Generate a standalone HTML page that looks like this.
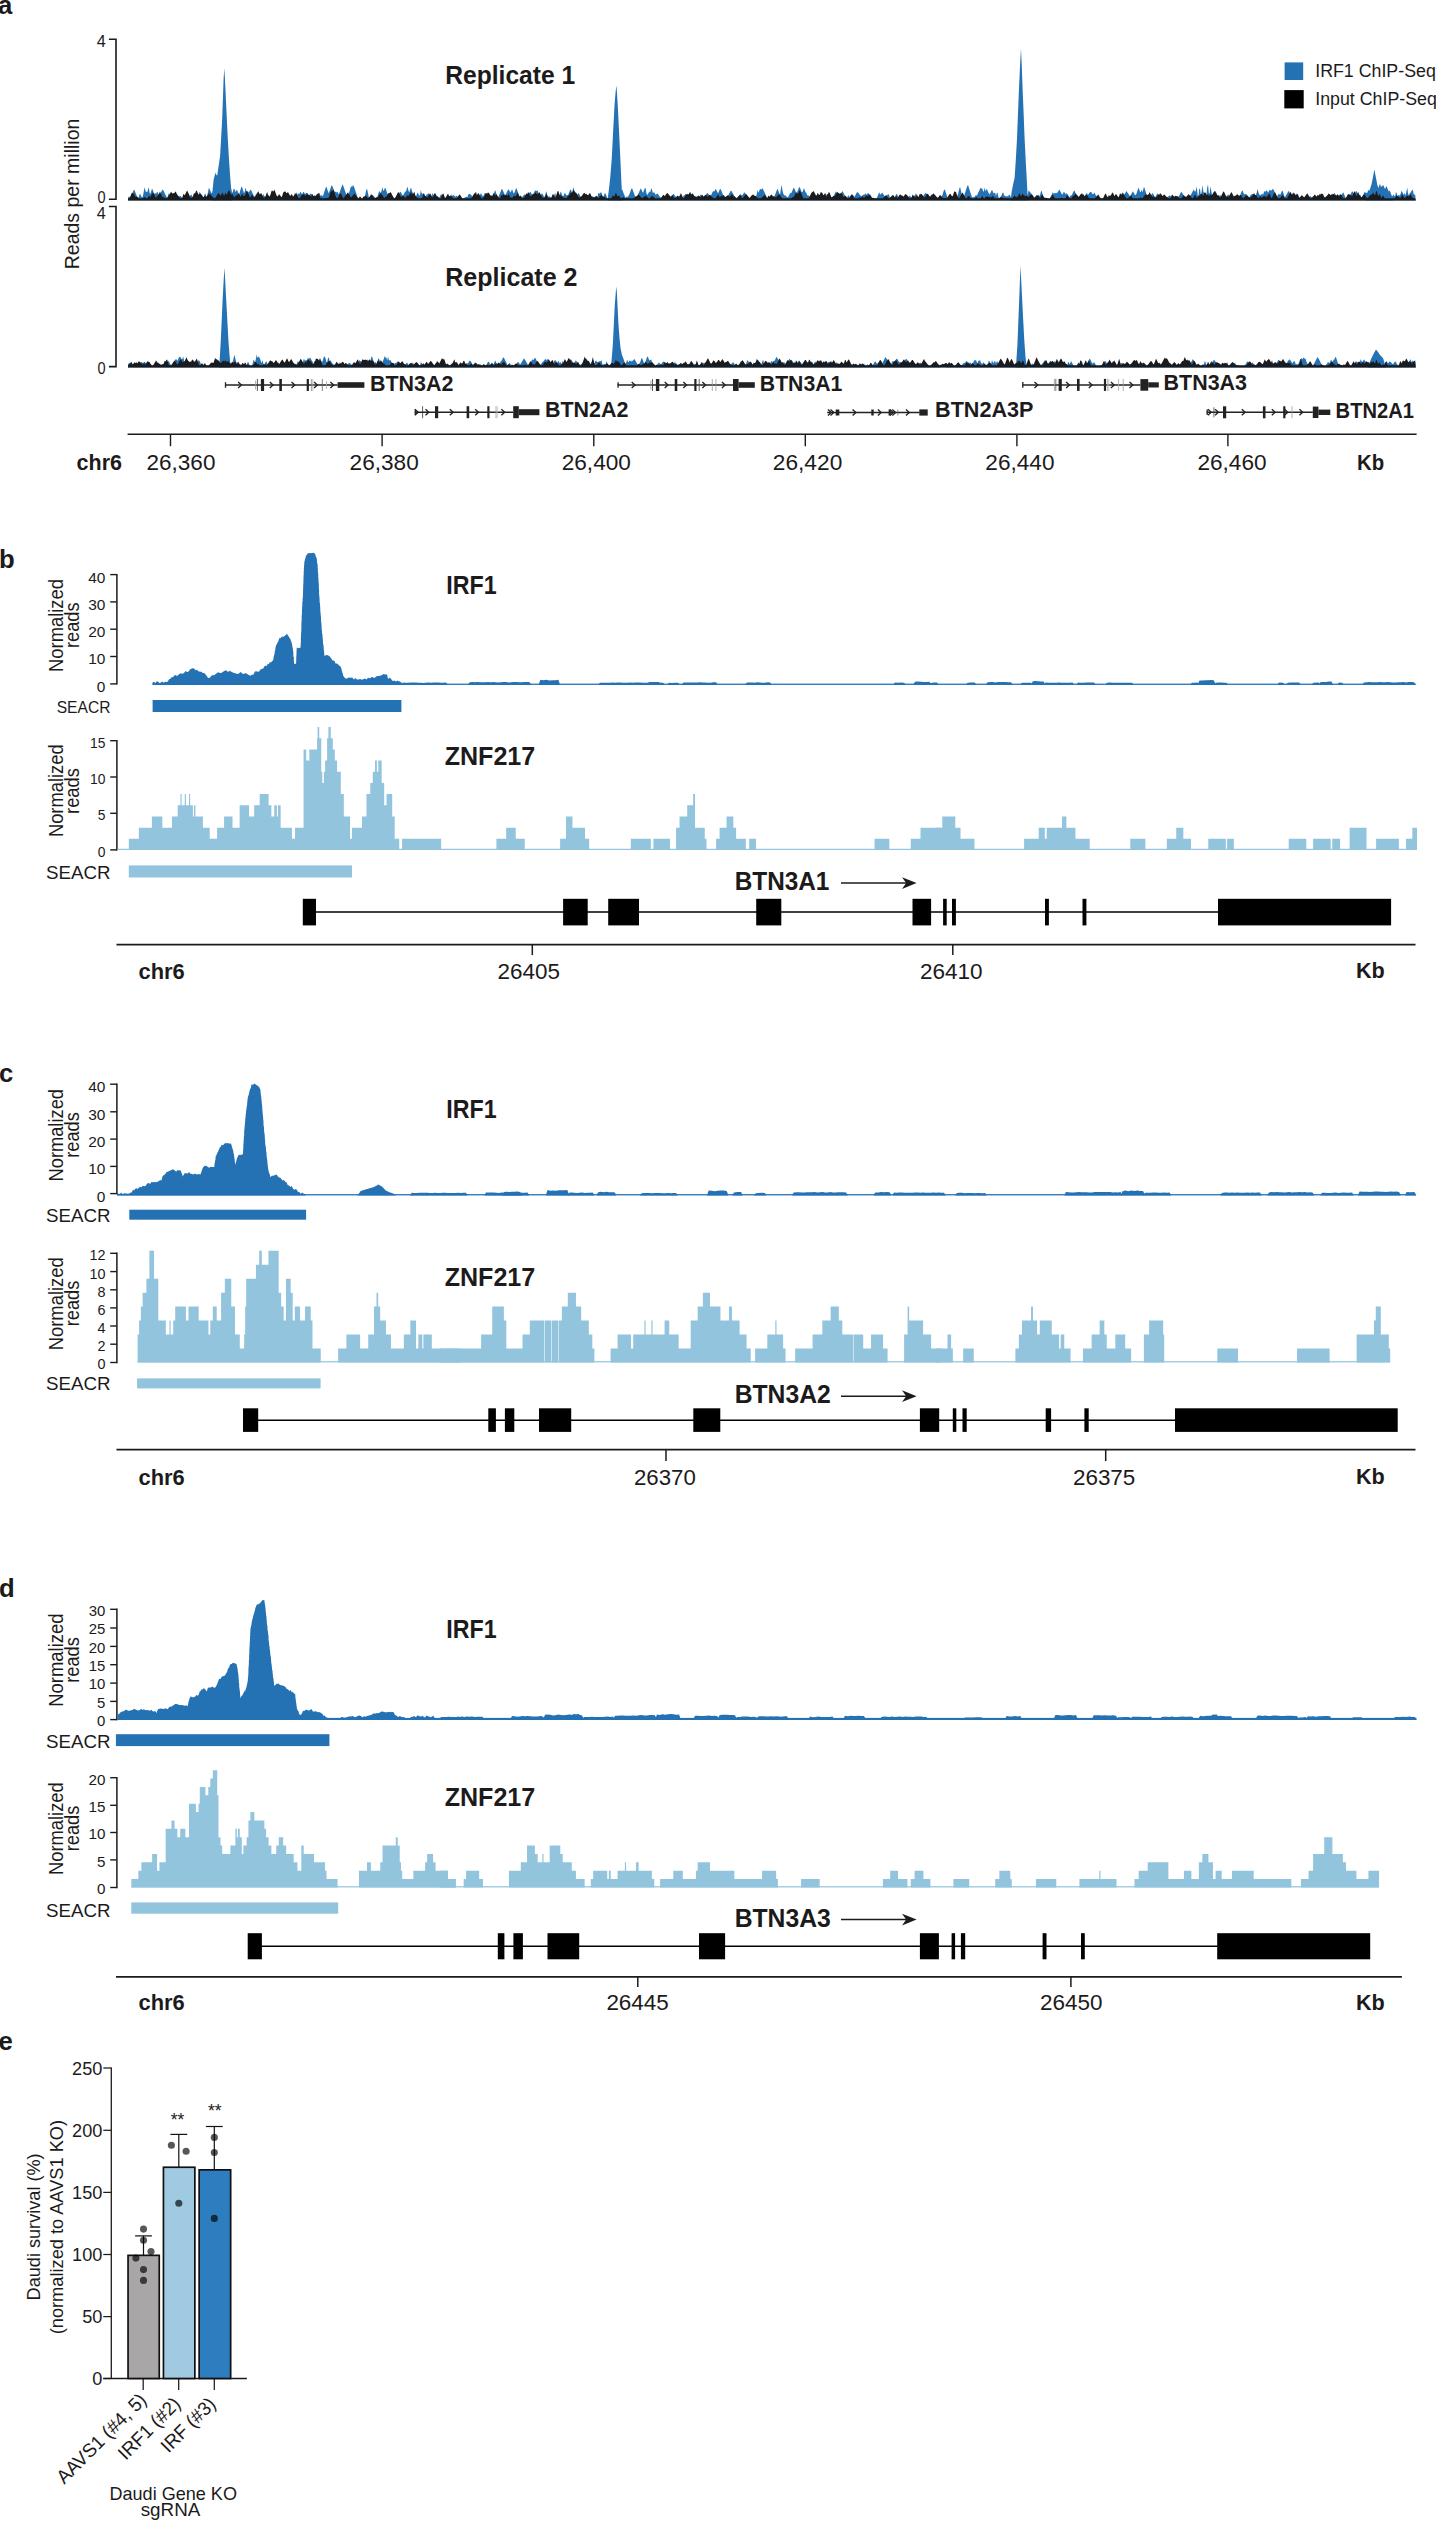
<!DOCTYPE html>
<html><head><meta charset="utf-8"><title>Figure</title>
<style>html,body{margin:0;padding:0;background:#fff;}svg{display:block;}text{font-family:"Liberation Sans",sans-serif;}</style></head>
<body>
<svg width="1436" height="2521" viewBox="0 0 1436 2521" font-family="'Liberation Sans', sans-serif">
<rect width="1436" height="2521" fill="#ffffff"/>
<!-- panel a -->
<text transform="translate(-2.1 13.6) scale(1.0000 1)" font-size="25.7" font-weight="bold" fill="#1c1a1b">a</text>
<path d="M108.9 39.2 H116 V199.2 H108.9" fill="none" stroke="#1c1a1b" stroke-width="1.6"/>
<path d="M108.9 206.5 H116 V366.6 H108.9" fill="none" stroke="#1c1a1b" stroke-width="1.6"/>
<text transform="translate(96.8 46.8) scale(0.9931 1)" font-size="16.3" fill="#1c1a1b">4</text>
<text transform="translate(97.5 202.8) scale(0.8938 1)" font-size="16.3" fill="#1c1a1b">0</text>
<text transform="translate(96.8 218.9) scale(0.9931 1)" font-size="16.3" fill="#1c1a1b">4</text>
<text transform="translate(97.5 374.1) scale(0.8938 1)" font-size="16.3" fill="#1c1a1b">0</text>
<text transform="translate(0 0) rotate(-90) translate(-269.3 79.1) scale(0.9753 1)" font-size="20" fill="#1c1a1b">Reads per million</text>
<text transform="translate(445.2 83.8) scale(0.9770 1)" font-size="25.2" font-weight="bold" fill="#1c1a1b">Replicate 1</text>
<text transform="translate(445.2 286) scale(0.9951 1)" font-size="25.2" font-weight="bold" fill="#1c1a1b">Replicate 2</text>
<rect x="1284.6" y="62.4" width="18.6" height="17.6" fill="#2472b4"/>
<rect x="1284.3" y="90.1" width="19.4" height="18.3" fill="#000000"/>
<text transform="translate(1315.2 76.7) scale(0.9272 1)" font-size="19.2" fill="#1c1a1b">IRF1 ChIP-Seq</text>
<text transform="translate(1315.2 104.7) scale(0.9272 1)" font-size="19.2" fill="#1c1a1b">Input ChIP-Seq</text>
<path d="M128 200.5L128 198.06L128.8 196.61L129.6 196.84L130.4 198.27L131.2 196.4L132 194.34L132.8 192.27L133.6 190.19L134.4 189.88L135.2 191.91L136 193.96L136.8 196.02L137.6 197.99L138.4 198.07L139.2 195.87L140 193.51L140.8 195.34L141.6 196.96L142.4 197.55L143.2 194.64L144 190.32L144.8 187.2L145.6 191.48L146.4 191.84L147.2 192.21L148 189.66L148.8 187.37L149.6 192.64L150.4 193.97L151.2 191.37L152 188.74L152.8 189.89L153.6 192.46L154.4 194.08L155.2 192.71L156 193.99L156.8 192.29L157.6 192.08L158.4 193.98L159.2 195.82L160 194.23L160.8 192.68L161.6 191.2L162.4 189.77L163.2 190L164 191.75L164.8 193.43L165.6 195.06L166.4 196.62L167.2 198.12L168 195.69L168.8 192.96L169.6 195.17L170.4 197.93L171.2 197.88L172 197.13L172.8 196.42L173.6 197.29L174.4 196.92L175.2 196.27L176 195.66L176.8 195.33L177.6 196.52L178.4 197.31L179.2 196.51L180 195.71L180.8 196.14L181.6 197.16L182.4 198.12L183.2 198.96L184 199.53L184.8 199.28L185.6 198.73L186.4 198.15L187.2 198.41L188 198.9L188.8 197.96L189.6 196.65L190.4 195.28L191.2 194.49L192 195.66L192.8 196.9L193.6 197.98L194.4 198.35L195.2 198.73L196 199.13L196.8 198.68L197.6 196.73L198.4 194.69L199.2 192.56L200 192.36L200.8 194.28L201.6 195.83L202.4 196.66L203.2 197.11L204 197.29L204.8 193.62L205.6 194.34L206.4 196.65L207.2 195.22L208 192.23L208.8 188.04L209.6 188.98L210.4 191.21L211.2 192.62L212 193.61L212.8 191.89L213.6 190.14L214.4 190.45L215.2 192.1L216 193.78L216.8 193.41L217.6 191.42L218.4 190.85L219.2 186.99L220 187.4L220.8 191.19L221.6 189.96L222.4 191.53L223.2 194.32L224 197.13L224.8 198.98L225.6 197.8L226.4 196.47L227.2 195.3L228 194.03L228.8 192.35L229.6 188.25L230.4 184.96L231.2 188.98L232 193.05L232.8 192L233.6 189L234.4 188.83L235.2 191.76L236 191.3L236.8 189.44L237.6 191.13L238.4 193.09L239.2 194.22L240 191.47L240.8 188.84L241.6 186.32L242.4 187.96L243.2 190.87L244 193.3L244.8 191.36L245.6 187.41L246.4 190.67L247.2 191.59L248 191.58L248.8 192.38L249.6 190.99L250.4 189.69L251.2 190.21L252 191.97L252.8 193.64L253.6 195.23L254.4 196.74L255.2 196.13L256 193.85L256.8 193.41L257.6 195.91L258.4 198.25L259.2 199.61L260 199.73L260.8 199.76L261.6 198.73L262.4 196.1L263.2 193.73L264 195.94L264.8 196.34L265.6 196.53L266.4 195.54L267.2 194.54L268 195.05L268.8 196.03L269.6 196.99L270.4 195.76L271.2 194.74L272 195.27L272.8 195.78L273.6 196.72L274.4 196.71L275.2 195.96L276 195.44L276.8 196.18L277.6 196.91L278.4 197.65L279.2 198.39L280 199.13L280.8 198.33L281.6 197.3L282.4 196.27L283.2 195.24L284 195.14L284.8 196.16L285.6 197.18L286.4 198.21L287.2 199.24L288 199.9L288.8 199.72L289.6 199.03L290.4 198.33L291.2 197.63L292 196.93L292.8 197.19L293.6 197.79L294.4 198.45L295.2 198.38L296 198.19L296.8 197.63L297.6 194.97L298.4 193.61L299.2 193.89L300 192.49L300.8 191.87L301.6 193.74L302.4 193.99L303.2 191.78L304 192.13L304.8 193.67L305.6 193.83L306.4 192.84L307.2 192.94L308 195.06L308.8 195.73L309.6 194.66L310.4 193.55L311.2 193.72L312 194.6L312.8 195.52L313.6 196.48L314.4 197.49L315.2 197.52L316 196.52L316.8 195.47L317.6 194.39L318.4 194.54L319.2 192.39L320 194.15L320.8 196.21L321.6 195.02L322.4 196.09L323.2 195.46L324 192.96L324.8 190.47L325.6 187.98L326.4 186.57L327.2 189.08L328 191.58L328.8 193.23L329.6 191.01L330.4 188.8L331.2 186.6L332 185.1L332.8 187.33L333.6 189.56L334.4 191.78L335.2 191.94L336 191.41L336.8 192.71L337.6 191.49L338.4 193.98L339.2 193.44L340 191.22L340.8 189L341.6 186.79L342.4 184.59L343.2 185.73L344 187.97L344.8 190.2L345.6 192.42L346.4 194.63L347.2 196.85L348 196.31L348.8 193.66L349.6 191.01L350.4 188.37L351.2 185.74L352 187.39L352.8 185.17L353.6 185.87L354.4 188.11L355.2 190.36L356 192.59L356.8 194.83L357.6 197.06L358.4 199.01L359.2 199.01L360 199.01L360.8 199.01L361.6 199.01L362.4 199.02L363.2 199.02L364 198.27L364.8 197.11L365.6 193.33L366.4 189.48L367.2 189.33L368 193.19L368.8 197.05L369.6 197.35L370.4 196.49L371.2 195.64L372 194.79L372.8 195.11L373.6 195.97L374.4 196.83L375.2 197.68L376 198.53L376.8 198.37L377.6 195.94L378.4 193.49L379.2 191.02L380 191.93L380.8 192.88L381.6 190.65L382.4 187.08L383.2 190.79L384 190.58L384.8 187.98L385.6 188.29L386.4 190.85L387.2 193.42L388 196L388.8 196.31L389.6 194.46L390.4 192.6L391.2 192.82L392 194.65L392.8 196.49L393.6 198.34L394.4 198.93L395.2 198.92L396 198.92L396.8 197.9L397.6 196.35L398.4 194.79L399.2 193.21L400 191.64L400.8 192.11L401.6 193.66L402.4 195.26L403.2 195.15L404 193.67L404.8 192.25L405.6 191.48L406.4 190.53L407.2 186.61L408 188.65L408.8 191.74L409.6 191.75L410.4 188.82L411.2 187.79L412 191L412.8 192.85L413.6 194.04L414.4 195.18L415.2 196.02L416 196.59L416.8 194.55L417.6 192.6L418.4 193.79L419.2 195.86L420 194.98L420.8 190.2L421.6 192.9L422.4 194.21L423.2 193.03L424 193.69L424.8 195.13L425.6 196.5L426.4 194.48L427.2 194.68L428 193.5L428.8 193.31L429.6 194.77L430.4 196.07L431.2 197.36L432 194.91L432.8 192.97L433.6 195.6L434.4 194.4L435.2 193.24L436 194.49L436.8 195.73L437.6 196.95L438.4 198.16L439.2 197.9L440 196.14L440.8 194.41L441.6 194.55L442.4 196.32L443.2 196.95L444 197.73L444.8 199.3L445.6 199.79L446.4 199.81L447.2 199.3L448 198.71L448.8 198.14L449.6 197.57L450.4 196.42L451.2 194.17L452 196.12L452.8 195.21L453.6 194.9L454.4 195.86L455.2 196.68L456 195.95L456.8 195.76L457.6 196.49L458.4 197.22L459.2 197.97L460 198.62L460.8 198.96L461.6 199.22L462.4 198.79L463.2 198.5L464 198.09L464.8 197.51L465.6 196.92L466.4 196.7L467.2 197.25L468 195.59L468.8 193.64L469.6 193.91L470.4 194.2L471.2 194.99L472 196.32L472.8 197.66L473.6 197.5L474.4 196.56L475.2 195.61L476 196.09L476.8 197L477.6 197.92L478.4 198.8L479.2 196.94L480 195.05L480.8 193.13L481.6 194.33L482.4 195.63L483.2 196.47L484 194.76L484.8 192.9L485.6 193.12L486.4 194.79L487.2 195.42L488 193.88L488.8 193L489.6 194.35L490.4 195.76L491.2 197.22L492 198.75L492.8 197.49L493.6 194.85L494.4 192.12L495.2 190.12L496 192.67L496.8 195.31L497.6 198.03L498.4 196.83L499.2 194.99L500 193.08L500.8 191.13L501.6 189.12L502.4 189.5L503.2 191.27L504 193.09L504.8 194.97L505.6 194.76L506.4 193.12L507.2 191.43L508 189.7L508.8 189.56L509.6 191.07L510.4 192.62L511.2 191.22L512 189.05L512.8 191.24L513.6 193.45L514.4 192.86L515.2 190.59L516 188.36L516.8 189.1L517.6 191.48L518.4 193.82L519.2 196.12L520 197.36L520.8 198.24L521.6 197.65L522.4 196.65L523.2 195.68L524 194.73L524.8 194.57L525.6 195.61L526.4 196.63L527.2 196.17L528 194.94L528.8 193.74L529.6 192.56L530.4 191.82L531.2 193.14L532 194.43L532.8 195.69L533.6 194.28L534.4 191.65L535.2 190.16L536 191.06L536.8 190.7L537.6 190.44L538.4 192.65L539.2 194.77L540 195.57L540.8 195.18L541.6 193.6L542.4 193.82L543.2 195.31L544 196.86L544.8 196.7L545.6 193.19L546.4 191.26L547.2 194.67L548 196.83L548.8 196.16L549.6 196.45L550.4 197.03L551.2 197.63L552 198.24L552.8 198.5L553.6 198.32L554.4 194.5L555.2 193.01L556 196.34L556.8 194.77L557.6 193.75L558.4 197.61L559.2 195.8L560 193.59L560.8 191.43L561.6 193.52L562.4 195.66L563.2 196.15L564 194.51L564.8 192.83L565.6 194.01L566.4 195.46L567.2 194.91L568 195.36L568.8 193.24L569.6 191.19L570.4 189.23L571.2 190.5L572 192.76L572.8 189.5L573.6 187.37L574.4 191.43L575.2 192.07L576 193.44L576.8 194.75L577.6 194.53L578.4 192.96L579.2 193.97L580 195.77L580.8 197.27L581.6 198.2L582.4 198.37L583.2 197.48L584 196.65L584.8 195.87L585.6 195.15L586.4 194.49L587.2 195.26L588 195.96L588.8 197.12L589.6 195.03L590.4 192.68L591.2 196.37L592 196.43L592.8 196.35L593.6 197.19L594.4 197.81L595.2 198.41L596 197.88L596.8 197.9L597.6 196.79L598.4 192.47L599.2 193.67L600 193.16L600.8 192.3L601.6 193.09L602.4 195.68L603.2 196.8L604 195.4L604.8 193.11L605.6 193.72L606.4 195.87L607.2 198.09L608 198.6L608.8 198.92L609.6 198.07L610.4 198.96L611.2 199.57L612 199.56L612.8 199.25L613.6 198.36L614.4 197.43L615.2 196.48L616 195.68L616.8 193.47L617.6 191.2L618.4 192.61L619.2 194.73L620 194.95L620.8 192.34L621.6 189.69L622.4 189.74L623.2 192.26L624 194.17L624.8 196.05L625.6 197.95L626.4 196.6L627.2 196.99L628 196.43L628.8 195.41L629.6 193.67L630.4 191.42L631.2 189.14L632 188L632.8 190.16L633.6 192.35L634.4 194.58L635.2 196.83L636 197.35L636.8 196.34L637.6 195.22L638.4 193.47L639.2 191.69L640 189.89L640.8 188.25L641.6 189.93L642.4 191.64L643.2 192.73L644 190.04L644.8 188.13L645.6 188.33L646.4 193.2L647.2 195.08L648 193.82L648.8 192.6L649.6 191.81L650.4 191.81L651.2 188.37L652 189.49L652.8 193.14L653.6 192.32L654.4 192.45L655.2 194.35L656 194.82L656.8 193.79L657.6 193.56L658.4 194.79L659.2 195.97L660 197.01L660.8 197.52L661.6 197.48L662.4 198.33L663.2 198.07L664 197.6L664.8 197.4L665.6 197.97L666.4 198.52L667.2 199.05L668 199.55L668.8 199.38L669.6 198.27L670.4 197.23L671.2 196.25L672 195.34L672.8 194.48L673.6 193.76L674.4 194.92L675.2 196.02L676 197.06L676.8 196.75L677.6 195.63L678.4 196.03L679.2 196.11L680 195.31L680.8 195.65L681.6 196.29L682.4 196.97L683.2 196.53L684 195.37L684.8 195.09L685.6 194L686.4 194.41L687.2 195.25L688 195.25L688.8 194.59L689.6 192.36L690.4 192.02L691.2 194.1L692 196.11L692.8 197.71L693.6 198.67L694.4 197.51L695.2 196.86L696 196.52L696.8 196.48L697.6 195.93L698.4 195.5L699.2 196.34L700 195.84L700.8 194.47L701.6 194.87L702.4 196.15L703.2 197.45L704 197.49L704.8 196.36L705.6 195.23L706.4 194.1L707.2 192.96L708 193.48L708.8 194.6L709.6 195.73L710.4 196.67L711.2 195L712 193.33L712.8 191.66L713.6 190.94L714.4 191.56L715.2 189.65L716 189L716.8 190.89L717.6 192.78L718.4 192.68L719.2 190.78L720 188.87L720.8 189.46L721.6 191.35L722.4 193.24L723.2 195.14L724 197.04L724.8 197.38L725.6 196.58L726.4 195.97L727.2 196.76L728 195.66L728.8 194.23L729.6 192.79L730.4 191.35L731.2 190.54L732 191.95L732.8 193.37L733.6 194.8L734.4 196.23L735.2 197.67L736 199.06L736.8 198.18L737.6 197.3L738.4 196.41L739.2 195.52L740 194.62L740.8 194.33L741.6 195.2L742.4 195.18L743.2 194.01L744 192.83L744.8 192.55L745.6 193.7L746.4 194.86L747.2 196.02L748 197.19L748.8 198.36L749.6 199.26L750.4 199.25L751.2 199.25L752 199.25L752.8 198.25L753.6 196.82L754.4 195.39L755.2 196.21L756 197.58L756.8 193.86L757.6 190.11L758.4 192.91L759.2 191.01L760 189.08L760.8 189.17L761.6 189.45L762.4 188.05L763.2 189.69L764 191.36L764.8 193.05L765.6 194.77L766.4 196.51L767.2 198.28L768 199.11L768.8 199.1L769.6 199.09L770.4 198.64L771.2 197.2L772 197.38L772.8 198.81L773.6 198.3L774.4 196.32L775.2 194.32L776 192.29L776.8 190.33L777.6 188.64L778.4 190.97L779.2 193.32L780 194.87L780.8 189.57L781.6 184.74L782.4 189.98L783.2 193.58L784 194.77L784.8 195.54L785.6 195.48L786.4 196.3L787.2 197.19L788 197.14L788.8 195.66L789.6 194.2L790.4 192.75L791.2 193.37L792 191.5L792.8 189.64L793.6 187.78L794.4 188.46L795.2 190.39L796 192.3L796.8 193L797.6 191L798.4 189.02L799.2 187.05L800 187.87L800.8 189.92L801.6 191.95L802.4 192.31L803.2 190.31L804 188.33L804.8 190.19L805.6 192.24L806.4 192.98L807.2 195.32L808 195.43L808.8 195.62L809.6 197.06L810.4 195.61L811.2 194.17L812 192.75L812.8 194.23L813.6 195.72L814.4 196.92L815.2 197.12L816 196.27L816.8 195.45L817.6 194.64L818.4 195.12L819.2 196.03L820 196.91L820.8 197.78L821.6 197.62L822.4 194.47L823.2 195.4L824 197.05L824.8 193.64L825.6 193.26L826.4 194.75L827.2 196.2L828 194.92L828.8 197.63L829.6 198.84L830.4 198.19L831.2 197.96L832 197.27L832.8 196.99L833.6 196.31L834.4 194.49L835.2 192.71L836 191.28L836.8 193L837.6 195.02L838.4 196.98L839.2 196.34L840 195.49L840.8 194.37L841.6 192.71L842.4 191.05L843.2 192.19L844 193.85L844.8 195.51L845.6 197.17L846.4 198.83L847.2 197.81L848 195.49L848.8 195.41L849.6 197.15L850.4 196.26L851.2 195.08L852 194.47L852.8 194.94L853.6 195.83L854.4 196.72L855.2 195.38L856 193.98L856.8 192.58L857.6 192.22L858.4 192.85L859.2 193.93L860 195.01L860.8 196.09L861.6 196.27L862.4 195.31L863.2 194.4L864 195.35L864.8 193.98L865.6 193.6L866.4 194.63L867.2 194.12L868 193.04L868.8 193.46L869.6 194.57L870.4 194.39L871.2 195.92L872 197.42L872.8 198.25L873.6 199.08L874.4 199.62L875.2 199.63L876 198.99L876.8 198.1L877.6 196.23L878.4 194.21L879.2 192.2L880 194.12L880.8 194.47L881.6 193.31L882.4 192.72L883.2 193.93L884 195.13L884.8 196.32L885.6 197.09L886.4 194.69L887.2 195.58L888 194.11L888.8 194.52L889.6 196.8L890.4 196.78L891.2 197.58L892 197.83L892.8 197.43L893.6 198.07L894.4 197.7L895.2 196.24L896 194.76L896.8 193.81L897.6 195.27L898.4 196.74L899.2 196.54L900 195.64L900.8 195.05L901.6 195.93L902.4 196.16L903.2 196.92L904 197.68L904.8 198.44L905.6 199.21L906.4 198.54L907.2 197.82L908 197.09L908.8 196.37L909.6 195.67L910.4 196.38L911.2 197.09L912 197.45L912.8 196.7L913.6 196.83L914.4 195.63L915.2 194.42L916 193.62L916.8 194.81L917.6 195.99L918.4 197.19L919.2 196.74L920 195.68L920.8 194.62L921.6 193.96L922.4 195L923.2 195.99L924 195L924.8 193.84L925.6 192.64L926.4 193.41L927.2 194.39L928 195.42L928.8 196.49L929.6 197.14L930.4 196.04L931.2 194.76L932 195.12L932.8 196L933.6 196.06L934.4 194.75L935.2 195.68L936 196.88L936.8 198.12L937.6 199.32L938.4 199.3L939.2 198.67L940 197.93L940.8 197.18L941.6 196.92L942.4 194.93L943.2 192.44L944 189.88L944.8 189.41L945.6 191.78L946.4 194.22L947.2 196.72L948 197.89L948.8 198.3L949.6 198.58L950.4 198.14L951.2 197.72L952 197.5L952.8 197.93L953.6 197.47L954.4 196.91L955.2 196.91L956 197.34L956.8 196.75L957.6 195.79L958.4 192.47L959.2 189.14L960 186.78L960.8 190.1L961.6 193.42L962.4 196.75L963.2 198.58L964 196.14L964.8 193.7L965.6 191.25L966.4 188.81L967.2 186.36L968 185.08L968.8 187.52L969.6 189.96L970.4 192.4L971.2 194.84L972 197.29L972.8 197.34L973.6 197.03L974.4 197.25L975.2 196.07L976 194.88L976.8 195.76L977.6 194.26L978.4 192.31L979.2 190.92L980 188.8L980.8 187.73L981.6 188.44L982.4 189.12L983.2 191.93L984 190.56L984.8 187.5L985.6 191.48L986.4 189.25L987.2 189.46L988 192.02L988.8 192.91L989.6 194.59L990.4 192.95L991.2 191.35L992 189.84L992.8 191.51L993.6 193.39L994.4 192.7L995.2 192.98L996 196.1L996.8 192.94L997.6 192.72L998.4 197.28L999.2 197.95L1000 197.21L1000.8 196.43L1001.6 195.5L1002.4 192.93L1003.2 192.41L1004 194.87L1004.8 196.02L1005.6 196.26L1006.4 196.38L1007.2 195.89L1008 196.51L1008.8 194.89L1009.6 194.8L1010.4 196.26L1011.2 197.79L1012 197.48L1012.8 196.54L1013.6 196.27L1014.4 195.76L1015.2 196.29L1016 194.99L1016.8 193.49L1017.6 191.93L1018.4 192.85L1019.2 194.19L1020 195.58L1020.8 194.86L1021.6 195.31L1022.4 196.61L1023.2 197.95L1024 198.01L1024.8 198.12L1025.6 196.56L1026.4 196.98L1027.2 195.79L1028 192.9L1028.8 189.93L1029.6 191.81L1030.4 192.58L1031.2 193.62L1032 194.31L1032.8 195.35L1033.6 196.4L1034.4 197.45L1035.2 198.5L1036 199.29L1036.8 197.42L1037.6 195.2L1038.4 194.5L1039.2 195.96L1040 195.46L1040.8 192.1L1041.6 190.49L1042.4 193.86L1043.2 197.23L1044 197.19L1044.8 198.12L1045.6 198.87L1046.4 198.41L1047.2 197.96L1048 198.43L1048.8 198.9L1049.6 199.15L1050.4 197.42L1051.2 195.69L1052 193.97L1052.8 192.26L1053.6 193.4L1054.4 193.14L1055.2 193.05L1056 193.47L1056.8 192.84L1057.6 192.47L1058.4 190.94L1059.2 189.41L1060 190.73L1060.8 192.3L1061.6 193.87L1062.4 194.65L1063.2 193.02L1064 191.4L1064.8 192.96L1065.6 194.35L1066.4 193.14L1067.2 193.66L1068 194.91L1068.8 196.14L1069.6 197.36L1070.4 195.73L1071.2 195.46L1072 194.78L1072.8 193.06L1073.6 191.35L1074.4 190.45L1075.2 192.2L1076 193.95L1076.8 195.68L1077.6 197.4L1078.4 198.14L1079.2 196.06L1080 195.9L1080.8 196.94L1081.6 193.16L1082.4 193.27L1083.2 197.47L1084 197.14L1084.8 195.81L1085.6 194.49L1086.4 193.18L1087.2 193.54L1088 194.91L1088.8 193.75L1089.6 192.58L1090.4 191.99L1091.2 192.04L1092 193.58L1092.8 194.18L1093.6 193.73L1094.4 192.55L1095.2 194.18L1096 195.47L1096.8 196.16L1097.6 197.61L1098.4 198.87L1099.2 199.58L1100 199.67L1100.8 199.68L1101.6 199.69L1102.4 199.7L1103.2 199.7L1104 199.6L1104.8 199.17L1105.6 198.75L1106.4 198.95L1107.2 197.66L1108 196.01L1108.8 195.01L1109.6 196.72L1110.4 197.97L1111.2 197.97L1112 198.49L1112.8 197.71L1113.6 197.35L1114.4 198.23L1115.2 199.04L1116 199.77L1116.8 199.75L1117.6 199.12L1118.4 198.25L1119.2 197.34L1120 196.66L1120.8 195.28L1121.6 193.85L1122.4 192.35L1123.2 193.29L1124 194.53L1124.8 193.86L1125.6 192.46L1126.4 191.08L1127.2 192.18L1128 193.35L1128.8 194.56L1129.6 195.83L1130.4 195.69L1131.2 194.19L1132 192.63L1132.8 191.23L1133.6 192.55L1134.4 193.93L1135.2 195.35L1136 194.7L1136.8 192.72L1137.6 190.13L1138.4 187.45L1139.2 189.45L1140 191.86L1140.8 192.22L1141.6 189.6L1142.4 192.24L1143.2 189.79L1144 186.66L1144.8 189.11L1145.6 191.62L1146.4 194.05L1147.2 196.39L1148 197.86L1148.8 197.82L1149.6 196.99L1150.4 196.2L1151.2 194.91L1152 193.61L1152.8 193.16L1153.6 194.68L1154.4 196.14L1155.2 197.27L1156 195.85L1156.8 194.51L1157.6 193.23L1158.4 194.14L1159.2 195.66L1160 197.11L1160.8 198.48L1161.6 198.35L1162.4 198L1163.2 197.67L1164 197.8L1164.8 198.17L1165.6 197.64L1166.4 197.78L1167.2 197.31L1168 196.76L1168.8 196.12L1169.6 195.38L1170.4 195.74L1171.2 196.43L1172 197.17L1172.8 196.25L1173.6 195.78L1174.4 197.42L1175.2 198.94L1176 198.42L1176.8 197.88L1177.6 197.31L1178.4 196.64L1179.2 195.43L1180 194.01L1180.8 192.54L1181.6 192.02L1182.4 193.25L1183.2 194.52L1184 195.85L1184.8 197.24L1185.6 198.68L1186.4 199.03L1187.2 198.59L1188 198.04L1188.8 197.17L1189.6 196.26L1190.4 195.33L1191.2 194.37L1192 192.83L1192.8 191.23L1193.6 189.59L1194.4 190.66L1195.2 192.06L1196 190.02L1196.8 186.48L1197.6 194.5L1198.4 196.43L1199.2 189.11L1200 188.68L1200.8 195.04L1201.6 192.09L1202.4 184.98L1203.2 191.09L1204 192.99L1204.8 192L1205.6 194.74L1206.4 195.51L1207.2 187.81L1208 184.5L1208.8 192.9L1209.6 193.52L1210.4 186.6L1211.2 190.48L1212 194.81L1212.8 193.58L1213.6 191.97L1214.4 193.32L1215.2 194.6L1216 191.56L1216.8 195.55L1217.6 197.01L1218.4 195.95L1219.2 196.88L1220 194.48L1220.8 195.73L1221.6 196.6L1222.4 197.44L1223.2 197.8L1224 197.33L1224.8 197.89L1225.6 197.12L1226.4 196.33L1227.2 195.51L1228 195L1228.8 194.44L1229.6 195.88L1230.4 196.86L1231.2 195.29L1232 195.29L1232.8 196.77L1233.6 196.8L1234.4 197.03L1235.2 197.59L1236 198.16L1236.8 198.56L1237.6 197.53L1238.4 196.76L1239.2 197.59L1240 195.6L1240.8 193.56L1241.6 191.46L1242.4 190.26L1243.2 192.19L1244 194.17L1244.8 194.21L1245.6 194.1L1246.4 194.16L1247.2 195.06L1248 196.4L1248.8 197.76L1249.6 196.73L1250.4 195.55L1251.2 194.35L1252 194.45L1252.8 193.7L1253.6 195.28L1254.4 196.22L1255.2 195.36L1256 194.97L1256.8 192.33L1257.6 189.11L1258.4 192.51L1259.2 194.21L1260 195.37L1260.8 195.36L1261.6 193.9L1262.4 193.8L1263.2 194.71L1264 191.71L1264.8 191.25L1265.6 191.84L1266.4 190.32L1267.2 191.11L1268 192.65L1268.8 191.6L1269.6 189.81L1270.4 190.36L1271.2 190.46L1272 190.34L1272.8 188.61L1273.6 189.85L1274.4 191.59L1275.2 193.33L1276 195.06L1276.8 196.79L1277.6 195.58L1278.4 194.35L1279.2 193.66L1280 194.96L1280.8 193.77L1281.6 191.61L1282.4 190.41L1283.2 192.75L1284 195.02L1284.8 197.23L1285.6 196.1L1286.4 194.63L1287.2 193.21L1288 192.03L1288.8 190.79L1289.6 192.72L1290.4 194.59L1291.2 196.41L1292 194.7L1292.8 192.64L1293.6 192.49L1294.4 194.72L1295.2 196.88L1296 197.35L1296.8 195.33L1297.6 193.39L1298.4 195.12L1299.2 197.19L1300 198.04L1300.8 198.7L1301.6 198.48L1302.4 197.8L1303.2 197.15L1304 197.05L1304.8 197.81L1305.6 198.4L1306.4 197.49L1307.2 196.74L1308 196.89L1308.8 197.14L1309.6 196.55L1310.4 196.24L1311.2 196.81L1312 197.4L1312.8 197.48L1313.6 197.59L1314.4 198.09L1315.2 198.44L1316 198.43L1316.8 196.52L1317.6 194.57L1318.4 195.88L1319.2 197.79L1320 199.73L1320.8 199.82L1321.6 199.81L1322.4 199.41L1323.2 198.85L1324 198.2L1324.8 197.53L1325.6 196.86L1326.4 196.18L1327.2 195.45L1328 195.15L1328.8 194.97L1329.6 193.88L1330.4 194.88L1331.2 195.9L1332 196.94L1332.8 196.45L1333.6 194.6L1334.4 192.66L1335.2 193.98L1336 195.78L1336.8 197.64L1337.6 196.91L1338.4 195.87L1339.2 194.8L1340 195.07L1340.8 196.02L1341.6 195.53L1342.4 193.55L1343.2 192.15L1344 193.99L1344.8 195.88L1345.6 197.83L1346.4 199.52L1347.2 199.5L1348 199.13L1348.8 197.64L1349.6 196.11L1350.4 194.54L1351.2 192.94L1352 191.3L1352.8 191.79L1353.6 193.27L1354.4 194.25L1355.2 192.64L1356 191L1356.8 191.6L1357.6 193.09L1358.4 194.61L1359.2 196.17L1360 197.52L1360.8 197.97L1361.6 197.45L1362.4 196.05L1363.2 194.64L1364 193.21L1364.8 191.77L1365.6 192.69L1366.4 192.8L1367.2 192.92L1368 190.64L1368.8 189.83L1369.6 192.23L1370.4 194.64L1371.2 197.08L1372 199.21L1372.8 199.2L1373.6 199.2L1374.4 195.99L1375.2 192.26L1376 188.97L1376.8 192.67L1377.6 193.15L1378.4 191.05L1379.2 190.67L1380 192.72L1380.8 194.79L1381.6 196.87L1382.4 197.7L1383.2 195.83L1384 192.88L1384.8 190.08L1385.6 189.56L1386.4 194.8L1387.2 193.98L1388 192.81L1388.8 191.55L1389.6 190.36L1390.4 192.32L1391.2 194.27L1392 196.24L1392.8 195.72L1393.6 194.29L1394.4 195.92L1395.2 195.92L1396 191.78L1396.8 193.77L1397.6 196.08L1398.4 194.9L1399.2 195.46L1400 195.21L1400.8 193.32L1401.6 190.71L1402.4 192.12L1403.2 194L1404 194.81L1404.8 192.69L1405.6 195.39L1406.4 191.84L1407.2 187.58L1408 193.24L1408.8 195.48L1409.6 193.4L1410.4 192.84L1411.2 191.19L1412 190.83L1412.8 189.2L1413.6 194.05L1414.4 194.42L1415.2 194.89L1415.8 200.5Z" fill="#2472b4"/>
<path d="M211.9 200.5L212.4 192L213.6 180L215.4 172.5L216 174.5L217.2 175.5L218.6 166L220.1 156L221.2 137L222.2 118.5L223 96L223.6 79L224.3 68.2L224.9 78L225.4 88L226.4 110L227.6 135L228.9 158L230.2 177L231.4 192L232.2 200.5Z" fill="#2472b4"/>
<path d="M607.4 200.5L608.6 192L610.2 178L611.8 158L613.2 130L614.6 104L615.6 92L616.4 85.6L617 93L617.9 108L619.2 135L620.4 160L621.4 182L622.4 200.5Z" fill="#2472b4"/>
<path d="M1010.6 200.5L1011.6 192L1013.2 184L1014.6 178L1015.8 160L1017 138.6L1018 113L1019 88.5L1020.2 62L1021 48.8L1021.7 64L1022.6 88.5L1023.6 113L1024.6 138.6L1025.8 162L1026.8 180L1027.8 200.5Z" fill="#2472b4"/>
<path d="M1366 200.5L1368 194L1370 189L1371.6 184L1372.8 178L1373.8 172.5L1374.5 169.8L1375.3 174.5L1376.2 179L1377.2 184.5L1378.5 188L1380 183.5L1381 187L1383.2 185L1385 189L1386.5 186L1388.5 191L1391 196L1393 200.5Z" fill="#2472b4"/>
<path d="M128 200.5L128 198.2L128.8 198.2L129.6 198.2L130.4 196.34L131.2 194.32L132 192.55L132.8 193.15L133.6 193.68L134.4 194.7L135.2 196.47L136 196.85L136.8 196.4L137.6 197.03L138.4 197.67L139.2 198.2L140 198.2L140.8 198.2L141.6 198.2L142.4 198.2L143.2 197.99L144 197.24L144.8 197.11L145.6 197.83L146.4 198.2L147.2 198.2L148 197.23L148.8 196.11L149.6 196.34L150.4 197.08L151.2 194.83L152 194.11L152.8 192.18L153.6 193.5L154.4 195.11L155.2 196.74L156 197.82L156.8 196.81L157.6 195.81L158.4 194.8L159.2 193.32L160 191.57L160.8 193.39L161.6 195.23L162.4 197.07L163.2 197.49L164 197L164.8 197.82L165.6 198.2L166.4 198.2L167.2 198.1L168 196.76L168.8 195.42L169.6 194.06L170.4 192.7L171.2 191.87L172 193.2L172.8 193.62L173.6 192.9L174.4 193.27L175.2 191.39L176 192.07L176.8 193.93L177.6 195.11L178.4 196.04L179.2 196.98L180 197.92L180.8 198.2L181.6 198.2L182.4 197.42L183.2 194.33L184 194.16L184.8 195.19L185.6 193.45L186.4 191.7L187.2 190.53L188 192.26L188.8 193.99L189.6 195.72L190.4 197.45L191.2 197.89L192 197.15L192.8 197.23L193.6 193.91L194.4 193.31L195.2 193.33L196 191.03L196.8 190.55L197.6 192.85L198.4 194.63L199.2 194.45L200 193.7L200.8 193.67L201.6 194.75L202.4 195.83L203.2 196.91L204 196.89L204.8 195.22L205.6 196.44L206.4 197.02L207.2 195.4L208 195.79L208.8 192.78L209.6 194.18L210.4 194.14L211.2 195.22L212 196.3L212.8 196.68L213.6 197.64L214.4 198.2L215.2 197.75L216 197.12L216.8 195.3L217.6 194.56L218.4 192.72L219.2 193.46L220 195.29L220.8 195.42L221.6 194.07L222.4 192.38L223.2 193.84L224 195.99L224.8 194.22L225.6 192.41L226.4 194.72L227.2 193.63L228 191.78L228.8 189.92L229.6 191.14L230.4 192.99L231.2 194.81L232 194.5L232.8 194.23L233.6 196.75L234.4 197.23L235.2 196.59L236 194.9L236.8 195.66L237.6 194.43L238.4 193.34L239.2 194.56L240 195.78L240.8 197L241.6 194.72L242.4 193.71L243.2 195.69L244 196.01L244.8 195.65L245.6 193.65L246.4 191.65L247.2 190.88L248 192.87L248.8 194.86L249.6 196.86L250.4 197.62L251.2 196.06L252 194.49L252.8 195.66L253.6 197.22L254.4 196.88L255.2 196.38L256 195.47L256.8 194.19L257.6 192.18L258.4 191.33L259.2 193.33L260 194.55L260.8 193.03L261.6 193.7L262.4 195.22L263.2 196.73L264 198.14L264.8 197.57L265.6 196.3L266.4 193.65L267.2 191.98L268 195.02L268.8 195.85L269.6 196.75L270.4 195.04L271.2 191.92L272 190.37L272.8 191.26L273.6 191.51L274.4 189.61L275.2 191.82L276 193.99L276.8 196.12L277.6 196.39L278.4 195.37L279.2 194.37L280 195.24L280.8 196.32L281.6 197.38L282.4 195.2L283.2 192.72L284 191.39L284.8 191.63L285.6 191.56L286.4 193.35L287.2 192.84L288 191.98L288.8 193.52L289.6 195.02L290.4 196.06L291.2 194.35L292 194.36L292.8 196.15L293.6 196.35L294.4 194.54L295.2 192.79L296 194.69L296.8 192.16L297.6 195.48L298.4 198.07L299.2 198.2L300 197.76L300.8 196.45L301.6 195.17L302.4 194.2L303.2 194.64L304 194.08L304.8 195.34L305.6 195.79L306.4 194.66L307.2 193.5L308 194.34L308.8 195.04L309.6 195.18L310.4 195.97L311.2 196.79L312 194.54L312.8 194.21L313.6 196.44L314.4 195.24L315.2 196.07L316 195.48L316.8 194.3L317.6 193.9L318.4 192.78L319.2 194.69L320 196.65L320.8 198.2L321.6 198.2L322.4 198.2L323.2 198.2L324 198.17L324.8 198.15L325.6 198.12L326.4 198.09L327.2 198.06L328 198.03L328.8 197.58L329.6 194.91L330.4 192.17L331.2 190.29L332 191.72L332.8 190.32L333.6 189.49L334.4 191.84L335.2 194.92L336 196.84L336.8 198.07L337.6 198.11L338.4 196.84L339.2 195.3L340 193.82L340.8 193.17L341.6 194.83L342.4 196.43L343.2 197.97L344 197.55L344.8 196.43L345.6 195.36L346.4 194.47L347.2 193.28L348 192.33L348.8 193.78L349.6 195.17L350.4 196.5L351.2 197.46L352 196.41L352.8 195.42L353.6 194.48L354.4 193.6L355.2 194.48L356 195.63L356.8 196.73L357.6 197.77L358.4 198.2L359.2 197.43L360 196.31L360.8 197.19L361.6 198.2L362.4 198.15L363.2 196.99L364 196.15L364.8 196.56L365.6 195.56L366.4 196.36L367.2 197.21L368 198.1L368.8 197.84L369.6 196.72L370.4 195.55L371.2 194.34L372 195.1L372.8 196.14L373.6 197.22L374.4 197.95L375.2 198.2L376 197.6L376.8 196.9L377.6 197.42L378.4 196.25L379.2 195.05L380 193.8L380.8 193.19L381.6 194.25L382.4 195.35L383.2 196.5L384 197.68L384.8 197.71L385.6 196.8L386.4 196.87L387.2 195.06L388 193.14L388.8 193.27L389.6 192.94L390.4 192.05L391.2 193.45L392 194.97L392.8 196.21L393.6 197.4L394.4 198.2L395.2 197.8L396 196.31L396.8 194.84L397.6 193.05L398.4 191.95L399.2 193.45L400 194.95L400.8 196.43L401.6 197.03L402.4 196.09L403.2 195.63L404 196.62L404.8 197.59L405.6 197.73L406.4 196.58L407.2 195.03L408 196.05L408.8 195.57L409.6 194.13L410.4 192.71L411.2 192.48L412 193.97L412.8 194.38L413.6 192.95L414.4 191.76L415.2 195.34L416 196.26L416.8 197.19L417.6 198.1L418.4 198.2L419.2 198.2L420 198.2L420.8 198.2L421.6 197.69L422.4 197.64L423.2 194.85L424 193.56L424.8 195.68L425.6 196.16L426.4 197.11L427.2 197.4L428 196.8L428.8 195.35L429.6 193.87L430.4 193.77L431.2 195.27L432 196.76L432.8 197.5L433.6 195.43L434.4 193.38L435.2 193.42L436 195.41L436.8 197L437.6 195.98L438.4 197.17L439.2 197.83L440 198.2L440.8 198.2L441.6 196.31L442.4 194.18L443.2 193.15L444 195.29L444.8 197.42L445.6 197.71L446.4 196.36L447.2 195.09L448 193.6L448.8 195.53L449.6 196.33L450.4 195.55L451.2 196.25L452 197L452.8 197.77L453.6 198.2L454.4 198.2L455.2 198.2L456 198.2L456.8 198.2L457.6 197.17L458.4 195.89L459.2 194.6L460 194.8L460.8 196.05L461.6 197.31L462.4 198.2L463.2 198.2L464 198.2L464.8 198.2L465.6 198.2L466.4 198.2L467.2 198.2L468 198.2L468.8 198.2L469.6 198.2L470.4 198.2L471.2 198.2L472 197.04L472.8 195.82L473.6 194.58L474.4 193.33L475.2 193.26L476 191.61L476.8 195.18L477.6 194.09L478.4 193.03L479.2 194.32L480 195.69L480.8 197.03L481.6 198.2L482.4 198.2L483.2 197.87L484 196.54L484.8 195.24L485.6 193.95L486.4 193.02L487.2 193.67L488 192.25L488.8 193.1L489.6 194.61L490.4 195.56L491.2 195.22L492 196.33L492.8 194.83L493.6 193.04L494.4 194.18L495.2 195.66L496 194.27L496.8 194.43L497.6 195.9L498.4 197.34L499.2 198.2L500 198.2L500.8 196.73L501.6 194.81L502.4 195.58L503.2 194.54L504 194.32L504.8 195.44L505.6 195.06L506.4 194.89L507.2 195.93L508 194.93L508.8 193.83L509.6 195.74L510.4 197.71L511.2 197.24L512 197.95L512.8 197.12L513.6 196.21L514.4 195.55L515.2 196.36L516 195.82L516.8 194.06L517.6 192.73L518.4 194.37L519.2 196.06L520 196.54L520.8 195.36L521.6 196.96L522.4 198.13L523.2 197.98L524 197.7L524.8 196.22L525.6 194.7L526.4 193.15L527.2 194.34L528 192.14L528.8 192.69L529.6 195.12L530.4 196.13L531.2 196.19L532 195.2L532.8 193.8L533.6 193.72L534.4 193.87L535.2 192.34L536 192.93L536.8 194.35L537.6 193.46L538.4 193.67L539.2 192.12L540 193.31L540.8 194.83L541.6 196.36L542.4 197.2L543.2 197.83L544 198.1L544.8 197.29L545.6 195.32L546.4 193.9L547.2 195.85L548 197.82L548.8 198.06L549.6 198.05L550.4 198.04L551.2 197.83L552 195.89L552.8 193.95L553.6 194.46L554.4 196.39L555.2 197.99L556 196.65L556.8 193.82L557.6 190.97L558.4 191.2L559.2 194.02L560 195.89L560.8 195.06L561.6 196.34L562.4 196.86L563.2 197.18L564 197.78L564.8 197.9L565.6 197.89L566.4 197.89L567.2 196.96L568 196.05L568.8 195.44L569.6 194.76L570.4 192.43L571.2 193.49L572 192.37L572.8 191.79L573.6 190.14L574.4 191.01L575.2 192.84L576 192.49L576.8 193.87L577.6 195.22L578.4 196.53L579.2 197.81L580 197.33L580.8 196.54L581.6 196.32L582.4 195.1L583.2 193.92L584 192.78L584.8 193.36L585.6 194.19L586.4 193.66L587.2 194.82L588 195.41L588.8 194.23L589.6 193.07L590.4 194.46L591.2 195.77L592 197.03L592.8 197.56L593.6 197.16L594.4 197.37L595.2 196.14L596 196.86L596.8 195.45L597.6 196.94L598.4 198.2L599.2 197.12L600 196.29L600.8 195.5L601.6 194.72L602.4 196.23L603.2 197.31L604 196.47L604.8 197.11L605.6 197.98L606.4 198.2L607.2 198.2L608 198.2L608.8 198.2L609.6 198.2L610.4 198.2L611.2 198.2L612 196.92L612.8 195.27L613.6 196.22L614.4 196.83L615.2 194.25L616 192.52L616.8 194.86L617.6 196.64L618.4 195.73L619.2 195.19L620 197.23L620.8 197.96L621.6 198.2L622.4 197.7L623.2 196.9L624 197.45L624.8 198.2L625.6 198.2L626.4 198.2L627.2 198.2L628 198.2L628.8 198.2L629.6 198.2L630.4 198.2L631.2 198.2L632 198.2L632.8 198.2L633.6 198.2L634.4 197.84L635.2 196.77L636 196.26L636.8 196.32L637.6 195.4L638.4 194.47L639.2 195.04L640 195.99L640.8 196.87L641.6 197.77L642.4 198.2L643.2 197.37L644 197.07L644.8 196.31L645.6 195.54L646.4 196.22L647.2 196.95L648 197.68L648.8 198.2L649.6 198.14L650.4 197.51L651.2 196.81L652 196.1L652.8 196.31L653.6 196.97L654.4 197.64L655.2 198.2L656 198.2L656.8 198.2L657.6 198.2L658.4 198.2L659.2 198.2L660 198.2L660.8 198.2L661.6 197.31L662.4 196.1L663.2 194.87L664 195.21L664.8 196.2L665.6 194.72L666.4 194.09L667.2 192.75L668 193.75L668.8 194.59L669.6 195.54L670.4 196.49L671.2 196.69L672 195.36L672.8 195.66L673.6 196.97L674.4 198.2L675.2 197.93L676 197.53L676.8 196.55L677.6 195.41L678.4 197.02L679.2 197.73L680 195.42L680.8 193.09L681.6 194.57L682.4 196.87L683.2 198.2L684 198.15L684.8 196.8L685.6 195.47L686.4 194.16L687.2 193.86L688 194.66L688.8 194.09L689.6 192.93L690.4 193.62L691.2 194.56L692 193.46L692.8 193.69L693.6 194.87L694.4 196.03L695.2 196.61L696 196.64L696.8 197.41L697.6 196.68L698.4 195.85L699.2 196.08L700 196.97L700.8 197.2L701.6 195.45L702.4 194.72L703.2 196.53L704 195.99L704.8 195.52L705.6 194.74L706.4 195.33L707.2 196.39L708 196.61L708.8 195.75L709.6 194.77L710.4 195.01L711.2 196.08L712 197.12L712.8 197.56L713.6 197.91L714.4 198.2L715.2 198.2L716 197.44L716.8 196.39L717.6 195.28L718.4 194.65L719.2 196.39L720 197.62L720.8 196.1L721.6 195.7L722.4 196.54L723.2 195.09L724 195.35L724.8 196.63L725.6 197.24L726.4 196.4L727.2 195.54L728 195.2L728.8 195.99L729.6 196.8L730.4 196.15L731.2 194.74L732 194.28L732.8 195.62L733.6 196.16L734.4 196.28L735.2 196.95L736 197.58L736.8 198.2L737.6 197.58L738.4 196.56L739.2 195.41L740 195.02L740.8 196.11L741.6 197.22L742.4 198.2L743.2 197.42L744 196.41L744.8 195.41L745.6 194.42L746.4 194.22L747.2 195.25L748 196.27L748.8 197.28L749.6 198.11L750.4 196.96L751.2 195.82L752 195.51L752.8 194.48L753.6 194.68L754.4 195.74L755.2 195.97L756 195.89L756.8 196.94L757.6 197.99L758.4 198.2L759.2 198.2L760 198.2L760.8 198.2L761.6 197.83L762.4 197.07L763.2 196.31L764 195.99L764.8 194.55L765.6 195.66L766.4 197.13L767.2 197.92L768 196.52L768.8 195.57L769.6 196.72L770.4 195.54L771.2 194.38L772 195.07L772.8 196.19L773.6 196.35L774.4 196.5L775.2 197.1L776 197.53L776.8 196.56L777.6 195.67L778.4 194.52L779.2 194L780 195.14L780.8 196.31L781.6 197.51L782.4 198.2L783.2 198.2L784 198.2L784.8 198.2L785.6 198.2L786.4 198.2L787.2 198.2L788 198.2L788.8 198.2L789.6 198.2L790.4 198.2L791.2 198.2L792 197.53L792.8 196.74L793.6 197.34L794.4 195.8L795.2 194.22L796 192.62L796.8 192.63L797.6 194.12L798.4 192.89L799.2 190.94L800 190.45L800.8 192.27L801.6 194.16L802.4 196.09L803.2 198.01L804 198.16L804.8 198.17L805.6 198.17L806.4 198.18L807.2 198.19L808 198.19L808.8 198.09L809.6 196.5L810.4 194.92L811.2 193.35L812 192.34L812.8 191.75L813.6 190.96L814.4 192.47L815.2 193.98L816 195.48L816.8 195.47L817.6 192.84L818.4 193.95L819.2 194.96L820 194.26L820.8 191.75L821.6 192.5L822.4 192.91L823.2 195.03L824 194.9L824.8 193.27L825.6 195.26L826.4 196.91L827.2 194.16L828 194.01L828.8 191.92L829.6 192.67L830.4 194.78L831.2 196.9L832 197.25L832.8 196.6L833.6 195.78L834.4 196.28L835.2 195.2L836 193.9L836.8 192.62L837.6 191.89L838.4 192.97L839.2 193.23L840 194.1L840.8 192.83L841.6 192.69L842.4 194.77L843.2 196.82L844 196.71L844.8 195.68L845.6 195.71L846.4 196.8L847.2 197.87L848 198.2L848.8 198.2L849.6 197.85L850.4 196.35L851.2 194.88L852 194.21L852.8 195.74L853.6 197.25L854.4 198.2L855.2 198.2L856 198.2L856.8 198.2L857.6 198.2L858.4 198.2L859.2 197.62L860 197.24L860.8 197.86L861.6 197.27L862.4 196.33L863.2 197.24L864 197.74L864.8 197.01L865.6 196.28L866.4 195.56L867.2 196.1L868 195.98L868.8 194.87L869.6 194.89L870.4 196.05L871.2 196.91L872 198.19L872.8 197.69L873.6 197.79L874.4 198.2L875.2 198.04L876 198.19L876.8 198.2L877.6 198.2L878.4 198.2L879.2 198.2L880 198.2L880.8 198.2L881.6 198.2L882.4 198.2L883.2 198.2L884 196.98L884.8 196.34L885.6 195.39L886.4 195.79L887.2 196.79L888 197.78L888.8 198.2L889.6 198.2L890.4 197.81L891.2 196.56L892 195.46L892.8 195.17L893.6 195.19L894.4 196.93L895.2 197.5L896 195.98L896.8 196.73L897.6 198.18L898.4 196.88L899.2 195.56L900 194.22L900.8 194.73L901.6 195.83L902.4 195.58L903.2 196.54L904 196.16L904.8 194.49L905.6 194.31L906.4 194.53L907.2 195.3L908 196.39L908.8 197.5L909.6 198.2L910.4 198.2L911.2 198.2L912 196.29L912.8 194.14L913.6 196.01L914.4 196.29L915.2 197.51L916 196.94L916.8 194.99L917.6 196.09L918.4 197.26L919.2 195.27L920 193.4L920.8 194.5L921.6 194.09L922.4 195.17L923.2 196.27L924 197.42L924.8 197.42L925.6 196.26L926.4 195.07L927.2 193.85L928 194.05L928.8 195.14L929.6 196.27L930.4 196.99L931.2 195.63L932 194.23L932.8 194.56L933.6 193.35L934.4 194.21L935.2 195.32L936 196.14L936.8 196.97L937.6 197.83L938.4 197.19L939.2 196.11L940 195.01L940.8 195.59L941.6 196.61L942.4 197.13L943.2 198.01L944 197.99L944.8 197.96L945.6 197.93L946.4 197.84L947.2 197.67L948 196.43L948.8 195.26L949.6 194.12L950.4 193.83L951.2 195.12L952 196.37L952.8 196L953.6 193.55L954.4 191.19L955.2 191.73L956 191.91L956.8 194.52L957.6 196.2L958.4 197.82L959.2 198.2L960 197.05L960.8 195.47L961.6 193.97L962.4 192.53L963.2 193.61L964 195.27L964.8 196.86L965.6 198.2L966.4 198.2L967.2 197.56L968 196.3L968.8 196.06L969.6 196.58L970.4 197.94L971.2 198.19L972 198.2L972.8 198.2L973.6 198.2L974.4 198.2L975.2 198.2L976 196.95L976.8 197.56L977.6 198.2L978.4 198.2L979.2 198.2L980 198.2L980.8 198.2L981.6 196.84L982.4 196.09L983.2 197.82L984 198.2L984.8 198.2L985.6 196.8L986.4 196.65L987.2 196.14L988 197.12L988.8 196.67L989.6 197.02L990.4 197.78L991.2 197.23L992 196.22L992.8 195.9L993.6 196.9L994.4 197.91L995.2 198.2L996 198.2L996.8 198.2L997.6 198.2L998.4 198.2L999.2 198.2L1000 197.95L1000.8 196.99L1001.6 197.36L1002.4 197.42L1003.2 198L1004 198.2L1004.8 198.2L1005.6 197.83L1006.4 198.2L1007.2 198.2L1008 198.2L1008.8 198.2L1009.6 198.2L1010.4 198.2L1011.2 198.2L1012 198.2L1012.8 197.64L1013.6 196.63L1014.4 195.6L1015.2 196.36L1016 197.34L1016.8 197.22L1017.6 196.51L1018.4 195.48L1019.2 193.56L1020 194.05L1020.8 196.34L1021.6 195.47L1022.4 193.34L1023.2 194.67L1024 195.5L1024.8 195.48L1025.6 196.58L1026.4 195.76L1027.2 195.41L1028 196.95L1028.8 196.75L1029.6 195.81L1030.4 194.85L1031.2 194.38L1032 194.79L1032.8 195.77L1033.6 197.18L1034.4 197.64L1035.2 196.75L1036 195.89L1036.8 195.04L1037.6 195.41L1038.4 196.3L1039.2 197.17L1040 198.04L1040.8 197.06L1041.6 195.57L1042.4 194.16L1043.2 195.68L1044 197.19L1044.8 198.2L1045.6 197.8L1046.4 197.65L1047.2 198.2L1048 198.2L1048.8 198.2L1049.6 198.2L1050.4 197.71L1051.2 196.41L1052 195.13L1052.8 195L1053.6 196.32L1054.4 197.62L1055.2 198.2L1056 198.2L1056.8 198.2L1057.6 198.2L1058.4 198.2L1059.2 198.2L1060 198.2L1060.8 197.97L1061.6 197.57L1062.4 198.02L1063.2 198.2L1064 198.2L1064.8 198.2L1065.6 197.9L1066.4 196.51L1067.2 195.08L1068 196.05L1068.8 197.39L1069.6 198.2L1070.4 198.2L1071.2 198.17L1072 197.21L1072.8 196.22L1073.6 195.39L1074.4 195.6L1075.2 193.8L1076 194.06L1076.8 194.71L1077.6 195.56L1078.4 196.66L1079.2 196.43L1080 195.2L1080.8 193.94L1081.6 193.86L1082.4 194.87L1083.2 194.28L1084 195.23L1084.8 196.2L1085.6 195.96L1086.4 194.7L1087.2 195.25L1088 196.43L1088.8 197.64L1089.6 198.2L1090.4 198.2L1091.2 198.2L1092 198.2L1092.8 198.2L1093.6 198.2L1094.4 198.2L1095.2 197.98L1096 197.09L1096.8 196.54L1097.6 194.98L1098.4 194.49L1099.2 196.05L1100 197.6L1100.8 197.93L1101.6 198.2L1102.4 198.2L1103.2 197.88L1104 196.19L1104.8 194.5L1105.6 193.59L1106.4 194.83L1107.2 196.97L1108 197.25L1108.8 196.37L1109.6 195.49L1110.4 195.8L1111.2 194.82L1112 192.92L1112.8 192.39L1113.6 194.28L1114.4 196.17L1115.2 195.11L1116 193.79L1116.8 195.04L1117.6 196.35L1118.4 197.33L1119.2 195.98L1120 193.35L1120.8 193.93L1121.6 195.04L1122.4 193.79L1123.2 193.56L1124 194.77L1124.8 195.99L1125.6 197.23L1126.4 198.2L1127.2 198.2L1128 198.2L1128.8 197.41L1129.6 196.71L1130.4 196.43L1131.2 195L1132 197.19L1132.8 198.15L1133.6 198.2L1134.4 198.2L1135.2 198.2L1136 198.2L1136.8 198.2L1137.6 198.2L1138.4 198.2L1139.2 198.2L1140 197.88L1140.8 197.22L1141.6 198.2L1142.4 198.2L1143.2 197.17L1144 196.05L1144.8 194.93L1145.6 194.09L1146.4 194.75L1147.2 194.64L1148 195.03L1148.8 193.77L1149.6 192.37L1150.4 193.74L1151.2 195.13L1152 196.19L1152.8 196.99L1153.6 196.08L1154.4 196.97L1155.2 197.87L1156 197.21L1156.8 196.57L1157.6 195.54L1158.4 194.55L1159.2 194.66L1160 193.53L1160.8 193.4L1161.6 194.7L1162.4 195.97L1163.2 195.52L1164 194.5L1164.8 194.84L1165.6 195.98L1166.4 196.84L1167.2 197.1L1168 197.9L1168.8 198.2L1169.6 198.2L1170.4 198.2L1171.2 196.63L1172 194.56L1172.8 194.89L1173.6 196.54L1174.4 196.66L1175.2 195.54L1176 196.36L1176.8 195.95L1177.6 196.14L1178.4 197.06L1179.2 197.95L1180 198.06L1180.8 198.2L1181.6 197.88L1182.4 196.68L1183.2 195.42L1184 195.35L1184.8 196.44L1185.6 196.39L1186.4 196.85L1187.2 195.8L1188 194.69L1188.8 194.24L1189.6 195.14L1190.4 196.08L1191.2 197.07L1192 198.1L1192.8 198.2L1193.6 197.37L1194.4 195.47L1195.2 194.52L1196 196.32L1196.8 198.09L1197.6 197.08L1198.4 196.03L1199.2 195.42L1200 195.22L1200.8 194.03L1201.6 193.77L1202.4 194.3L1203.2 196.24L1204 193.51L1204.8 192.82L1205.6 192.59L1206.4 194.41L1207.2 194.89L1208 194.41L1208.8 195.6L1209.6 195.64L1210.4 194.16L1211.2 194.7L1212 195.47L1212.8 194.33L1213.6 192.79L1214.4 191.27L1215.2 191.1L1216 192.69L1216.8 194.26L1217.6 195.38L1218.4 195.07L1219.2 196.21L1220 197.33L1220.8 197.16L1221.6 195.36L1222.4 193.58L1223.2 191.82L1224 191.62L1224.8 193.44L1225.6 195.25L1226.4 197.04L1227.2 196.24L1228 196.95L1228.8 196.8L1229.6 195.21L1230.4 193.64L1231.2 192.09L1232 192.94L1232.8 194.55L1233.6 196.14L1234.4 196.34L1235.2 195.57L1236 195.45L1236.8 194.4L1237.6 194.16L1238.4 195.26L1239.2 196.06L1240 194.95L1240.8 195.09L1241.6 196.21L1242.4 197.35L1243.2 198.2L1244 197.57L1244.8 196.65L1245.6 195.72L1246.4 195.52L1247.2 195.47L1248 196.25L1248.8 197.03L1249.6 197.82L1250.4 197.5L1251.2 196.91L1252 196.33L1252.8 194.95L1253.6 193.55L1254.4 193.57L1255.2 194.94L1256 195.1L1256.8 196.31L1257.6 197.53L1258.4 198.2L1259.2 197.57L1260 196.34L1260.8 196.62L1261.6 197.83L1262.4 197.19L1263.2 196.47L1264 195.78L1264.8 196.36L1265.6 196.45L1266.4 197.09L1267.2 196.5L1268 195.11L1268.8 194.25L1269.6 193.59L1270.4 196.1L1271.2 198.2L1272 197.57L1272.8 195.91L1273.6 194.16L1274.4 192.4L1275.2 192.45L1276 194.2L1276.8 195.96L1277.6 197.71L1278.4 198.2L1279.2 198L1280 198.2L1280.8 197.27L1281.6 196.18L1282.4 195.09L1283.2 195.95L1284 197.04L1284.8 198.13L1285.6 198.2L1286.4 198.2L1287.2 198.07L1288 196.5L1288.8 194.93L1289.6 193.36L1290.4 191.79L1291.2 193.24L1292 194.82L1292.8 194.3L1293.6 193.15L1294.4 193.22L1295.2 194.38L1296 195.21L1296.8 193.59L1297.6 194.8L1298.4 196.42L1299.2 198.05L1300 197.14L1300.8 196.18L1301.6 195.24L1302.4 195.6L1303.2 196.6L1304 197.59L1304.8 196.72L1305.6 195.58L1306.4 194.46L1307.2 193.37L1308 194.53L1308.8 195.72L1309.6 196.88L1310.4 198.03L1311.2 198.2L1312 198L1312.8 196.52L1313.6 196.1L1314.4 194.7L1315.2 194.8L1316 196.27L1316.8 196.54L1317.6 195.43L1318.4 195.55L1319.2 194.91L1320 193.41L1320.8 194.71L1321.6 193.52L1322.4 193.84L1323.2 194.39L1324 196.62L1324.8 197.51L1325.6 197.51L1326.4 196.45L1327.2 195.42L1328 194.41L1328.8 193.37L1329.6 194.38L1330.4 195.41L1331.2 194.33L1332 194.63L1332.8 193.69L1333.6 193.99L1334.4 195.34L1335.2 194.79L1336 195.49L1336.8 195.16L1337.6 193.9L1338.4 195.16L1339.2 196.17L1340 195.37L1340.8 193.66L1341.6 195.03L1342.4 196.67L1343.2 198.2L1344 198.2L1344.8 198.2L1345.6 198.2L1346.4 197.02L1347.2 195.6L1348 194.16L1348.8 194.23L1349.6 194.24L1350.4 195.32L1351.2 195.11L1352 196.65L1352.8 194.84L1353.6 192.99L1354.4 191.11L1355.2 192.7L1356 194.48L1356.8 196.29L1357.6 193.17L1358.4 192.09L1359.2 195.27L1360 194.48L1360.8 196.48L1361.6 197.25L1362.4 196.64L1363.2 195.4L1364 194.2L1364.8 194.79L1365.6 196.12L1366.4 197.4L1367.2 198.2L1368 197.47L1368.8 196.9L1369.6 195.83L1370.4 194.67L1371.2 195.2L1372 194.1L1372.8 193.51L1373.6 192.55L1374.4 195.01L1375.2 195.09L1376 191.6L1376.8 191.03L1377.6 194.62L1378.4 196.03L1379.2 194.14L1380 194.18L1380.8 196.92L1381.6 197.9L1382.4 196.08L1383.2 195.48L1384 197.37L1384.8 198.17L1385.6 198.2L1386.4 198.2L1387.2 198.2L1388 198.2L1388.8 198.2L1389.6 198.2L1390.4 198.2L1391.2 198.2L1392 198.2L1392.8 198.2L1393.6 198.2L1394.4 198.2L1395.2 197.76L1396 196.57L1396.8 195.35L1397.6 196.41L1398.4 196.82L1399.2 197.23L1400 198.2L1400.8 197.37L1401.6 195.84L1402.4 194.61L1403.2 196.06L1404 197.55L1404.8 197.96L1405.6 197.16L1406.4 196.35L1407.2 195.68L1408 195.71L1408.8 196.46L1409.6 195.67L1410.4 194.24L1411.2 195.47L1412 196.82L1412.8 198.2L1413.6 198.2L1414.4 198.2L1415.2 198.2L1415.8 200.5Z" fill="#1b1b1d"/>
<path d="M128 367.6L128 364.07L128.8 363.39L129.6 362.72L130.4 363.32L131.2 364L132 364.67L132.8 365.35L133.6 365.73L134.4 365.46L135.2 364.01L136 362.57L136.8 362.14L137.6 363.59L138.4 364.93L139.2 364.16L140 363.38L140.8 362.61L141.6 361.98L142.4 362.76L143.2 363.04L144 361.88L144.8 361.88L145.6 363.04L146.4 363.02L147.2 362.27L148 363.35L148.8 362.25L149.6 363.54L150.4 364.82L151.2 366.1L152 367L152.8 367L153.6 367.01L154.4 367.01L155.2 366.41L156 365.27L156.8 364.06L157.6 363.03L158.4 362.55L159.2 364.06L160 366.01L160.8 366.91L161.6 366.89L162.4 365.83L163.2 364.2L164 364.53L164.8 366.02L165.6 366.1L166.4 364.78L167.2 363.43L168 362.09L168.8 360.47L169.6 362.9L170.4 364.6L171.2 365.04L172 364.47L172.8 363.14L173.6 362.48L174.4 361.21L175.2 359.9L176 358.81L176.8 359.93L177.6 360.67L178.4 358.68L179.2 356.62L180 357.46L180.8 357.27L181.6 359.13L182.4 359.03L183.2 356.46L184 360.31L184.8 364.07L185.6 363.2L186.4 361.45L187.2 359.73L188 361.43L188.8 363.25L189.6 364.88L190.4 365.64L191.2 366.38L192 366.65L192.8 365.83L193.6 364.14L194.4 362.49L195.2 360.89L196 359.76L196.8 361.49L197.6 362.35L198.4 360.35L199.2 360.79L200 361.6L200.8 364.39L201.6 366.28L202.4 366.77L203.2 366.82L204 366.83L204.8 366.84L205.6 366.85L206.4 366.32L207.2 365.49L208 365.9L208.8 365.56L209.6 364.95L210.4 364.33L211.2 363.59L212 362.99L212.8 363.56L213.6 363.32L214.4 361.7L215.2 360L216 359.96L216.8 361.43L217.6 362.97L218.4 362.12L219.2 361.45L220 362.29L220.8 363.16L221.6 364.07L222.4 365.01L223.2 365.99L224 366.63L224.8 366.61L225.6 366.59L226.4 366.58L227.2 366.56L228 366.54L228.8 366.53L229.6 366.51L230.4 366.2L231.2 365.76L232 364.93L232.8 361.65L233.6 358.28L234.4 354.81L235.2 357.96L236 361.25L236.8 364.63L237.6 365.06L238.4 364.46L239.2 363.59L240 363.83L240.8 364.7L241.6 365.57L242.4 366.34L243.2 366.34L244 366.35L244.8 366.35L245.6 366.35L246.4 365.67L247.2 363.6L248 361.52L248.8 363.16L249.6 365.24L250.4 366.35L251.2 366.35L252 366.07L252.8 362.92L253.6 359.77L254.4 360.72L255.2 362.33L256 358.37L256.8 354.42L257.6 358.03L258.4 356.7L259.2 356.75L260 358.88L260.8 361L261.6 363.13L262.4 360.29L263.2 363.06L264 365.33L264.8 363.58L265.6 361.9L266.4 361.34L267.2 363.13L268 364.85L268.8 365.79L269.6 365.43L270.4 365.69L271.2 366.11L272 365.82L272.8 364.77L273.6 363.76L274.4 363.43L275.2 364.54L276 364.66L276.8 364.1L277.6 363.37L278.4 362.37L279.2 363.6L280 364.36L280.8 363.82L281.6 362.84L282.4 361.84L283.2 362.99L284 364.2L284.8 365.35L285.6 366.36L286.4 366.91L287.2 366.33L288 365.65L288.8 364.41L289.6 362.56L290.4 363.95L291.2 363.49L292 363.83L292.8 364.41L293.6 364.64L294.4 365.05L295.2 364.69L296 364.03L296.8 364L297.6 361.54L298.4 361.42L299.2 363.47L300 364.31L300.8 364.68L301.6 364.9L302.4 363.57L303.2 361.09L304 358.55L304.8 360.78L305.6 360.52L306.4 359.74L307.2 361.07L308 360.95L308.8 359.36L309.6 357.71L310.4 358.12L311.2 359.42L312 360.78L312.8 362.22L313.6 363.41L314.4 364.52L315.2 365.68L316 365.72L316.8 364.23L317.6 362.68L318.4 361.07L319.2 359.41L320 358.07L320.8 359.76L321.6 361.39L322.4 361.69L323.2 358.99L324 356.39L324.8 356.87L325.6 358.5L326.4 361.88L327.2 361.95L328 358.02L328.8 357.4L329.6 361.37L330.4 360.32L331.2 361.56L332 362.81L332.8 364.01L333.6 364.32L334.4 364.99L335.2 363.91L336 362.88L336.8 361.91L337.6 363.1L338.4 364.24L339.2 365.33L340 366.37L340.8 366.84L341.6 366.86L342.4 366.88L343.2 366.6L344 365.53L344.8 364.52L345.6 363.58L346.4 363.37L347.2 364.49L348 363.9L348.8 363.05L349.6 362.98L350.4 363.6L351.2 364.27L352 364.99L352.8 365.76L353.6 365.93L354.4 365.51L355.2 365.83L356 365.89L356.8 364.64L357.6 363.34L358.4 361.98L359.2 360.1L360 361.06L360.8 361.09L361.6 363.52L362.4 364.84L363.2 365.58L364 366.48L364.8 365.81L365.6 364.51L366.4 363.15L367.2 361.75L368 360.29L368.8 360.65L369.6 361.92L370.4 360.64L371.2 357.57L372 356.15L372.8 359.01L373.6 361.97L374.4 363.08L375.2 361.59L376 363.02L376.8 363.93L377.6 361.03L378.4 358.19L379.2 359.12L380 362.06L380.8 363.67L381.6 362.76L382.4 362.34L383.2 360.34L384 358.39L384.8 355.81L385.6 358.01L386.4 357.54L387.2 360.85L388 356.54L388.8 359.73L389.6 360.42L390.4 360.11L391.2 361.49L392 362.83L392.8 364.15L393.6 363.25L394.4 363.78L395.2 363.13L396 362.75L396.8 362.62L397.6 361.11L398.4 363.9L399.2 365.63L400 365.92L400.8 364.89L401.6 363.83L402.4 363.01L403.2 364.15L404 365.04L404.8 364.66L405.6 364.26L406.4 363.01L407.2 362.65L408 363.99L408.8 365.3L409.6 365.08L410.4 364.23L411.2 363.4L412 362.6L412.8 362.92L413.6 363.84L414.4 364.73L415.2 364.13L416 364.32L416.8 365.17L417.6 366L418.4 365.9L419.2 365.4L420 365.27L420.8 362.15L421.6 362.87L422.4 364.76L423.2 362.91L424 363.73L424.8 365.65L425.6 366.14L426.4 366.61L427.2 367.06L428 366.88L428.8 366.4L429.6 365.69L430.4 364.9L431.2 364.1L432 363.39L432.8 364.13L433.6 364.88L434.4 365.51L435.2 365.27L436 365.36L436.8 364.88L437.6 364.39L438.4 364.58L439.2 365.02L440 364.52L440.8 363.83L441.6 363.13L442.4 363.44L443.2 363.13L444 364L444.8 364.75L445.6 365.27L446.4 364.76L447.2 363.5L448 363.99L448.8 365.2L449.6 366.44L450.4 367.02L451.2 367.01L452 367.01L452.8 366.82L453.6 365.63L454.4 364.43L455.2 363.2L456 362.6L456.8 363.78L457.6 364.98L458.4 366.2L459.2 365.49L460 363.96L460.8 362.53L461.6 364.03L462.4 365.55L463.2 365.11L464 364.63L464.8 364.44L465.6 364.55L466.4 363.86L467.2 363.16L468 363.52L468.8 362.1L469.6 360.66L470.4 360.71L471.2 362.07L472 363.46L472.8 364.87L473.6 366.3L474.4 366.87L475.2 366.86L476 366.86L476.8 366.85L477.6 366.85L478.4 366.57L479.2 366.28L480 365.98L480.8 365.68L481.6 365.49L482.4 365.77L483.2 366.05L484 365.33L484.8 365.1L485.6 365.36L486.4 364.73L487.2 363.38L488 361.82L488.8 361.87L489.6 363.34L490.4 364.85L491.2 364.91L492 364.11L492.8 363.63L493.6 364.24L494.4 362.39L495.2 360.5L496 361.89L496.8 363.56L497.6 363.62L498.4 364.6L499.2 364.31L500 362.77L500.8 361.21L501.6 360.65L502.4 358.94L503.2 357.19L504 357.96L504.8 359.56L505.6 361.2L506.4 362.86L507.2 364.56L508 365.58L508.8 364.16L509.6 362.73L510.4 363.98L511.2 365.38L512 366.47L512.8 366.47L513.6 366.48L514.4 366.49L515.2 365.67L516 364.48L516.8 363.3L517.6 362.14L518.4 362.04L519.2 363.25L520 364.44L520.8 363.74L521.6 362.36L522.4 361L523.2 359.65L524 358.32L524.8 359.43L525.6 360.85L526.4 362.24L527.2 363.62L528 364.99L528.8 364.77L529.6 363.61L530.4 362.47L531.2 361.33L532 360.22L532.8 359.16L533.6 360.05L534.4 358.54L535.2 357.77L536 359.37L536.8 360.96L537.6 362.52L538.4 364.06L539.2 365.58L540 365.24L540.8 364.27L541.6 363.31L542.4 362.36L543.2 361.41L544 360.81L544.8 359.38L545.6 358.99L546.4 360.48L547.2 358.48L548 360.27L548.8 361.63L549.6 360.87L550.4 361.93L551.2 362.43L552 362.08L552.8 363.38L553.6 362.1L554.4 360.84L555.2 359.64L556 360.95L556.8 362.25L557.6 362.56L558.4 360.6L559.2 362.7L560 362.74L560.8 362.03L561.6 364.13L562.4 361.54L563.2 360.98L564 364.86L564.8 365.21L565.6 363.44L566.4 363.2L567.2 362.65L568 360.77L568.8 360.73L569.6 362.42L570.4 360.93L571.2 359.44L572 360.79L572.8 362.15L573.6 362.94L574.4 362.9L575.2 361.35L576 360.34L576.8 361.87L577.6 363.37L578.4 364.44L579.2 364.68L580 364.89L580.8 364.43L581.6 363.68L582.4 362.92L583.2 362.59L584 363.33L584.8 363.12L585.6 364.15L586.4 364.7L587.2 364.48L588 365.01L588.8 365.54L589.6 365.02L590.4 364.03L591.2 362.36L592 361.69L592.8 359.85L593.6 361.77L594.4 363.47L595.2 361.79L596 360.13L596.8 361.86L597.6 362.11L598.4 361.97L599.2 361.06L600 361.66L600.8 360.72L601.6 360.58L602.4 364.55L603.2 364.53L604 363.91L604.8 364.08L605.6 364.28L606.4 361.25L607.2 362.92L608 364.53L608.8 365.36L609.6 364.83L610.4 364.76L611.2 365.32L612 365.87L612.8 365.41L613.6 364.83L614.4 364.26L615.2 363.7L616 363.42L616.8 364.04L617.6 364.58L618.4 363.87L619.2 362.59L620 361.34L620.8 362.68L621.6 363.94L622.4 365.18L623.2 366.14L624 365.6L624.8 364.63L625.6 363.62L626.4 361.93L627.2 359.47L628 362.15L628.8 361.73L629.6 360.56L630.4 360.86L631.2 361.82L632 360.3L632.8 361.27L633.6 359.73L634.4 358.99L635.2 360.31L636 361.68L636.8 363.1L637.6 364.57L638.4 363.96L639.2 363.66L640 362.62L640.8 360.39L641.6 358.09L642.4 358.82L643.2 360.94L644 363.13L644.8 363.63L645.6 361.3L646.4 358.9L647.2 356.44L648 356.89L648.8 359.21L649.6 360.54L650.4 359.94L651.2 359.2L652 362.27L652.8 364.97L653.6 365.01L654.4 365.19L655.2 365.97L656 366.37L656.8 365.18L657.6 364.04L658.4 362.95L659.2 362.49L660 363.72L660.8 364.9L661.6 363.77L662.4 362.61L663.2 361.52L664 361.8L664.8 363.11L665.6 364.36L666.4 365.5L667.2 364.86L668 364.26L668.8 363.71L669.6 363.19L670.4 363.33L671.2 364.08L672 364.48L672.8 363.79L673.6 363.16L674.4 362.59L675.2 362.41L676 363.32L676.8 364L677.6 364.68L678.4 364.62L679.2 364.25L680 364.84L680.8 364.1L681.6 363.36L682.4 363.83L683.2 364.11L684 363.47L684.8 363.65L685.6 364.27L686.4 364.9L687.2 365.02L688 363.65L688.8 364.04L689.6 365.4L690.4 366.05L691.2 365.71L692 366.41L692.8 365.59L693.6 364.61L694.4 364.29L695.2 363.99L696 364.36L696.8 364.98L697.6 365.39L698.4 365.52L699.2 365.7L700 364.99L700.8 364.28L701.6 363.56L702.4 362.84L703.2 362.81L704 363.5L704.8 362.79L705.6 362.35L706.4 363.18L707.2 364.02L708 364.11L708.8 363.1L709.6 362.27L710.4 363.24L711.2 364.22L712 365.22L712.8 366.22L713.6 366.29L714.4 365.13L715.2 363.96L716 362.77L716.8 362.14L717.6 363.29L718.4 362.73L719.2 363.85L720 365.23L720.8 366.07L721.6 365.99L722.4 365.51L723.2 365.02L724 364.53L724.8 364.03L725.6 364.48L726.4 364.28L727.2 364.12L728 364.29L728.8 363.53L729.6 363.91L730.4 364.13L731.2 363.4L732 363.76L732.8 362.15L733.6 362.47L734.4 364.03L735.2 365.69L736 364.85L736.8 364.3L737.6 365.37L738.4 365.76L739.2 365.12L740 363.23L740.8 361.24L741.6 361.75L742.4 363.58L743.2 365.44L744 364.52L744.8 364.13L745.6 364.96L746.4 362.83L747.2 360.51L748 360.43L748.8 362.6L749.6 364.86L750.4 363.57L751.2 362.07L752 363.55L752.8 365.07L753.6 366.05L754.4 366.4L755.2 363.92L756 360.99L756.8 358.53L757.6 361.35L758.4 360.77L759.2 361.51L760 362.73L760.8 363.92L761.6 363.58L762.4 361.2L763.2 359.87L764 363.42L764.8 364.61L765.6 364.15L766.4 364.71L767.2 365.27L768 365.82L768.8 365.53L769.6 365.2L770.4 363.01L771.2 360.87L772 361.65L772.8 361.78L773.6 360.79L774.4 361.02L775.2 359.5L776 358.02L776.8 356.79L777.6 358.46L778.4 360.09L779.2 361.69L780 363.25L780.8 363.8L781.6 362.82L782.4 362.98L783.2 362.73L784 361.83L784.8 362.89L785.6 363.88L786.4 364.05L787.2 362.59L788 361.17L788.8 359.77L789.6 358.75L790.4 360.27L791.2 360.5L792 360.44L792.8 361.6L793.6 362.74L794.4 363.85L795.2 364.95L796 364.08L796.8 363.07L797.6 362.09L798.4 361.13L799.2 360.55L800 361.63L800.8 362.69L801.6 363.72L802.4 364.73L803.2 362.86L804 362.74L804.8 364.51L805.6 362.13L806.4 362.25L807.2 363.42L808 362.92L808.8 363.63L809.6 364.32L810.4 364.81L811.2 361.8L812 361.38L812.8 364.6L813.6 363.97L814.4 362.72L815.2 361.3L816 362.82L816.8 364.36L817.6 365.89L818.4 365.54L819.2 365.03L820 364.9L820.8 363.66L821.6 364.29L822.4 365.09L823.2 364.28L824 365.6L824.8 365.55L825.6 364.7L826.4 363.85L827.2 362.99L828 361.7L828.8 362.3L829.6 363.18L830.4 362.21L831.2 361.24L832 361.74L832.8 362.68L833.6 363.64L834.4 364.11L835.2 363.87L836 363.49L836.8 361.84L837.6 363.68L838.4 365.53L839.2 365.36L840 364.71L840.8 364.52L841.6 365.19L842.4 365.85L843.2 366.49L844 366.99L844.8 366.28L845.6 365.29L846.4 364.33L847.2 363.38L848 362.45L848.8 362.35L849.6 363.35L850.4 364.33L851.2 365.29L852 365.76L852.8 366.13L853.6 365.74L854.4 365.09L855.2 364.45L856 363.82L856.8 364.27L857.6 364.81L858.4 364.96L859.2 365.53L860 365.33L860.8 364.71L861.6 364.11L862.4 363.52L863.2 364.07L864 363.68L864.8 364.93L865.6 365.95L866.4 365.72L867.2 364.28L868 364.75L868.8 365.56L869.6 365.4L870.4 363.26L871.2 362.86L872 363.9L872.8 364.95L873.6 363.63L874.4 362.2L875.2 361.15L876 362.29L876.8 363.4L877.6 363.39L878.4 362.23L879.2 361.81L880 361.35L880.8 360.99L881.6 361.93L882.4 362.93L883.2 361.59L884 359.92L884.8 358.17L885.6 357.05L886.4 358.42L887.2 359.87L888 361.4L888.8 363L889.6 364.69L890.4 365.4L891.2 363.87L892 362.28L892.8 360.63L893.6 361.13L894.4 362.61L895.2 361.19L896 359.29L896.8 358.85L897.6 359.2L898.4 361L899.2 361.68L900 362.77L900.8 364.1L901.6 365.38L902.4 364.23L903.2 362.92L904 361.68L904.8 360.49L905.6 359.37L906.4 358.72L907.2 360.16L908 361.54L908.8 362.3L909.6 362.85L910.4 362.53L911.2 361.56L912 360.65L912.8 361.54L913.6 362.74L914.4 363.87L915.2 363.93L916 364.61L916.8 365.26L917.6 364.97L918.4 364.13L919.2 363.35L920 362.65L920.8 362.99L921.6 363.98L922.4 363.67L923.2 364.17L924 365.02L924.8 365.86L925.6 366.7L926.4 367.11L927.2 367.02L928 366.79L928.8 366.56L929.6 366.33L930.4 365.59L931.2 364.56L932 364.53L932.8 365.57L933.6 366.12L934.4 365.79L935.2 365.61L936 365.79L936.8 364.7L937.6 363.62L938.4 364.16L939.2 365.25L940 366.33L940.8 367.14L941.6 367.14L942.4 367.14L943.2 367.14L944 367.14L944.8 367.14L945.6 367.14L946.4 367.12L947.2 366.67L948 366.22L948.8 365.78L949.6 365.33L950.4 364.85L951.2 363.57L952 363.35L952.8 364.83L953.6 365.7L954.4 366.17L955.2 366.1L956 365.61L956.8 365.09L957.6 364.56L958.4 364.45L959.2 364.87L960 365.32L960.8 365.79L961.6 365.18L962.4 364.37L963.2 363.53L964 362.66L964.8 363.09L965.6 362.17L966.4 361.06L967.2 361.43L968 362.37L968.8 362.79L969.6 362.99L970.4 362.52L971.2 363.53L972 364.57L972.8 363.21L973.6 361.72L974.4 360.19L975.2 360.35L976 360.22L976.8 362.12L977.6 363.5L978.4 360.65L979.2 360.96L980 359.66L980.8 362.46L981.6 363.47L982.4 363.75L983.2 362.23L984 362.98L984.8 364.31L985.6 364.47L986.4 364.96L987.2 364.04L988 363.65L988.8 360.57L989.6 361.6L990.4 363.09L991.2 363.78L992 359.99L992.8 362.37L993.6 363.19L994.4 361.28L995.2 361.16L996 363.64L996.8 361.13L997.6 361.87L998.4 363.47L999.2 364.39L1000 364.38L1000.8 364.21L1001.6 364.82L1002.4 365.42L1003.2 366.01L1004 366.6L1004.8 366.25L1005.6 365.82L1006.4 365.41L1007.2 364.95L1008 360.39L1008.8 360.19L1009.6 363.84L1010.4 361.86L1011.2 359.84L1012 363.89L1012.8 364.95L1013.6 364.93L1014.4 366.66L1015.2 366.74L1016 365.88L1016.8 365.04L1017.6 364.21L1018.4 363.39L1019.2 362.59L1020 361.79L1020.8 362.03L1021.6 360.94L1022.4 362.18L1023.2 363.4L1024 364.6L1024.8 365.35L1025.6 364.75L1026.4 364.53L1027.2 365.15L1028 365.77L1028.8 365.44L1029.6 365L1030.4 364.83L1031.2 364.75L1032 363.84L1032.8 363.84L1033.6 364.24L1034.4 363.35L1035.2 364.74L1036 365.58L1036.8 365.51L1037.6 365.08L1038.4 365.54L1039.2 366.02L1040 365.98L1040.8 365.46L1041.6 364.49L1042.4 363.5L1043.2 362.48L1044 361.44L1044.8 360.37L1045.6 361.24L1046.4 362.18L1047.2 363.14L1048 363.86L1048.8 362.72L1049.6 363.44L1050.4 364.52L1051.2 365.62L1052 364.95L1052.8 363.45L1053.6 361.92L1054.4 361.17L1055.2 362.62L1056 360.58L1056.8 362.57L1057.6 361.03L1058.4 361.25L1059.2 362.71L1060 364.2L1060.8 363.09L1061.6 362.67L1062.4 361.79L1063.2 361.96L1064 362.78L1064.8 363.61L1065.6 364.45L1066.4 365.3L1067.2 365.5L1068 362.4L1068.8 361.88L1069.6 364.26L1070.4 362.68L1071.2 361.1L1072 362.63L1072.8 364.19L1073.6 365.45L1074.4 366.12L1075.2 366.56L1076 366.55L1076.8 366.54L1077.6 366.54L1078.4 366.53L1079.2 365.37L1080 363.18L1080.8 360.97L1081.6 360.67L1082.4 362.84L1083.2 365.02L1084 366.06L1084.8 365.62L1085.6 365.17L1086.4 364.82L1087.2 363.17L1088 361.62L1088.8 360.12L1089.6 358.68L1090.4 359.57L1091.2 361.22L1092 362.82L1092.8 363.82L1093.6 362.43L1094.4 362.38L1095.2 363.89L1096 365.34L1096.8 366.69L1097.6 366.7L1098.4 366.61L1099.2 366.1L1100 365.6L1100.8 365.13L1101.6 365.06L1102.4 364.73L1103.2 363.52L1104 362.37L1104.8 361.29L1105.6 361.31L1106.4 362.62L1107.2 363.88L1108 364.12L1108.8 363.33L1109.6 362.59L1110.4 363.46L1111.2 364.4L1112 365.29L1112.8 366.13L1113.6 366.91L1114.4 367.09L1115.2 367.09L1116 367.08L1116.8 367.08L1117.6 367.08L1118.4 366.73L1119.2 366.2L1120 365.13L1120.8 362.89L1121.6 362.88L1122.4 364.34L1123.2 364.43L1124 364.89L1124.8 365.37L1125.6 365.86L1126.4 366.35L1127.2 366.85L1128 367.02L1128.8 367.02L1129.6 367.01L1130.4 367.01L1131.2 367L1132 367L1132.8 367L1133.6 366.99L1134.4 366.99L1135.2 366.7L1136 366.21L1136.8 365.72L1137.6 365.45L1138.4 364.92L1139.2 364.37L1140 364.72L1140.8 365.24L1141.6 365.34L1142.4 365.74L1143.2 365.2L1144 365.57L1144.8 366.02L1145.6 365.42L1146.4 365.79L1147.2 366.41L1148 366L1148.8 364.23L1149.6 363.1L1150.4 364.24L1151.2 364.51L1152 365.36L1152.8 366.2L1153.6 365.76L1154.4 365.59L1155.2 365.6L1156 365.3L1156.8 365.38L1157.6 366.01L1158.4 366.33L1159.2 365.36L1160 364.41L1160.8 363.46L1161.6 363.67L1162.4 363.89L1163.2 363.73L1164 364.67L1164.8 365.15L1165.6 364.88L1166.4 365.29L1167.2 364.78L1168 363.86L1168.8 362.95L1169.6 362.74L1170.4 363.57L1171.2 364.45L1172 365.4L1172.8 365.68L1173.6 364.43L1174.4 363.11L1175.2 363.12L1176 364.3L1176.8 365.32L1177.6 364.8L1178.4 364.44L1179.2 364.85L1180 364.92L1180.8 363.58L1181.6 362.2L1182.4 360.76L1183.2 360.9L1184 362.15L1184.8 363.45L1185.6 363.36L1186.4 362.15L1187.2 360.91L1188 360.39L1188.8 361.45L1189.6 362.55L1190.4 363.47L1191.2 362.03L1192 360.48L1192.8 359.06L1193.6 360.43L1194.4 361.86L1195.2 363.33L1196 364.85L1196.8 365.91L1197.6 365.83L1198.4 365.34L1199.2 365.87L1200 366.4L1200.8 366.63L1201.6 366.16L1202.4 364.35L1203.2 364.87L1204 364.2L1204.8 360.8L1205.6 362.48L1206.4 365.11L1207.2 364.22L1208 365.18L1208.8 364.93L1209.6 364.12L1210.4 364.13L1211.2 363.51L1212 362.41L1212.8 361.35L1213.6 360.33L1214.4 359.91L1215.2 361.14L1216 362.34L1216.8 363.49L1217.6 364.59L1218.4 364.7L1219.2 364.21L1220 363.75L1220.8 364.11L1221.6 364.69L1222.4 365.26L1223.2 365.12L1224 364.49L1224.8 364.01L1225.6 364.34L1226.4 362.95L1227.2 362.14L1228 364.08L1228.8 366.03L1229.6 366.38L1230.4 365.67L1231.2 364.95L1232 364.23L1232.8 363.5L1233.6 363.51L1234.4 362.79L1235.2 363.61L1236 364.43L1236.8 365.25L1237.6 365.15L1238.4 364.93L1239.2 365.79L1240 366.07L1240.8 366.06L1241.6 366.32L1242.4 366.58L1243.2 366.38L1244 365.48L1244.8 365.74L1245.6 364.31L1246.4 362.88L1247.2 361.44L1248 361.77L1248.8 363.19L1249.6 364.62L1250.4 364.13L1251.2 363.57L1252 362.52L1252.8 362.76L1253.6 363.84L1254.4 364.6L1255.2 365.37L1256 365.85L1256.8 365.17L1257.6 364.47L1258.4 363.77L1259.2 363.8L1260 364.46L1260.8 365.14L1261.6 365.64L1262.4 365.24L1263.2 364.88L1264 365.13L1264.8 365.62L1265.6 365.23L1266.4 364L1267.2 362.75L1268 363.62L1268.8 363.95L1269.6 363.2L1270.4 362.51L1271.2 363.22L1272 363.93L1272.8 364.66L1273.6 364.26L1274.4 363.41L1275.2 363.01L1276 363.83L1276.8 362.61L1277.6 361.22L1278.4 359.8L1279.2 360.25L1280 361.6L1280.8 362.79L1281.6 362.37L1282.4 363.12L1283.2 363.02L1284 362.06L1284.8 361.66L1285.6 362.56L1286.4 363.4L1287.2 362.24L1288 361.07L1288.8 359.88L1289.6 359.23L1290.4 360.34L1291.2 361.46L1292 362.6L1292.8 363.27L1293.6 361.34L1294.4 360.94L1295.2 362.83L1296 364.64L1296.8 363.79L1297.6 364.57L1298.4 363.79L1299.2 362.2L1300 359.34L1300.8 358.93L1301.6 358.04L1302.4 359.59L1303.2 358.06L1304 357.54L1304.8 359.11L1305.6 358.72L1306.4 361.62L1307.2 363.31L1308 364.61L1308.8 364.74L1309.6 363.86L1310.4 364.26L1311.2 365.12L1312 366L1312.8 366.12L1313.6 364.6L1314.4 363.08L1315.2 361.55L1316 360.01L1316.8 358.46L1317.6 356.9L1318.4 358.34L1319.2 359.85L1320 361.37L1320.8 362.91L1321.6 364.45L1322.4 365.42L1323.2 365.69L1324 366.01L1324.8 366.33L1325.6 365.67L1326.4 364.42L1327.2 363.16L1328 361.9L1328.8 362.45L1329.6 363.16L1330.4 361.11L1331.2 359.4L1332 361.42L1332.8 361.48L1333.6 359.7L1334.4 359.53L1335.2 357.15L1336 357.29L1336.8 359.76L1337.6 362.2L1338.4 364.61L1339.2 365.84L1340 366.56L1340.8 366.44L1341.6 365.79L1342.4 365.94L1343.2 366.59L1344 366.59L1344.8 366.6L1345.6 366.61L1346.4 366.61L1347.2 366.62L1348 366.63L1348.8 366.64L1349.6 366.64L1350.4 366.14L1351.2 365.9L1352 365.82L1352.8 364.85L1353.6 363.89L1354.4 362.92L1355.2 361.89L1356 361.32L1356.8 361.73L1357.6 362.18L1358.4 363.13L1359.2 364.06L1360 361.71L1360.8 359.11L1361.6 361.44L1362.4 361.87L1363.2 360.66L1364 359.44L1364.8 360.62L1365.6 361.85L1366.4 363.07L1367.2 363.47L1368 362.66L1368.8 361.99L1369.6 362.81L1370.4 363.63L1371.2 364.18L1372 363.48L1372.8 364.02L1373.6 364.72L1374.4 365.43L1375.2 364.66L1376 363.86L1376.8 363.05L1377.6 362.25L1378.4 362.86L1379.2 363.67L1380 363.68L1380.8 364.9L1381.6 364.91L1382.4 365.47L1383.2 365.66L1384 365.05L1384.8 363.83L1385.6 362.33L1386.4 360.84L1387.2 362.3L1388 363.32L1388.8 362.43L1389.6 361.52L1390.4 361.7L1391.2 362.55L1392 363.41L1392.8 364.21L1393.6 363.43L1394.4 362.21L1395.2 361.35L1396 362.51L1396.8 363.69L1397.6 364.88L1398.4 366.09L1399.2 366.68L1400 366.28L1400.8 365.13L1401.6 363.16L1402.4 361.16L1403.2 360.56L1404 362.52L1404.8 364.49L1405.6 364.8L1406.4 365.05L1407.2 365.45L1408 364.75L1408.8 363.46L1409.6 360.75L1410.4 358.99L1411.2 361.65L1412 361.41L1412.8 360.37L1413.6 362.54L1414.4 361.29L1415.2 360.03L1415.8 367.6Z" fill="#2472b4"/>
<path d="M219 367.6L219.8 358L220.8 340L221.8 318L222.8 296L223.8 278L224.5 267.8L225.1 278L226 296L227.2 318L228.4 340L229.6 356L230.8 367.6Z" fill="#2472b4"/>
<path d="M610.6 367.6L611.6 360L612.8 345L613.8 325L614.8 305L615.8 292L616.4 286.6L616.9 293L617.6 307L618.5 325L619.5 338L620.6 348.6L622 355L624.3 361L625 367.6Z" fill="#2472b4"/>
<path d="M1015.6 367.6L1016.4 360L1017.4 345L1018.4 320L1019.4 295L1020 278L1020.5 265.7L1021.1 278L1022 296L1023.2 320L1024.4 342L1025.6 358L1026.9 367.6Z" fill="#2472b4"/>
<path d="M1368 367.6L1371 359L1374 353L1376 349.5L1378 352L1380 355L1383 358L1386 367.6Z" fill="#2472b4"/>
<path d="M128 367.6L128 365.3L128.8 364.84L129.6 364.49L130.4 363.04L131.2 361.65L132 363.01L132.8 364.42L133.6 363.38L134.4 362.22L135.2 363.07L136 362.87L136.8 363.1L137.6 363.58L138.4 361.62L139.2 361.62L140 361.9L140.8 362.78L141.6 363.69L142.4 364.62L143.2 364.42L144 362.76L144.8 364.37L145.6 364.98L146.4 363.26L147.2 361.18L148 361.66L148.8 361.87L149.6 362.17L150.4 363.4L151.2 364.66L152 365.3L152.8 365.3L153.6 364.53L154.4 363.22L155.2 361.88L156 360.52L156.8 361.5L157.6 362.78L158.4 363.22L159.2 364.09L160 363.54L160.8 364.92L161.6 364.62L162.4 364.08L163.2 364.45L164 362.7L164.8 360.8L165.6 361.44L166.4 359.73L167.2 359.72L168 362.36L168.8 365.03L169.6 365.3L170.4 365.3L171.2 365.3L172 364.36L172.8 363.06L173.6 361.74L174.4 360.4L175.2 361.16L176 362.44L176.8 363.73L177.6 364.66L178.4 363.23L179.2 361.79L180 360.33L180.8 359.28L181.6 360.68L182.4 362.09L183.2 362.36L184 361.52L184.8 361.08L185.6 359.23L186.4 357.36L187.2 358.93L188 360.76L188.8 361.26L189.6 361.99L190.4 361.8L191.2 361.4L192 359.99L192.8 359.49L193.6 360.9L194.4 361.5L195.2 362.17L196 359.83L196.8 358.6L197.6 361.1L198.4 363.59L199.2 365.3L200 365.3L200.8 364.78L201.6 363.37L202.4 363.5L203.2 364.9L204 364.24L204.8 362.9L205.6 364.13L206.4 365.3L207.2 365.3L208 365.3L208.8 365.3L209.6 364.55L210.4 363.61L211.2 362.67L212 362.19L212.8 363.03L213.6 362.81L214.4 360.36L215.2 357.85L216 359.52L216.8 358.9L217.6 360.22L218.4 360.19L219.2 361.4L220 362.58L220.8 363.18L221.6 362.34L222.4 360.89L223.2 361.16L224 360.45L224.8 361.64L225.6 360.01L226.4 362L227.2 361.84L228 360.76L228.8 361.65L229.6 362.63L230.4 363.58L231.2 363.4L232 361.69L232.8 362.36L233.6 362.88L234.4 361.86L235.2 362.19L236 361.71L236.8 364.15L237.6 362.26L238.4 361.81L239.2 364.05L240 365.3L240.8 365.13L241.6 364.54L242.4 362.77L243.2 363.46L244 364.31L244.8 362.81L245.6 362.72L246.4 364.7L247.2 364.88L248 364.03L248.8 365.2L249.6 365.3L250.4 365.3L251.2 365.3L252 365.3L252.8 364.96L253.6 364.5L254.4 363.23L255.2 361.92L256 361.97L256.8 363.18L257.6 364.43L258.4 363.85L259.2 364.6L260 365.3L260.8 365.3L261.6 365.3L262.4 365.2L263.2 364.54L264 363.99L264.8 364.59L265.6 364.82L266.4 364.91L267.2 364.86L268 363.62L268.8 362.35L269.6 361.05L270.4 360.13L271.2 361.29L272 360.98L272.8 362.02L273.6 363.07L274.4 362.25L275.2 360.89L276 359.92L276.8 361.19L277.6 362.48L278.4 363.79L279.2 364.13L280 362.87L280.8 361.59L281.6 360.28L282.4 359.58L283.2 360.78L284 362L284.8 362.85L285.6 361.07L286.4 359.27L287.2 358.5L288 360.2L288.8 361.93L289.6 361.38L290.4 359.94L291.2 359.02L292 360.36L292.8 361.73L293.6 363.12L294.4 363.87L295.2 363.71L296 364.69L296.8 365.23L297.6 364.25L298.4 362.87L299.2 361.47L300 360.05L300.8 358.75L301.6 360.08L302.4 361.43L303.2 362.8L304 364.23L304.8 362.51L305.6 361.31L306.4 363.08L307.2 360.2L308 357.39L308.8 359.96L309.6 361.37L310.4 360.82L311.2 362L312 363.16L312.8 364.29L313.6 364.11L314.4 361.54L315.2 360.96L316 358.28L316.8 358.91L317.6 358.8L318.4 359.8L319.2 360.67L320 359.06L320.8 360.99L321.6 362.86L322.4 364.69L323.2 365.3L324 365.3L324.8 365.3L325.6 364.98L326.4 363.87L327.2 362.81L328 361.78L328.8 360.79L329.6 361.2L330.4 362.36L331.2 363.49L332 364.58L332.8 365.3L333.6 365.3L334.4 364.98L335.2 364.42L336 363.03L336.8 361.43L337.6 364.02L338.4 363.41L339.2 363.88L340 362.26L340.8 363.84L341.6 362.75L342.4 361.65L343.2 362.1L344 363.14L344.8 364.2L345.6 362.87L346.4 363.67L347.2 364.74L348 364.72L348.8 365.3L349.6 365.3L350.4 365.3L351.2 365.3L352 364.91L352.8 363.74L353.6 362.56L354.4 362.22L355.2 363.36L356 362.44L356.8 360.8L357.6 359.36L358.4 360.93L359.2 362.52L360 364.14L360.8 363.06L361.6 361.2L362.4 359.34L363.2 359.87L364 359.93L364.8 359.68L365.6 359.85L366.4 359.91L367.2 359.61L368 361.46L368.8 360.33L369.6 359.16L370.4 360.77L371.2 360.13L372 361.19L372.8 359.91L373.6 361.53L374.4 363.13L375.2 364.42L376 364.51L376.8 362.73L377.6 360.98L378.4 360.28L379.2 362.09L380 361.64L380.8 359.92L381.6 361.3L382.4 362.57L383.2 363.85L384 363.32L384.8 364.42L385.6 365.3L386.4 365.3L387.2 365.3L388 365.3L388.8 365.3L389.6 365.29L390.4 364.25L391.2 363.23L392 362.73L392.8 362.92L393.6 362.94L394.4 365.21L395.2 365.3L396 365.3L396.8 364.58L397.6 363.08L398.4 361.59L399.2 361.82L400 363.34L400.8 362.86L401.6 361.65L402.4 361.34L403.2 362.58L404 363.82L404.8 364.35L405.6 364.49L406.4 365.16L407.2 365.3L408 365.3L408.8 364.66L409.6 363.81L410.4 362.97L411.2 363.22L412 364.09L412.8 364.95L413.6 364.75L414.4 363.94L415.2 363.04L416 362.14L416.8 362.19L417.6 363.12L418.4 364.05L419.2 364.96L420 365.3L420.8 365.3L421.6 365.03L422.4 364.03L423.2 363.99L424 364.76L424.8 364.17L425.6 363.11L426.4 361.77L427.2 362.45L428 363.65L428.8 363.36L429.6 362.15L430.4 360.9L431.2 361.24L432 362.33L432.8 363.45L433.6 364.62L434.4 365.24L435.2 364.11L436 362.95L436.8 361.75L437.6 361.36L438.4 362.43L439.2 363.47L440 361.97L440.8 360.42L441.6 358.83L442.4 358.51L443.2 359.8L444 358.53L444.8 360.84L445.6 363.21L446.4 364.42L447.2 363.66L448 364.35L448.8 365.07L449.6 365.27L450.4 364.95L451.2 364.16L452 363.4L452.8 362.66L453.6 361.09L454.4 359.34L455.2 362.13L456 362.57L456.8 362.1L457.6 363.55L458.4 364.95L459.2 364.09L460 363.26L460.8 362.61L461.6 363.42L462.4 363.14L463.2 361.54L464 360.56L464.8 362.3L465.6 363.98L466.4 363.6L467.2 364.97L468 365.27L468.8 365.3L469.6 364.64L470.4 363.9L471.2 363.43L472 364.59L472.8 365.24L473.6 364.37L474.4 363.54L475.2 362.76L476 362.71L476.8 363.67L477.6 364.43L478.4 364.28L479.2 364.3L480 364.73L480.8 364.81L481.6 365.3L482.4 365.3L483.2 364.59L484 364.11L484.8 365.05L485.6 365.3L486.4 365.3L487.2 364.62L488 365.3L488.8 365.3L489.6 365.3L490.4 364.65L491.2 363.73L492 362.61L492.8 364.3L493.6 365.3L494.4 365.3L495.2 363.56L496 363.94L496.8 364.54L497.6 363.76L498.4 362.75L499.2 362.73L500 363.72L500.8 364.48L501.6 364.46L502.4 362.58L503.2 362.16L504 362.28L504.8 362.5L505.6 363.89L506.4 365.28L507.2 365.3L508 364.98L508.8 363.83L509.6 364.94L510.4 365.3L511.2 365.21L512 364.5L512.8 365.08L513.6 365.3L514.4 364.72L515.2 364.05L516 363.4L516.8 364.04L517.6 364.54L518.4 365.23L519.2 365.3L520 365.3L520.8 365.3L521.6 365.3L522.4 365.3L523.2 365.3L524 365.3L524.8 364.78L525.6 364.76L526.4 365.27L527.2 365.3L528 365.3L528.8 363.96L529.6 362.57L530.4 361.18L531.2 361.8L532 363.16L532.8 364.14L533.6 363.9L534.4 364.87L535.2 363.7L536 362.53L536.8 361.35L537.6 360.89L538.4 362L539.2 363.13L540 364.29L540.8 365.3L541.6 365.3L542.4 365.11L543.2 364.15L544 362.69L544.8 361.88L545.6 361.63L546.4 362.54L547.2 362.28L548 360.57L548.8 359.1L549.6 360.72L550.4 362.36L551.2 361.18L552 360.47L552.8 360.08L553.6 362.97L554.4 363.88L555.2 362.94L556 361.98L556.8 362.66L557.6 363.55L558.4 364.45L559.2 365.3L560 365.3L560.8 365.03L561.6 364.37L562.4 363.7L563.2 362.93L564 360.98L564.8 359.01L565.6 360.19L566.4 362.08L567.2 360.97L568 359.3L568.8 357.85L569.6 359.46L570.4 359.37L571.2 360.88L572 363.3L572.8 362.07L573.6 363L574.4 362.57L575.2 363.33L576 363.79L576.8 363.48L577.6 361.88L578.4 362.33L579.2 363.9L580 365.21L580.8 365.2L581.6 365.19L582.4 363.13L583.2 360.96L584 358.77L584.8 356.58L585.6 358.63L586.4 358.82L587.2 360.46L588 360.86L588.8 360.92L589.6 362.61L590.4 364.31L591.2 364.18L592 360.65L592.8 357.1L593.6 360.23L594.4 363.76L595.2 365.04L596 365.03L596.8 364.88L597.6 363.86L598.4 362.88L599.2 362.43L600 363.51L600.8 364.56L601.6 365.26L602.4 365.29L603.2 365.3L604 365.3L604.8 365.3L605.6 364.88L606.4 364.09L607.2 363.54L608 364.36L608.8 365.27L609.6 365.25L610.4 364.55L611.2 363.15L612 362.88L612.8 363.05L613.6 363.75L614.4 363.13L615.2 361.61L616 359.7L616.8 361.82L617.6 360.93L618.4 361.99L619.2 361.63L620 363.81L620.8 365.09L621.6 365.3L622.4 364.51L623.2 363.62L624 362.47L624.8 362.32L625.6 364.13L626.4 365.3L627.2 365.3L628 365.3L628.8 365.3L629.6 365.3L630.4 365.3L631.2 365.3L632 365.3L632.8 365.3L633.6 365.3L634.4 365.22L635.2 365.3L636 365.3L636.8 365.3L637.6 364.82L638.4 364.22L639.2 363.93L640 364.52L640.8 365.11L641.6 365.3L642.4 364.48L643.2 363.21L644 363.94L644.8 362.87L645.6 361.8L646.4 362.58L647.2 363.65L648 364.03L648.8 363.15L649.6 362.27L650.4 362.67L651.2 362.62L652 362.02L652.8 362.85L653.6 363.68L654.4 364.52L655.2 365.3L656 365.3L656.8 364.59L657.6 365.3L658.4 365.3L659.2 365.3L660 364.91L660.8 364.07L661.6 364.61L662.4 365.3L663.2 365.3L664 363.61L664.8 361.62L665.6 363.02L666.4 363.18L667.2 361.74L668 362.98L668.8 363.57L669.6 364.12L670.4 363.13L671.2 362.81L672 361.87L672.8 362.07L673.6 363.1L674.4 364.13L675.2 364.57L676 363.94L676.8 364.88L677.6 365.3L678.4 365L679.2 364.41L680 363.65L680.8 362.8L681.6 364.17L682.4 364.55L683.2 363.18L684 362.58L684.8 362.86L685.6 361.2L686.4 362.52L687.2 364.05L688 364.56L688.8 364.84L689.6 363.62L690.4 362.22L691.2 360.77L692 361.66L692.8 362.96L693.6 364.31L694.4 365.3L695.2 365.3L696 363.17L696.8 360.42L697.6 362.39L698.4 365.08L699.2 365.3L700 364.47L700.8 363.74L701.6 362.05L702.4 363.11L703.2 365.3L704 364.67L704.8 363.47L705.6 362.25L706.4 360.99L707.2 359.3L708 358.14L708.8 359.82L709.6 361.54L710.4 363.3L711.2 363.81L712 362.65L712.8 361.46L713.6 360.3L714.4 360.91L715.2 362.08L716 363.24L716.8 362.33L717.6 361.06L718.4 359.82L719.2 360.34L720 361.68L720.8 361.7L721.6 360.33L722.4 358.98L723.2 360.15L724 361.61L724.8 363.04L725.6 361.99L726.4 361.94L727.2 361.3L728 360.75L728.8 361.98L729.6 363.17L730.4 364.35L731.2 365.3L732 364.82L732.8 365.3L733.6 365.3L734.4 365.3L735.2 364.45L736 363.56L736.8 364.31L737.6 365.25L738.4 364.99L739.2 364.25L740 363.17L740.8 362.13L741.6 361.11L742.4 360.37L743.2 361.07L744 362.26L744.8 363.46L745.6 364.6L746.4 364.44L747.2 363.97L748 364.1L748.8 362.96L749.6 361.81L750.4 361.54L751.2 362.63L752 363.74L752.8 364.86L753.6 362.86L754.4 362.97L755.2 363.01L756 361.76L756.8 360.5L757.6 359.57L758.4 360.75L759.2 361.95L760 362.25L760.8 363.93L761.6 365.3L762.4 365.07L763.2 363.98L764 362.88L764.8 361.77L765.6 360.64L766.4 361.3L767.2 362.36L768 363.06L768.8 362.11L769.6 362.61L770.4 363.51L771.2 364.43L772 363.72L772.8 362.73L773.6 362.22L774.4 363.22L775.2 363.32L776 363.98L776.8 363.87L777.6 362.49L778.4 360.55L779.2 358.62L780 359.3L780.8 360.55L781.6 362.35L782.4 362.17L783.2 363.04L784 364.25L784.8 365.09L785.6 363.53L786.4 361.97L787.2 360.41L788 360.01L788.8 361.58L789.6 361.67L790.4 359.9L791.2 359.63L792 361.41L792.8 363.19L793.6 362.89L794.4 362.26L795.2 362.94L796 360.58L796.8 361.24L797.6 363.6L798.4 362.76L799.2 361.19L800 361.8L800.8 363.38L801.6 364.95L802.4 364.03L803.2 362.78L804 361.54L804.8 360.31L805.6 359.76L806.4 361.02L807.2 362.28L808 362.46L808.8 360.58L809.6 359.43L810.4 361.34L811.2 362.79L812 362.06L812.8 363.52L813.6 364.85L814.4 363.39L815.2 363.39L816 362.82L816.8 361.43L817.6 360.05L818.4 361.35L819.2 360.48L820 361.58L820.8 359.78L821.6 361.29L822.4 363.01L823.2 361.75L824 361.24L824.8 362.52L825.6 361.04L826.4 361.01L827.2 362.67L828 364.32L828.8 363.3L829.6 362.12L830.4 361.52L831.2 362.66L832 362.85L832.8 361.4L833.6 359.93L834.4 361L835.2 362.39L836 363.81L836.8 364.3L837.6 363.61L838.4 363.42L839.2 364.06L840 363.49L840.8 362.39L841.6 361.48L842.4 362.52L843.2 363.58L844 363.37L844.8 360.4L845.6 359.75L846.4 362.42L847.2 361.42L848 360.34L848.8 359.21L849.6 360.78L850.4 362.38L851.2 363.99L852 365.11L852.8 364L853.6 363.5L854.4 364.58L855.2 363.68L856 364.29L856.8 365.22L857.6 365.19L858.4 365.3L859.2 364.29L860 362.96L860.8 364.62L861.6 364.58L862.4 363.82L863.2 364.1L864 364.87L864.8 365.3L865.6 365.18L866.4 365.3L867.2 365.3L868 365.3L868.8 365.2L869.6 364.42L870.4 362.83L871.2 363.5L872 365.08L872.8 365.3L873.6 365.3L874.4 365.3L875.2 365.3L876 365.3L876.8 365.3L877.6 364.69L878.4 363.13L879.2 361.59L880 360.05L880.8 360.32L881.6 361.89L882.4 363.45L883.2 365L884 365.3L884.8 364.7L885.6 363.27L886.4 361.86L887.2 360.46L888 359.06L888.8 359.82L889.6 361.25L890.4 362.66L891.2 364.08L892 365.13L892.8 364.09L893.6 362.51L894.4 360.94L895.2 360.66L896 359.98L896.8 361.29L897.6 362.67L898.4 364.06L899.2 364.82L900 363.35L900.8 361.87L901.6 362.38L902.4 361.6L903.2 360.29L904 359.36L904.8 360.68L905.6 361.76L906.4 362.53L907.2 361.08L908 360.19L908.8 361.64L909.6 363.1L910.4 362.43L911.2 361.22L912 360.02L912.8 360.05L913.6 361.26L914.4 362.47L915.2 363.67L916 364.05L916.8 363.13L917.6 362.22L918.4 362.78L919.2 363.72L920 364.65L920.8 363.83L921.6 363.41L922.4 361.84L923.2 360.29L924 359.05L924.8 360.67L925.6 361.74L926.4 362.74L927.2 363.72L928 364.7L928.8 365.3L929.6 365.3L930.4 365.3L931.2 365.3L932 364.33L932.8 363.04L933.6 362.16L934.4 362.59L935.2 361.45L936 361.06L936.8 362.26L937.6 363.45L938.4 364.61L939.2 365.21L940 364.79L940.8 365.03L941.6 364.43L942.4 363.84L943.2 364.08L944 364.2L944.8 363.49L945.6 362.92L946.4 363.1L947.2 364L948 363.75L948.8 362.48L949.6 362.33L950.4 363.64L951.2 362.76L952 363.26L952.8 364.23L953.6 365.2L954.4 365.3L955.2 365.3L956 364.65L956.8 363.71L957.6 362.77L958.4 362.16L959.2 363.15L960 364.13L960.8 365.09L961.6 365.3L962.4 365.3L963.2 365.3L964 365.3L964.8 365.3L965.6 363.97L966.4 361.93L967.2 363.56L968 363.12L968.8 363.83L969.6 364.53L970.4 365.22L971.2 364.5L972 363.56L972.8 363.12L973.6 364.11L974.4 365.09L975.2 365.3L976 365.15L976.8 364.29L977.6 363.29L978.4 363.39L979.2 364.23L980 365.12L980.8 365.3L981.6 365.3L982.4 365.3L983.2 364.92L984 363.64L984.8 363.92L985.6 365.11L986.4 365.3L987.2 365.1L988 364.21L988.8 363.27L989.6 362.64L990.4 363.44L991.2 364.27L992 365.14L992.8 365.3L993.6 365.3L994.4 365.3L995.2 365.3L996 365.3L996.8 365.3L997.6 364.14L998.4 362.74L999.2 361.29L1000 359.8L1000.8 358.44L1001.6 359.73L1002.4 361.06L1003.2 362.44L1004 363.86L1004.8 364.51L1005.6 362.26L1006.4 359.98L1007.2 357.72L1008 358.22L1008.8 360.44L1009.6 362.67L1010.4 360.84L1011.2 358.96L1012 359.5L1012.8 361.35L1013.6 363.2L1014.4 364.44L1015.2 363.69L1016 362.81L1016.8 363.17L1017.6 362.25L1018.4 360.71L1019.2 361.15L1020 361.3L1020.8 363.44L1021.6 362.61L1022.4 360.75L1023.2 361.12L1024 362.63L1024.8 365.09L1025.6 365.08L1026.4 364.67L1027.2 362.21L1028 359.74L1028.8 358.42L1029.6 360.86L1030.4 363.32L1031.2 365.02L1032 365.02L1032.8 365.01L1033.6 365L1034.4 362.84L1035.2 360.63L1036 358.46L1036.8 357.27L1037.6 359.48L1038.4 361.07L1039.2 362.43L1040 363.77L1040.8 365.04L1041.6 365.04L1042.4 365.05L1043.2 363.99L1044 362.8L1044.8 361.61L1045.6 360.46L1046.4 360.19L1047.2 362.18L1048 364.08L1048.8 363.61L1049.6 361.9L1050.4 360.82L1051.2 362.24L1052 361.04L1052.8 360.91L1053.6 362.14L1054.4 363.36L1055.2 363.47L1056 361.31L1056.8 358.65L1057.6 360.23L1058.4 362.92L1059.2 361.55L1060 360.01L1060.8 358.47L1061.6 359.33L1062.4 360.91L1063.2 362.48L1064 361.25L1064.8 361.83L1065.6 363.46L1066.4 364.11L1067.2 364.54L1068 365.14L1068.8 365.3L1069.6 365.3L1070.4 365.11L1071.2 365.3L1072 365.3L1072.8 365.3L1073.6 365.3L1074.4 365.3L1075.2 365.3L1076 365.3L1076.8 365.3L1077.6 364.33L1078.4 362.32L1079.2 364.18L1080 361.82L1080.8 359.94L1081.6 362.44L1082.4 364.87L1083.2 365.3L1084 364.22L1084.8 362.22L1085.6 360.3L1086.4 361.87L1087.2 363.41L1088 362.03L1088.8 360.87L1089.6 362.39L1090.4 363.86L1091.2 365.27L1092 365.3L1092.8 365.3L1093.6 365.09L1094.4 365.3L1095.2 365.3L1096 365.3L1096.8 365.3L1097.6 365.3L1098.4 365.3L1099.2 365.3L1100 365.3L1100.8 365.3L1101.6 365.3L1102.4 364.15L1103.2 362.31L1104 360.66L1104.8 363.08L1105.6 364.78L1106.4 364.33L1107.2 363.14L1108 362.04L1108.8 361.28L1109.6 359.61L1110.4 361.05L1111.2 362.61L1112 363.22L1112.8 361.45L1113.6 361.53L1114.4 360.62L1115.2 362.04L1116 363.5L1116.8 364.98L1117.6 363.82L1118.4 361.15L1119.2 358.74L1120 361.67L1120.8 364.67L1121.6 364.93L1122.4 363.14L1123.2 363.27L1124 363.59L1124.8 363.91L1125.6 363.21L1126.4 362.29L1127.2 361.74L1128 362.66L1128.8 363.58L1129.6 364.5L1130.4 364.21L1131.2 363.76L1132 362.73L1132.8 361.6L1133.6 360.53L1134.4 360.08L1135.2 360.76L1136 360.63L1136.8 359.74L1137.6 361.65L1138.4 363.56L1139.2 363.93L1140 362.02L1140.8 361.15L1141.6 363.07L1142.4 363.55L1143.2 362.7L1144 362.86L1144.8 363.72L1145.6 364.57L1146.4 365.3L1147.2 365.2L1148 364.62L1148.8 363.66L1149.6 362.49L1150.4 361.33L1151.2 360.94L1152 362.1L1152.8 363.25L1153.6 364.4L1154.4 362.97L1155.2 360.91L1156 358.83L1156.8 359.91L1157.6 361.93L1158.4 363.22L1159.2 362.43L1160 363.68L1160.8 364.94L1161.6 363.61L1162.4 362.08L1163.2 360.53L1164 358.97L1164.8 357.39L1165.6 358.86L1166.4 358.27L1167.2 358.74L1168 360.22L1168.8 361.7L1169.6 363.2L1170.4 363.62L1171.2 364.33L1172 364.68L1172.8 363.71L1173.6 362.73L1174.4 362.07L1175.2 363.02L1176 363.97L1176.8 364.93L1177.6 364L1178.4 363.07L1179.2 364.05L1180 364.38L1180.8 363.26L1181.6 362.14L1182.4 361.09L1183.2 361.3L1184 359.09L1184.8 356.93L1185.6 358.73L1186.4 360.52L1187.2 359.46L1188 360.77L1188.8 360.27L1189.6 360.62L1190.4 362.06L1191.2 363.46L1192 364.83L1192.8 362.81L1193.6 360.62L1194.4 361.09L1195.2 362.11L1196 363.88L1196.8 364.68L1197.6 364.03L1198.4 363.63L1199.2 364.38L1200 365.15L1200.8 365.3L1201.6 365.3L1202.4 365.3L1203.2 364.85L1204 365.3L1204.8 365.3L1205.6 365.3L1206.4 365.3L1207.2 364.04L1208 361.49L1208.8 363.34L1209.6 364.69L1210.4 362.89L1211.2 361.12L1212 362.73L1212.8 362.64L1213.6 363.36L1214.4 364.67L1215.2 363.7L1216 362.1L1216.8 362.48L1217.6 362.48L1218.4 362.89L1219.2 363.09L1220 364.41L1220.8 365.3L1221.6 363.91L1222.4 362.42L1223.2 363.81L1224 362.67L1224.8 363.23L1225.6 362.94L1226.4 363.54L1227.2 364.29L1228 365.02L1228.8 365.3L1229.6 365.03L1230.4 364.14L1231.2 363.26L1232 362.39L1232.8 362.12L1233.6 363.04L1234.4 363.94L1235.2 364.84L1236 365L1236.8 365.3L1237.6 365.3L1238.4 365.3L1239.2 365.3L1240 365.3L1240.8 365.3L1241.6 365.3L1242.4 365.3L1243.2 365.3L1244 365.3L1244.8 365.3L1245.6 365.3L1246.4 365.06L1247.2 364.08L1248 363.06L1248.8 361.79L1249.6 361.38L1250.4 361.73L1251.2 363.02L1252 364.27L1252.8 364.66L1253.6 364.82L1254.4 364.77L1255.2 365.3L1256 365.08L1256.8 364.18L1257.6 363.25L1258.4 362.3L1259.2 361.71L1260 361.92L1260.8 362.46L1261.6 363.41L1262.4 364.32L1263.2 363.24L1264 361.31L1264.8 359.33L1265.6 360.96L1266.4 361.85L1267.2 360.28L1268 360.05L1268.8 358.76L1269.6 359.77L1270.4 361.29L1271.2 362.49L1272 360.15L1272.8 363.24L1273.6 363.56L1274.4 362.72L1275.2 361.88L1276 362.72L1276.8 363.58L1277.6 363.44L1278.4 362.36L1279.2 361.29L1280 360.47L1280.8 361.46L1281.6 361.33L1282.4 359.83L1283.2 358.93L1284 360.46L1284.8 361.98L1285.6 363.5L1286.4 363.1L1287.2 363.17L1288 363.36L1288.8 362.55L1289.6 362.8L1290.4 363.62L1291.2 364.44L1292 365.26L1292.8 365.3L1293.6 365.3L1294.4 365.3L1295.2 365.3L1296 365.3L1296.8 365.3L1297.6 365.3L1298.4 365.3L1299.2 364.08L1300 361.41L1300.8 358.79L1301.6 361.46L1302.4 364.14L1303.2 365.3L1304 365.3L1304.8 365.3L1305.6 365.3L1306.4 365.28L1307.2 364.73L1308 364.19L1308.8 363.07L1309.6 361.68L1310.4 361.28L1311.2 362.75L1312 364.18L1312.8 365.3L1313.6 365.3L1314.4 364.62L1315.2 364.24L1316 365.3L1316.8 365.3L1317.6 365.3L1318.4 365.3L1319.2 365.3L1320 365.24L1320.8 364.72L1321.6 364.22L1322.4 364.68L1323.2 365.24L1324 365.3L1324.8 365.3L1325.6 365.3L1326.4 365.3L1327.2 365.3L1328 365.3L1328.8 364.84L1329.6 364.3L1330.4 363.42L1331.2 362.36L1332 361.74L1332.8 362.74L1333.6 363.76L1334.4 364.2L1335.2 364.73L1336 365.27L1336.8 365.22L1337.6 363.65L1338.4 364.06L1339.2 363.76L1340 364.46L1340.8 365.11L1341.6 364.88L1342.4 365.3L1343.2 364.85L1344 364.4L1344.8 364.89L1345.6 364.2L1346.4 362.63L1347.2 361.04L1348 361.4L1348.8 362.94L1349.6 364.5L1350.4 365.3L1351.2 365.3L1352 364.31L1352.8 362.4L1353.6 361.16L1354.4 363.03L1355.2 362.94L1356 362.99L1356.8 364.77L1357.6 363.28L1358.4 361.81L1359.2 361.81L1360 361.87L1360.8 363.78L1361.6 363.45L1362.4 362.6L1363.2 362.1L1364 362.96L1364.8 363.82L1365.6 362.31L1366.4 361.03L1367.2 362.37L1368 361.73L1368.8 363.08L1369.6 364.2L1370.4 362.68L1371.2 361.16L1372 362.55L1372.8 362.01L1373.6 361.24L1374.4 363.21L1375.2 363.21L1376 360.48L1376.8 360.02L1377.6 362.89L1378.4 364.03L1379.2 362.51L1380 362.54L1380.8 364.74L1381.6 365.15L1382.4 365.09L1383.2 364.33L1384 364.78L1384.8 364.44L1385.6 361.89L1386.4 362.13L1387.2 364.65L1388 365.3L1388.8 365.3L1389.6 365.3L1390.4 365.3L1391.2 365.3L1392 365.3L1392.8 365.3L1393.6 365.3L1394.4 365.3L1395.2 365.3L1396 365.3L1396.8 365.3L1397.6 365.3L1398.4 365.3L1399.2 364.26L1400 361.68L1400.8 361.25L1401.6 363.59L1402.4 362.17L1403.2 360.71L1404 360.83L1404.8 361.49L1405.6 359.81L1406.4 358.5L1407.2 360.04L1408 361.62L1408.8 362.15L1409.6 361.09L1410.4 362.08L1411.2 362.08L1412 363.86L1412.8 362.59L1413.6 361.29L1414.4 360.81L1415.2 362.02L1415.8 367.6Z" fill="#1b1b1d"/>
<line x1="225" y1="385" x2="337.6" y2="385" stroke="#222" stroke-width="1.45" stroke-linecap="butt"/>
<line x1="225.5" y1="382.2" x2="225.5" y2="387.8" stroke="#222" stroke-width="1.3" stroke-linecap="butt"/>
<rect x="260.9" y="379" width="3.2" height="12" fill="#222"/>
<rect x="279.3" y="379" width="2.6" height="12" fill="#222"/>
<rect x="306.7" y="379" width="2.2" height="12" fill="#222"/>
<line x1="257.4" y1="379" x2="257.4" y2="391" stroke="#333" stroke-width="0.8" stroke-linecap="butt"/>
<line x1="255.6" y1="380.5" x2="255.6" y2="389.5" stroke="#999" stroke-width="0.8" stroke-linecap="butt"/>
<line x1="311.4" y1="379" x2="311.4" y2="391" stroke="#888" stroke-width="0.8" stroke-linecap="butt"/>
<line x1="312.8" y1="379" x2="312.8" y2="391" stroke="#aaa" stroke-width="0.8" stroke-linecap="butt"/>
<line x1="322.3" y1="379" x2="322.3" y2="391" stroke="#666" stroke-width="0.8" stroke-linecap="butt"/>
<line x1="326.5" y1="381" x2="326.5" y2="389" stroke="#aaa" stroke-width="0.8" stroke-linecap="butt"/>
<path d="M238.1 382 L241.4 385 L238.1 388" fill="none" stroke="#222" stroke-width="1.35"/>
<path d="M269.8 382 L273.1 385 L269.8 388" fill="none" stroke="#222" stroke-width="1.35"/>
<path d="M291.5 382 L294.8 385 L291.5 388" fill="none" stroke="#222" stroke-width="1.35"/>
<path d="M314.1 382 L317.4 385 L314.1 388" fill="none" stroke="#222" stroke-width="1.35"/>
<path d="M330.4 382 L333.7 385 L330.4 388" fill="none" stroke="#222" stroke-width="1.35"/>
<rect x="337.6" y="382.2" width="26.8" height="5.6" fill="#222"/>
<text transform="translate(369.9 390.8) scale(0.9984 1)" font-size="21.5" font-weight="bold" fill="#1c1a1b">BTN3A2</text>
<line x1="414.8" y1="412.2" x2="513.2" y2="412.2" stroke="#222" stroke-width="1.45" stroke-linecap="butt"/>
<line x1="415.3" y1="409.4" x2="415.3" y2="415" stroke="#222" stroke-width="1.3" stroke-linecap="butt"/>
<rect x="435" y="406.2" width="3.2" height="12" fill="#222"/>
<rect x="466.6" y="406.2" width="2.6" height="12" fill="#222"/>
<rect x="487.3" y="406.2" width="2.2" height="12" fill="#222"/>
<line x1="422.6" y1="406.2" x2="422.6" y2="418.2" stroke="#333" stroke-width="0.8" stroke-linecap="butt"/>
<line x1="496" y1="406.2" x2="496" y2="418.2" stroke="#999" stroke-width="0.8" stroke-linecap="butt"/>
<line x1="497.2" y1="406.2" x2="497.2" y2="418.2" stroke="#bbb" stroke-width="0.8" stroke-linecap="butt"/>
<path d="M414.9 409.2 L418.2 412.2 L414.9 415.2" fill="none" stroke="#222" stroke-width="1.35"/>
<path d="M425.5 409.2 L428.8 412.2 L425.5 415.2" fill="none" stroke="#222" stroke-width="1.35"/>
<path d="M449.8 409.2 L453.1 412.2 L449.8 415.2" fill="none" stroke="#222" stroke-width="1.35"/>
<path d="M475.2 409.2 L478.5 412.2 L475.2 415.2" fill="none" stroke="#222" stroke-width="1.35"/>
<path d="M501.4 409.2 L504.7 412.2 L501.4 415.2" fill="none" stroke="#222" stroke-width="1.35"/>
<rect x="513.2" y="406.2" width="5.6" height="12" fill="#222"/>
<rect x="518.8" y="409.2" width="20.6" height="6" fill="#222"/>
<text transform="translate(544.9 417.4) scale(0.9984 1)" font-size="21.5" font-weight="bold" fill="#1c1a1b">BTN2A2</text>
<line x1="617.6" y1="385" x2="733" y2="385" stroke="#222" stroke-width="1.45" stroke-linecap="butt"/>
<line x1="618.1" y1="382.2" x2="618.1" y2="387.8" stroke="#222" stroke-width="1.3" stroke-linecap="butt"/>
<rect x="655.9" y="379" width="3.4" height="12" fill="#222"/>
<rect x="674.7" y="379" width="2.6" height="12" fill="#222"/>
<rect x="694.3" y="379" width="2.2" height="12" fill="#222"/>
<line x1="652.5" y1="379" x2="652.5" y2="391" stroke="#333" stroke-width="0.8" stroke-linecap="butt"/>
<line x1="650.9" y1="380.5" x2="650.9" y2="389.5" stroke="#999" stroke-width="0.8" stroke-linecap="butt"/>
<line x1="699.2" y1="379" x2="699.2" y2="391" stroke="#444" stroke-width="0.8" stroke-linecap="butt"/>
<line x1="712.3" y1="379" x2="712.3" y2="391" stroke="#999" stroke-width="0.8" stroke-linecap="butt"/>
<line x1="715.9" y1="379" x2="715.9" y2="391" stroke="#999" stroke-width="0.8" stroke-linecap="butt"/>
<path d="M631.7 382 L635 385 L631.7 388" fill="none" stroke="#222" stroke-width="1.35"/>
<path d="M664.7 382 L668 385 L664.7 388" fill="none" stroke="#222" stroke-width="1.35"/>
<path d="M683.3 382 L686.6 385 L683.3 388" fill="none" stroke="#222" stroke-width="1.35"/>
<path d="M702.3 382 L705.6 385 L702.3 388" fill="none" stroke="#222" stroke-width="1.35"/>
<path d="M721.9 382 L725.2 385 L721.9 388" fill="none" stroke="#222" stroke-width="1.35"/>
<rect x="733" y="379" width="5.6" height="12" fill="#222"/>
<rect x="738.6" y="382.2" width="16.2" height="5.6" fill="#222"/>
<text transform="translate(759.8 390.8) scale(0.9888 1)" font-size="21.5" font-weight="bold" fill="#1c1a1b">BTN3A1</text>
<line x1="827.2" y1="412.5" x2="919.5" y2="412.5" stroke="#222" stroke-width="1.45" stroke-linecap="butt"/>
<rect x="835.7" y="409.5" width="3.6" height="6" fill="#222"/>
<rect x="871.3" y="409.5" width="2.4" height="6" fill="#222"/>
<rect x="888.6" y="409.5" width="2.2" height="6" fill="#222"/>
<line x1="897.8" y1="409.5" x2="897.8" y2="415.5" stroke="#777" stroke-width="0.8" stroke-linecap="butt"/>
<path d="M827.9 409.5 L831.2 412.5 L827.9 415.5" fill="none" stroke="#222" stroke-width="1.35"/>
<path d="M830.5 409.5 L833.8 412.5 L830.5 415.5" fill="none" stroke="#222" stroke-width="1.35"/>
<path d="M852.6 409.5 L855.9 412.5 L852.6 415.5" fill="none" stroke="#222" stroke-width="1.35"/>
<path d="M877.9 409.5 L881.2 412.5 L877.9 415.5" fill="none" stroke="#222" stroke-width="1.35"/>
<path d="M889.9 409.5 L893.2 412.5 L889.9 415.5" fill="none" stroke="#222" stroke-width="1.35"/>
<path d="M892.3 409.5 L895.6 412.5 L892.3 415.5" fill="none" stroke="#222" stroke-width="1.35"/>
<path d="M906 409.5 L909.3 412.5 L906 415.5" fill="none" stroke="#222" stroke-width="1.35"/>
<rect x="919.3" y="409.4" width="8.4" height="6.2" fill="#222"/>
<text transform="translate(935.1 417.2) scale(1.0043 1)" font-size="21.5" font-weight="bold" fill="#1c1a1b">BTN2A3P</text>
<line x1="1022.3" y1="384.9" x2="1140.4" y2="384.9" stroke="#222" stroke-width="1.45" stroke-linecap="butt"/>
<line x1="1022.8" y1="382.1" x2="1022.8" y2="387.7" stroke="#222" stroke-width="1.3" stroke-linecap="butt"/>
<rect x="1058.6" y="378.9" width="3.2" height="12" fill="#222"/>
<rect x="1077" y="378.9" width="2.6" height="12" fill="#222"/>
<rect x="1103.9" y="378.9" width="2.2" height="12" fill="#222"/>
<line x1="1054.4" y1="378.9" x2="1054.4" y2="390.9" stroke="#999" stroke-width="0.8" stroke-linecap="butt"/>
<line x1="1055.8" y1="378.9" x2="1055.8" y2="390.9" stroke="#555" stroke-width="0.8" stroke-linecap="butt"/>
<line x1="1107.6" y1="378.9" x2="1107.6" y2="390.9" stroke="#aaa" stroke-width="0.8" stroke-linecap="butt"/>
<line x1="1108.8" y1="378.9" x2="1108.8" y2="390.9" stroke="#bbb" stroke-width="0.8" stroke-linecap="butt"/>
<line x1="1118.6" y1="378.9" x2="1118.6" y2="390.9" stroke="#aaa" stroke-width="0.8" stroke-linecap="butt"/>
<line x1="1123.2" y1="378.9" x2="1123.2" y2="390.9" stroke="#999" stroke-width="0.8" stroke-linecap="butt"/>
<path d="M1034.5 381.9 L1037.8 384.9 L1034.5 387.9" fill="none" stroke="#222" stroke-width="1.35"/>
<path d="M1066.1 381.9 L1069.4 384.9 L1066.1 387.9" fill="none" stroke="#222" stroke-width="1.35"/>
<path d="M1088.8 381.9 L1092.1 384.9 L1088.8 387.9" fill="none" stroke="#222" stroke-width="1.35"/>
<path d="M1110.9 381.9 L1114.2 384.9 L1110.9 387.9" fill="none" stroke="#222" stroke-width="1.35"/>
<path d="M1129.5 381.9 L1132.8 384.9 L1129.5 387.9" fill="none" stroke="#222" stroke-width="1.35"/>
<rect x="1140.4" y="379.1" width="7.8" height="11.6" fill="#222"/>
<rect x="1148.2" y="382.3" width="10.6" height="5.2" fill="#222"/>
<text transform="translate(1163.6 389.5) scale(0.9984 1)" font-size="21.5" font-weight="bold" fill="#1c1a1b">BTN3A3</text>
<line x1="1206.7" y1="412.3" x2="1312.8" y2="412.3" stroke="#222" stroke-width="1.45" stroke-linecap="butt"/>
<line x1="1207.2" y1="409.5" x2="1207.2" y2="415.1" stroke="#222" stroke-width="1.3" stroke-linecap="butt"/>
<rect x="1223" y="406.3" width="3.2" height="12" fill="#222"/>
<rect x="1262.9" y="406.3" width="2.6" height="12" fill="#222"/>
<rect x="1283.2" y="406.3" width="2.2" height="12" fill="#222"/>
<line x1="1213.9" y1="407.3" x2="1213.9" y2="417.3" stroke="#444" stroke-width="0.8" stroke-linecap="butt"/>
<line x1="1292" y1="406.3" x2="1292" y2="418.3" stroke="#999" stroke-width="0.8" stroke-linecap="butt"/>
<path d="M1207.9 409.3 L1211.2 412.3 L1207.9 415.3" fill="none" stroke="#222" stroke-width="1.35"/>
<path d="M1215.1 409.3 L1218.4 412.3 L1215.1 415.3" fill="none" stroke="#222" stroke-width="1.35"/>
<path d="M1241.8 409.3 L1245.1 412.3 L1241.8 415.3" fill="none" stroke="#222" stroke-width="1.35"/>
<path d="M1271.8 409.3 L1275.1 412.3 L1271.8 415.3" fill="none" stroke="#222" stroke-width="1.35"/>
<path d="M1284.5 409.3 L1287.8 412.3 L1284.5 415.3" fill="none" stroke="#222" stroke-width="1.35"/>
<path d="M1299.4 409.3 L1302.7 412.3 L1299.4 415.3" fill="none" stroke="#222" stroke-width="1.35"/>
<rect x="1312.8" y="406.6" width="5.6" height="11.4" fill="#222"/>
<rect x="1318.4" y="409.6" width="11.9" height="5.4" fill="#222"/>
<text transform="translate(1335.6 417.5) scale(0.9362 1)" font-size="21.5" font-weight="bold" fill="#1c1a1b">BTN2A1</text>
<line x1="127.6" y1="434.2" x2="1416.6" y2="434.2" stroke="#1c1a1b" stroke-width="1.5" stroke-linecap="butt"/>
<line x1="170.5" y1="434.2" x2="170.5" y2="446.2" stroke="#1c1a1b" stroke-width="1.4" stroke-linecap="butt"/>
<line x1="382.1" y1="434.2" x2="382.1" y2="446.2" stroke="#1c1a1b" stroke-width="1.4" stroke-linecap="butt"/>
<line x1="593.8" y1="434.2" x2="593.8" y2="446.2" stroke="#1c1a1b" stroke-width="1.4" stroke-linecap="butt"/>
<line x1="805.3" y1="434.2" x2="805.3" y2="446.2" stroke="#1c1a1b" stroke-width="1.4" stroke-linecap="butt"/>
<line x1="1016.9" y1="434.2" x2="1016.9" y2="446.2" stroke="#1c1a1b" stroke-width="1.4" stroke-linecap="butt"/>
<line x1="1227.9" y1="434.2" x2="1227.9" y2="446.2" stroke="#1c1a1b" stroke-width="1.4" stroke-linecap="butt"/>
<text transform="translate(146.5 469.6) scale(0.9893 1)" font-size="22.8" fill="#1c1a1b">26,360</text>
<text transform="translate(349.6 469.6) scale(0.9922 1)" font-size="22.8" fill="#1c1a1b">26,380</text>
<text transform="translate(561.7 469.6) scale(0.9922 1)" font-size="22.8" fill="#1c1a1b">26,400</text>
<text transform="translate(772.8 469.6) scale(0.9965 1)" font-size="22.8" fill="#1c1a1b">26,420</text>
<text transform="translate(985.3 469.6) scale(0.9922 1)" font-size="22.8" fill="#1c1a1b">26,440</text>
<text transform="translate(1197.4 469.6) scale(0.9922 1)" font-size="22.8" fill="#1c1a1b">26,460</text>
<text transform="translate(76.6 469.6) scale(0.9998 1)" font-size="21.5" font-weight="bold" fill="#1c1a1b">chr6</text>
<text transform="translate(1357 469.6) scale(0.9491 1)" font-size="21.5" font-weight="bold" fill="#1c1a1b">Kb</text>
<!-- panel b -->
<text transform="translate(-0.9 567.7) scale(1.0000 1)" font-size="25.7" font-weight="bold" fill="#1c1a1b">b</text>
<path d="M116.9 573.9 V684.6" fill="none" stroke="#1c1a1b" stroke-width="1.5"/>
<line x1="110.2" y1="574.6" x2="116.9" y2="574.6" stroke="#1c1a1b" stroke-width="1.4" stroke-linecap="butt"/>
<text transform="translate(88.2 582.5) scale(1.0594 1)" font-size="14.6" fill="#1c1a1b">40</text>
<line x1="110.2" y1="601.9" x2="116.9" y2="601.9" stroke="#1c1a1b" stroke-width="1.4" stroke-linecap="butt"/>
<text transform="translate(88.2 609.8) scale(1.0594 1)" font-size="14.6" fill="#1c1a1b">30</text>
<line x1="110.2" y1="629.2" x2="116.9" y2="629.2" stroke="#1c1a1b" stroke-width="1.4" stroke-linecap="butt"/>
<text transform="translate(88.2 637.1) scale(1.0594 1)" font-size="14.6" fill="#1c1a1b">20</text>
<line x1="110.2" y1="656.5" x2="116.9" y2="656.5" stroke="#1c1a1b" stroke-width="1.4" stroke-linecap="butt"/>
<text transform="translate(88.2 664.4) scale(1.0594 1)" font-size="14.6" fill="#1c1a1b">10</text>
<line x1="110.2" y1="683.9" x2="116.9" y2="683.9" stroke="#1c1a1b" stroke-width="1.4" stroke-linecap="butt"/>
<text transform="translate(96.8 691.8) scale(1.0594 1)" font-size="14.6" fill="#1c1a1b">0</text>
<text transform="translate(0 0) rotate(-90) translate(-672 62.9) scale(0.9393 1)" font-size="19.6" fill="#1c1a1b">Normalized</text>
<text transform="translate(0 0) rotate(-90) translate(-648 79) scale(0.9302 1)" font-size="19.6" fill="#1c1a1b">reads</text>
<text transform="translate(446.2 594) scale(0.9229 1)" font-size="25.2" font-weight="bold" fill="#1c1a1b">IRF1</text>
<path d="M152.6 684.9L152.46 682.49L154 681.66L155.25 683.33L156.8 681.18L158.18 681.7L159.67 683.14L160.86 682.51L162.31 681.45L163.71 682.76L165.06 681.86L166.61 681.97L167.82 681.4L169 679.26L170.16 678.97L171.53 677.29L172.76 677.23L174.18 675.69L175.58 674.98L177.03 676.05L178.49 674.72L179.91 673.39L181.32 673.59L182.6 673.77L184.01 673.08L185.56 670.89L187.07 671.94L188.43 671.76L189.95 669.42L191.22 668.71L192.7 668.35L194.13 668.56L195.52 670.15L197.09 669.74L198.4 671.35L200.09 671.8L201.58 671.86L202.75 672.91L203.75 672.92L204.96 673.62L206.11 675.21L207.06 676.22L207.92 677.97L209.07 678.1L210.29 677.3L211.62 675.49L212.69 675.21L214 675.26L215.4 674.28L217.02 673.03L218.41 672.13L219.92 672.98L221.32 673.1L222.5 672.11L224.05 671.32L225.43 670.32L226.64 670.78L228.13 672.04L229.45 670.82L230.97 671.59L232.44 672.35L233.96 672.94L235.53 673.25L237.1 674.05L239.09 673.45L240.21 672.1L241.58 672.71L242.99 674L244.17 673.8L245.71 672.9L247.11 674.1L248.73 674.89L250.36 675.73L251.86 674.7L253.59 674.41L254.89 671.54L256.48 671.32L257.75 671.65L259.19 671.44L260.3 669.47L261.29 669.27L262.36 668.82L263.44 668.31L264.62 666.08L265.78 665.57L266.79 666.21L267.66 663.76L268.77 664.22L269.97 661.76L270.94 662.75L271.9 661.24L273.07 660.4L273.37 658.89L273.67 657.12L273.99 655.78L274.52 653.74L274.65 652.37L274.94 650.75L275.35 649.67L275.39 647.68L275.87 646.17L276.49 644.55L277.13 643.38L277.79 642.13L278.56 640.68L279.13 638.13L280.46 638.29L281.74 636.77L283.05 636.75L284.33 636.27L285.54 635.33L286.91 633.71L287.65 635.02L288.94 636.8L289.53 637.92L290.42 639.04L290.75 640.52L291.37 641.47L291.62 642.91L292.1 643.99L292.24 645.81L292.47 647.11L292.78 648.47L292.98 650.06L293.31 651.94L293.35 653.2L293.36 655.17L293.51 656.69L293.93 657.69L293.83 659.44L293.92 660.98L294.04 662.61L294.4 664.08L296.08 663.82L296.1 662.66L296.16 661.35L296.28 660.07L296.23 658.71L296.19 657.53L296.41 656.04L296.33 654.75L296.58 653.44L296.47 652.23L296.61 650.21L296.67 648.63L296.88 647.55L298.65 648.28L300.58 647.39L300.59 646.18L300.8 644.65L300.6 643.61L300.9 642.42L300.89 640.91L300.79 639.17L300.88 637.88L300.97 636.75L300.93 635.39L301.07 634.32L301.06 633.24L301.27 631.96L301.29 630.55L301.35 629.08L301.38 627.71L301.39 626.46L301.35 625.54L301.33 623.88L301.6 622.26L301.52 621.41L301.58 619.9L301.75 618.54L301.59 617.04L301.73 615.87L301.84 614.88L301.86 613.52L302.09 611.91L301.91 611.19L301.99 609.45L302.1 608.26L302.12 606.98L302.36 605.54L302.3 604.13L302.27 602.76L302.47 601.89L302.7 600.26L302.51 598.92L302.86 597.56L302.89 596.11L303 594.45L303.04 592.99L303.1 591.27L303.02 589.83L303.13 588.95L303.15 587.38L303.22 586.21L303.26 584.45L303.33 583.16L303.42 581.96L303.41 580.51L303.53 579.13L303.42 577.94L303.54 576.99L303.58 575.3L303.8 573.81L303.67 572.81L303.77 571.1L303.9 570.02L303.87 568.45L304.02 566.98L304.09 565.63L304.28 563.76L304.28 562.28L304.53 561.38L304.77 560.33L305.13 558.95L305.53 557.79L306.05 555.6L306.76 555.03L308.04 553.28L308.96 553.08L310.53 553.32L311.67 552.89L314.02 552.85L315.47 554.79L315.89 556.64L316.52 557.66L316.81 558.96L316.88 560.31L317.08 561.84L317.27 563.8L317.71 564.99L317.65 566.49L317.66 567.48L317.94 569.1L317.81 570.06L317.9 571.48L318.08 573.08L318.25 574.41L318.34 575.69L318.2 576.47L318.44 578.36L318.43 579.4L318.47 580.66L318.7 582.07L318.74 583.51L318.85 584.94L318.8 585.74L318.92 587.46L318.89 588.51L319 589.66L319.16 591.4L319.03 592.58L319.12 593.65L319.24 595.37L319.24 596.32L319.52 597.42L319.53 599.12L319.64 600.29L319.57 602.08L319.82 602.79L320.03 604.5L320.13 605.79L320.16 606.98L320.25 608.67L320.37 609.89L320.32 611.28L320.55 612.76L320.6 613.69L320.76 615.34L320.93 616.7L321.04 618.24L321.02 619.3L321.07 620.57L321.2 622.3L321.44 623.56L321.51 624.72L321.66 626.15L321.57 627.27L321.65 628.97L321.82 630.02L322.02 631.29L322.04 633.2L322.34 634.08L322.56 635.91L322.49 636.77L322.78 638.31L322.77 639.83L323.07 641.16L322.94 642.48L323.14 643.96L323.49 645.34L323.61 646.77L323.76 648.53L323.82 649.58L324.05 651.01L324.06 652.6L324.31 653.76L324.39 656L325.71 655.35L327 655.07L329.38 655.94L330.42 657.48L331.32 658.46L332.51 660.58L333.6 660.58L334.56 661.04L335.51 663.42L336.91 663.51L338 664.28L339.37 665.87L340.79 666.74L341.12 667.9L341.58 669.57L342.15 671.77L342.54 672.88L342.96 674.52L343.34 676.06L343.74 676.59L345.45 678.55L347.11 678.42L348.95 677.58L350.77 677.63L352.2 677.54L353.97 679.62L355.29 677.91L356.85 679.6L358.51 679.56L360.17 678.98L361.74 679.69L363.1 679.17L364.83 678.61L366.4 679.54L368.06 677.71L369.33 678.21L370.62 678.06L371.91 676.79L373.43 677.84L374.96 677.73L376.51 676.19L377.97 676.04L379.19 675.88L380.71 675.4L381.86 675.29L383.34 673.89L385.09 674.53L387.05 674.39L387.73 677.64L388.28 678.98L389.5 677.81L390.87 678.52L392.02 680.61L393.34 681.12L394.64 680.4L395.81 681.62L397.28 680.85L399.07 681.23L400.44 682.02L402.1 682.9L402.1 684.9Z" fill="#2472b4"/>
<rect x="152.6" y="683.6" width="1263.1" height="1.3" fill="#2472b4"/>
<path d="M401.4 684.9L402 683.7L403 682.61L405.53 682.75L408.06 682.79L410.59 682.56L413.12 682.53L415.65 682.57L418.18 682.71L420.71 682.83L423.24 682.91L425.76 682.76L428.29 682.56L430.82 682.71L433.35 682.51L435.88 682.62L438.41 682.52L440.94 682.84L443.47 682.86L446 682.59L447 683.7L447.6 684.9Z" fill="#2472b4"/>
<path d="M468.2 684.9L468.8 683.4L469.8 682.18L472.39 682.01L474.98 682.35L477.57 682.11L480.17 682.27L482.76 682.3L485.35 682.21L487.94 682.02L490.53 682.22L493.12 682.03L495.71 682.18L498.3 682.42L500.9 682.27L503.49 681.96L506.08 682.01L508.67 682.44L511.26 682.36L513.85 682.03L516.44 682.09L519.03 682.16L521.63 682.24L524.22 681.94L526.81 682.07L529.4 681.99L530.4 683.4L531 684.9Z" fill="#2472b4"/>
<path d="M538.8 684.9L539.4 682.3L540.4 679.79L543.38 680.3L546.37 679.85L549.35 680.42L552.33 680.26L555.32 680.32L558.3 679.79L559.3 682.3L559.9 684.9Z" fill="#2472b4"/>
<path d="M598.4 684.9L599 683.65L600 682.68L602.52 682.84L605.04 682.64L607.56 682.74L610.08 682.84L612.6 682.44L615.12 682.65L617.64 682.49L620.16 682.47L622.68 682.74L625.2 682.72L627.72 682.84L630.24 682.46L632.76 682.73L635.28 682.41L637.8 682.54L640.32 682.51L642.84 682.66L645.36 682.72L647.88 682.71L650.4 682.76L652.92 682.71L655.44 682.67L657.96 682.41L660.48 682.8L663 682.67L664 683.65L664.6 684.9Z" fill="#2472b4"/>
<path d="M647.4 684.9L648 683.3L649 682L652.33 682.03L655.67 681.9L659 682.09L660 683.3L660.6 684.9Z" fill="#2472b4"/>
<path d="M667.4 684.9L668 683.7L669 682.81L672 682.91L675 682.86L678 682.74L679 683.7L679.6 684.9Z" fill="#2472b4"/>
<path d="M681.9 684.9L682.5 683.6L683.5 682.39L686.21 682.5L688.92 682.44L691.62 682.45L694.33 682.59L697.04 682.52L699.75 682.33L702.46 682.58L705.17 682.49L707.88 682.73L710.58 682.66L713.29 682.32L716 682.31L717 683.6L717.6 684.9Z" fill="#2472b4"/>
<path d="M745.4 684.9L746 683.6L747 682.42L749.56 682.41L752.11 682.52L754.67 682.67L757.22 682.32L759.78 682.53L762.33 682.69L764.89 682.63L767.44 682.35L770 682.47L771 683.6L771.6 684.9Z" fill="#2472b4"/>
<path d="M893.4 684.9L894 683.65L895 682.55L898 682.79L901 682.59L904 682.75L905 683.65L905.6 684.9Z" fill="#2472b4"/>
<path d="M913.4 684.9L914 683.2L915 681.83L917.9 681.51L920.8 681.87L923.7 681.95L926.6 682.08L929.5 681.71L930.5 683.2L931.1 684.9Z" fill="#2472b4"/>
<path d="M929.4 684.9L930 683.7L931 682.88L934 682.6L937 682.6L938 683.7L938.6 684.9Z" fill="#2472b4"/>
<path d="M966.1 684.9L966.7 683.65L967.7 682.85L971.2 682.54L974.7 682.59L975.7 683.65L976.3 684.9Z" fill="#2472b4"/>
<path d="M986 684.9L986.6 683.4L987.6 682.33L990.2 682.09L992.8 681.99L995.4 682.41L998 682.03L1000.6 682.09L1003.2 682.01L1005.8 681.95L1008.4 682.2L1011 682.13L1012 683.4L1012.6 684.9Z" fill="#2472b4"/>
<path d="M1020.4 684.9L1021 683.65L1022 682.72L1025 682.73L1028 682.76L1031 682.82L1032 683.65L1032.6 684.9Z" fill="#2472b4"/>
<path d="M1031.3 684.9L1031.9 682.9L1032.9 681.26L1035.55 681.01L1038.2 681.24L1040.85 681.57L1043.5 681.59L1044.5 682.9L1045.1 684.9Z" fill="#2472b4"/>
<path d="M1043.9 684.9L1044.5 683.65L1045.5 682.48L1048.2 682.73L1050.9 682.76L1053.6 682.65L1056.3 682.77L1059 682.45L1061.7 682.68L1064.4 682.7L1067.1 682.68L1069.8 682.78L1072.5 682.47L1073.5 683.65L1074.1 684.9Z" fill="#2472b4"/>
<path d="M1076.4 684.9L1077 683.65L1078 682.54L1080.67 682.7L1083.33 682.64L1086 682.46L1088.67 682.53L1091.33 682.46L1094 682.51L1095 683.65L1095.6 684.9Z" fill="#2472b4"/>
<path d="M1105.4 684.9L1106 683.65L1107 682.83L1109.78 682.49L1112.56 682.77L1115.33 682.66L1118.11 682.7L1120.89 682.75L1123.67 682.63L1126.44 682.84L1129.22 682.79L1132 682.71L1133 683.65L1133.6 684.9Z" fill="#2472b4"/>
<path d="M1190.4 684.9L1191 683.65L1192 682.83L1194.75 682.67L1197.5 682.61L1198.5 683.65L1199.1 684.9Z" fill="#2472b4"/>
<path d="M1197.9 684.9L1198.5 682.4L1199.5 680.56L1202.36 680.41L1205.22 680.26L1208.08 680.2L1210.94 679.96L1213.8 680.13L1214.8 682.4L1215.4 684.9Z" fill="#2472b4"/>
<path d="M1214.2 684.9L1214.8 683.65L1215.8 682.71L1218.45 682.55L1221.1 682.41L1223.75 682.83L1226.4 682.71L1227.4 683.65L1228 684.9Z" fill="#2472b4"/>
<path d="M1277.4 684.9L1278 683.7L1279 682.57L1283 682.64L1284 683.7L1284.6 684.9Z" fill="#2472b4"/>
<path d="M1286.4 684.9L1287 683.6L1288 682.67L1290.75 682.45L1293.5 682.38L1296.25 682.58L1299 682.6L1300 683.6L1300.6 684.9Z" fill="#2472b4"/>
<path d="M1311.9 684.9L1312.5 683.65L1313.5 682.83L1318.8 682.48L1319.8 683.65L1320.4 684.9Z" fill="#2472b4"/>
<path d="M1319.2 684.9L1319.8 683.15L1320.8 681.96L1323.45 682L1326.1 681.91L1328.75 681.57L1331.4 681.51L1332.4 683.15L1333 684.9Z" fill="#2472b4"/>
<path d="M1337.4 684.9L1338 683.7L1339 682.58L1342 682.82L1343 683.7L1343.6 684.9Z" fill="#2472b4"/>
<path d="M1362.4 684.9L1363 683.4L1364 682.42L1366.63 682.24L1369.26 682.05L1371.89 682.2L1374.53 682.18L1377.16 682.31L1379.79 682.09L1382.42 682.25L1385.05 682.22L1387.68 681.92L1390.32 682.21L1392.95 682.41L1395.58 682.4L1398.21 682.33L1400.84 682.25L1403.47 682.05L1406.11 682.39L1408.74 682.04L1411.37 681.92L1414 682.33L1415 683.4L1415.6 684.9Z" fill="#2472b4"/>
<text transform="translate(56.7 713.4) scale(0.9884 1)" font-size="15.8" fill="#1c1a1b">SEACR</text>
<rect x="152.6" y="700" width="248.8" height="12" fill="#2472b4"/>
<path d="M116.9 740 V850.6" fill="none" stroke="#1c1a1b" stroke-width="1.5"/>
<line x1="110.2" y1="740.7" x2="116.9" y2="740.7" stroke="#1c1a1b" stroke-width="1.4" stroke-linecap="butt"/>
<text transform="translate(90 747.85) scale(0.9052 1)" font-size="15.3" fill="#1c1a1b">15</text>
<line x1="110.2" y1="777" x2="116.9" y2="777" stroke="#1c1a1b" stroke-width="1.4" stroke-linecap="butt"/>
<text transform="translate(90 784.15) scale(0.9052 1)" font-size="15.3" fill="#1c1a1b">10</text>
<line x1="110.2" y1="813.3" x2="116.9" y2="813.3" stroke="#1c1a1b" stroke-width="1.4" stroke-linecap="butt"/>
<text transform="translate(97.7 820.45) scale(0.9052 1)" font-size="15.3" fill="#1c1a1b">5</text>
<line x1="110.2" y1="849.9" x2="116.9" y2="849.9" stroke="#1c1a1b" stroke-width="1.4" stroke-linecap="butt"/>
<text transform="translate(97.7 857.05) scale(0.9052 1)" font-size="15.3" fill="#1c1a1b">0</text>
<text transform="translate(0 0) rotate(-90) translate(-837.1 62.9) scale(0.9363 1)" font-size="19.6" fill="#1c1a1b">Normalized</text>
<text transform="translate(0 0) rotate(-90) translate(-813.9 79) scale(0.9343 1)" font-size="19.6" fill="#1c1a1b">reads</text>
<text transform="translate(444.7 765) scale(0.9954 1)" font-size="25.2" font-weight="bold" fill="#1c1a1b">ZNF217</text>
<rect x="117.5" y="848.8" width="1299.3" height="1.2" fill="#92c4de"/>
<path d="M128.83 850V838.82H139.01V850ZM138.86 850V827.64H152.04V850ZM151.89 850V816.46H162.32V850ZM162.17 850V827.64H172.1V850ZM171.95 850V816.46H177.86V850ZM177.71 850V805.28H192.91V850ZM180.47 850V794.1H181.62V850ZM184.73 850V794.1H185.89V850ZM188.99 850V794.1H190.15V850ZM192.76 850V816.46H194.16V850ZM194.01 850V805.28H195.41V850ZM195.26 850V816.46H202.93V850ZM202.78 850V827.64H209.7V850ZM209.55 850V838.82H217.22V850ZM217.07 850V827.64H224.24V850ZM224.09 850V816.46H232.51V850ZM232.36 850V827.64H239.78V850ZM239.63 850V805.28H249.06V850ZM248.91 850V816.46H254.32V850ZM254.17 850V805.28H259.84V850ZM259.69 850V794.1H268.61V850ZM268.46 850V805.28H271.37V850ZM271.22 850V816.46H274.38V850ZM274.23 850V805.28H276.89V850ZM276.74 850V816.46H278.14V850ZM277.99 850V805.28H280.65V850ZM280.5 850V827.64H291.93V850ZM291.78 850V838.82H295.19V850ZM295.04 850V827.64H303.71V850ZM303.56 850V749.38H306.22V850ZM306.07 850V760.56H309.48V850ZM309.33 850V749.38H317.25V850ZM317.1 850V738.2H318.25V850ZM317.6 850V727.02H319.25V850ZM319.1 850V738.2H321.26V850ZM321.11 850V771.74H322.26V850ZM322.11 850V782.92H324.02V850ZM323.87 850V771.74H325.27V850ZM325.12 850V760.56H327.27V850ZM327.12 850V738.2H328.53V850ZM328.38 850V727.02H330.78V850ZM330.63 850V738.2H332.79V850ZM332.64 850V749.38H334.8V850ZM334.65 850V760.56H337.05V850ZM336.9 850V771.74H340.81V850ZM340.66 850V794.1H343.82V850ZM343.67 850V816.46H350.09V850ZM349.94 850V838.82H352.09V850ZM351.94 850V827.64H362.12V850ZM361.97 850V816.46H366.63V850ZM366.48 850V794.1H370.39V850ZM370.24 850V782.92H372.9V850ZM372.75 850V771.74H375.16V850ZM375.01 850V760.56H376.91V850ZM376.76 850V771.74H378.42V850ZM378.27 850V760.56H381.67V850ZM381.52 850V782.92H384.18V850ZM384.03 850V805.28H386.69V850ZM386.54 850V794.1H392.2V850ZM392.05 850V816.46H394.71V850ZM394.56 850V838.82H399.22V850ZM402.08 850V838.82H441.09V850Z" fill="#92c4de"/>
<path d="M496.41 850V838.82H506.31V850ZM506.16 850V827.64H515.71V850ZM515.56 850V838.82H524.76V850ZM560.13 850V838.82H566.19V850ZM566.04 850V816.46H572.46V850ZM572.31 850V827.64H585V850ZM584.85 850V838.82H589.18V850ZM630.81 850V838.82H650.8V850ZM653.44 850V838.82H669.96V850ZM676.07 850V827.64H679.7V850ZM679.55 850V816.46H687.36V850ZM687.21 850V805.28H693.28V850ZM693.13 850V794.1H695.02V850ZM694.87 850V827.64H704.77V850ZM704.62 850V838.82H706.51V850ZM716.11 850V838.82H719.75V850ZM719.6 850V827.64H726.71V850ZM726.56 850V816.46H733.33V850ZM733.18 850V827.64H736.11V850ZM735.96 850V838.82H745.86V850ZM749.19 850V838.82H755.96V850ZM874.54 850V838.82H889.31V850ZM910.75 850V838.82H920.65V850ZM920.5 850V827.64H941.54V850Z" fill="#92c4de"/>
<path d="M936 850V827.64H942.42V850ZM942.27 850V816.46H955.3V850ZM955.15 850V827.64H960.52V850ZM960.37 850V838.82H974.45V850ZM1024.09 850V838.82H1038.87V850ZM1038.72 850V827.64H1044.79V850ZM1044.64 850V838.82H1046.87V850ZM1046.72 850V827.64H1062.19V850ZM1062.04 850V816.46H1066.37V850ZM1066.22 850V827.64H1075.43V850ZM1075.28 850V838.82H1089.7V850ZM1130.29 850V838.82H1145.41V850ZM1166.85 850V838.82H1176.4V850ZM1176.25 850V827.64H1183.36V850ZM1183.21 850V838.82H1191.02V850ZM1208.28 850V838.82H1225.84V850ZM1227.09 850V838.82H1233.85V850ZM1288.72 850V838.82H1306.28V850ZM1313.09 850V838.82H1330.65V850ZM1332.24 850V838.82H1340.05V850ZM1349.65 850V827.64H1366.51V850ZM1376.11 850V838.82H1398.89V850ZM1406.06 850V838.82H1412.47V850ZM1412.32 850V827.64H1417V850Z" fill="#92c4de"/>
<text transform="translate(46 879.3) scale(1.0012 1)" font-size="18.7" fill="#1c1a1b">SEACR</text>
<rect x="128.8" y="865.4" width="223.2" height="12.1" fill="#92c4de"/>
<text transform="translate(734.7 889.9) scale(0.9671 1)" font-size="25.2" font-weight="bold" fill="#1c1a1b">BTN3A1</text>
<line x1="841" y1="883.1" x2="910.6" y2="883.1" stroke="#1c1a1b" stroke-width="1.5" stroke-linecap="butt"/>
<path d="M916.6 883.1 L902 877.2 L906.2 883.1 L902 889 Z" fill="#1c1a1b"/>
<line x1="309" y1="912" x2="1220" y2="912" stroke="#000" stroke-width="1.4" stroke-linecap="butt"/>
<rect x="302.8" y="898.8" width="13.2" height="26.6" fill="#000"/>
<rect x="563.1" y="898.8" width="24.6" height="26.6" fill="#000"/>
<rect x="608.2" y="898.8" width="30.8" height="26.6" fill="#000"/>
<rect x="756.2" y="898.8" width="25.1" height="26.6" fill="#000"/>
<rect x="912.5" y="898.8" width="18.6" height="26.6" fill="#000"/>
<rect x="943.1" y="898.8" width="3.6" height="26.6" fill="#000"/>
<rect x="952" y="898.8" width="3.9" height="26.6" fill="#000"/>
<rect x="1045" y="898.8" width="3.9" height="26.6" fill="#000"/>
<rect x="1082.5" y="898.8" width="3.9" height="26.6" fill="#000"/>
<rect x="1218" y="898.8" width="173.1" height="26.6" fill="#000"/>
<line x1="116.5" y1="944.6" x2="1415.5" y2="944.6" stroke="#1c1a1b" stroke-width="1.8" stroke-linecap="butt"/>
<line x1="532.3" y1="944.6" x2="532.3" y2="955.1" stroke="#1c1a1b" stroke-width="1.5" stroke-linecap="butt"/>
<line x1="952.8" y1="944.6" x2="952.8" y2="955.1" stroke="#1c1a1b" stroke-width="1.5" stroke-linecap="butt"/>
<text transform="translate(497.5 978.7) scale(0.9972 1)" font-size="22.5" fill="#1c1a1b">26405</text>
<text transform="translate(919.9 978.7) scale(1.0020 1)" font-size="22.5" fill="#1c1a1b">26410</text>
<text transform="translate(138.5 978.7) scale(0.9809 1)" font-size="22.3" font-weight="bold" fill="#1c1a1b">chr6</text>
<text transform="translate(1356 977.8) scale(0.9689 1)" font-size="22.3" font-weight="bold" fill="#1c1a1b">Kb</text>
<!-- panel c -->
<text transform="translate(-0.9 1082) scale(1.0000 1)" font-size="25.7" font-weight="bold" fill="#1c1a1b">c</text>
<path d="M116.9 1083.5 V1194.3" fill="none" stroke="#1c1a1b" stroke-width="1.5"/>
<line x1="110.2" y1="1084.2" x2="116.9" y2="1084.2" stroke="#1c1a1b" stroke-width="1.4" stroke-linecap="butt"/>
<text transform="translate(88.2 1092.15) scale(1.0522 1)" font-size="14.7" fill="#1c1a1b">40</text>
<line x1="110.2" y1="1111.8" x2="116.9" y2="1111.8" stroke="#1c1a1b" stroke-width="1.4" stroke-linecap="butt"/>
<text transform="translate(88.2 1119.75) scale(1.0522 1)" font-size="14.7" fill="#1c1a1b">30</text>
<line x1="110.2" y1="1139.1" x2="116.9" y2="1139.1" stroke="#1c1a1b" stroke-width="1.4" stroke-linecap="butt"/>
<text transform="translate(88.2 1147.05) scale(1.0522 1)" font-size="14.7" fill="#1c1a1b">20</text>
<line x1="110.2" y1="1166.4" x2="116.9" y2="1166.4" stroke="#1c1a1b" stroke-width="1.4" stroke-linecap="butt"/>
<text transform="translate(88.2 1174.35) scale(1.0522 1)" font-size="14.7" fill="#1c1a1b">10</text>
<line x1="110.2" y1="1193.6" x2="116.9" y2="1193.6" stroke="#1c1a1b" stroke-width="1.4" stroke-linecap="butt"/>
<text transform="translate(96.8 1201.55) scale(1.0522 1)" font-size="14.7" fill="#1c1a1b">0</text>
<text transform="translate(0 0) rotate(-90) translate(-1181.5 62.9) scale(0.9332 1)" font-size="19.6" fill="#1c1a1b">Normalized</text>
<text transform="translate(0 0) rotate(-90) translate(-1157.7 79) scale(0.9282 1)" font-size="19.6" fill="#1c1a1b">reads</text>
<text transform="translate(446.2 1118.2) scale(0.9229 1)" font-size="25.2" font-weight="bold" fill="#1c1a1b">IRF1</text>
<path d="M117 1195.4L117.02 1194.59L118.35 1193.4L119.77 1194.09L121.11 1192.56L122.47 1194.28L123.92 1193.15L125.46 1193.53L126.87 1193.41L128.29 1193.74L129.65 1193.3L130.68 1192.62L131.76 1192.38L132.96 1189.86L134.1 1190.62L135.24 1188.83L136.45 1188.33L137.66 1188.97L138.77 1187.87L140.27 1186.63L141.36 1187.25L142.8 1185.65L144.06 1186.29L145.57 1185.95L147.11 1183.54L148.66 1182.96L150.02 1184.03L151.48 1182.09L153.11 1182.27L154.39 1182.01L156.15 1182.15L157.31 1181.63L158.79 1181.34L160.07 1179.94L161.47 1180.43L161.87 1178.88L162.54 1176.15L163.27 1175.44L163.93 1174.96L165.17 1174.27L166.49 1172.04L167.96 1171.85L169.44 1170.87L171.19 1170.37L172.69 1169.14L174.29 1169.89L176.13 1171.72L177.54 1170.02L178.89 1170.61L180.28 1170.28L180.99 1170.91L181.52 1173.15L182.02 1173.5L182.6 1176.62L184.63 1173.16L186.49 1173.27L187.77 1173.41L189.16 1172.04L190.25 1173.7L191.56 1173.66L193.13 1174.4L194.42 1173.76L195.85 1174.03L197.24 1174.61L198.83 1174.01L200.42 1174.58L200.65 1173.83L201.24 1172.53L201.61 1170.9L202.25 1169.15L202.86 1167.65L204.59 1165.79L206.59 1166.05L207.84 1167.06L209.12 1167.74L210.77 1166.86L212.46 1166.98L214.09 1167.04L214.45 1166.1L214.43 1164.81L214.69 1163.14L214.88 1162.32L215.13 1160.38L215.51 1159.5L215.57 1157.62L215.75 1156.16L216.29 1155.62L216.82 1154.03L217.37 1152.87L217.97 1151.98L218.5 1150.39L219.15 1148.91L220.09 1146.97L220.7 1146.77L221.6 1144.85L222.97 1145.17L224.73 1143.24L226.17 1143.28L227.89 1143L229.16 1143.84L230.42 1143.28L231.6 1145.05L231.94 1147.03L232.41 1148.33L233.03 1150.32L233.39 1151.24L233.42 1152.71L233.84 1154.19L234.11 1155.28L234.19 1157.07L234.43 1158.31L234.69 1159.61L234.73 1160.67L235 1162.58L235.27 1164.08L235.32 1165.36L235.68 1163.38L236.05 1162.33L236.38 1160.4L236.86 1159.09L237.12 1157.75L237.55 1157.55L238.59 1154.77L240.12 1155.08L241.46 1154.65L242.89 1154.22L243.05 1152.65L243.05 1151.39L243.12 1150.34L243.3 1148.75L243.43 1147.42L243.28 1146.21L243.35 1144.81L243.59 1143L243.58 1142.07L243.67 1140.62L243.72 1139.37L243.84 1137.71L243.88 1136.72L244.22 1135.31L244.17 1133.56L244.12 1132.29L244.21 1131.28L244.34 1129.32L244.6 1127.98L244.6 1126.84L244.76 1125.7L244.91 1124.32L244.92 1122.54L245.18 1121.44L245.21 1120.28L245.31 1118.61L245.53 1117.14L245.63 1115.98L245.69 1114.54L246.06 1113.35L246 1111.86L246.14 1110.67L246.5 1108.85L246.45 1107.89L246.82 1106.38L247.1 1104.95L247.18 1103.34L247.29 1101.71L247.5 1100.19L247.58 1099.26L247.76 1097.94L248.1 1096.46L248.64 1095.09L248.97 1093.52L249.11 1092.77L249.5 1091.36L249.69 1090.2L250.26 1089.07L250.89 1087.79L251.14 1086.06L251.79 1084.05L252.93 1084.91L254.29 1083.57L256.08 1084.69L257.99 1085.98L259.33 1087.14L259.88 1088.75L260.5 1089.85L260.44 1091.21L260.71 1092.86L260.81 1094.2L260.89 1095.05L261.18 1096.7L261.37 1097.81L261.4 1099.66L261.61 1100.57L261.72 1102.1L261.77 1103.2L261.95 1104.64L262.16 1105.62L262.21 1107.29L262.31 1108.9L262.48 1110.16L262.41 1111.05L262.67 1112.71L262.76 1114.06L262.91 1115.51L262.99 1116.31L263.15 1117.65L263.16 1119.08L263.42 1120.65L263.59 1121.98L263.41 1123.19L263.56 1124.16L263.63 1125.57L263.81 1126.8L264.08 1128.03L264.05 1129.6L264.05 1131.09L264.32 1132.14L264.55 1133.97L264.72 1135.06L264.77 1137.03L264.89 1138.11L264.9 1139.76L265.24 1140.99L265.1 1142.27L265.22 1143.8L265.41 1145.04L265.69 1146.55L265.93 1148.07L266.04 1149.24L265.93 1150.43L266.31 1151.83L266.5 1153.29L266.57 1154.76L266.59 1155.91L266.85 1157.16L267.01 1158.94L267.26 1160.13L267.43 1162.2L267.39 1163.37L267.69 1164.74L267.78 1166.24L268.09 1167.54L268.18 1169.31L268.47 1170.44L268.8 1171.81L269.25 1173.13L269.88 1174.7L270.38 1177.26L271.79 1175.85L273.1 1175.82L275.47 1175L276.71 1174.45L277.89 1176.38L279.11 1177.59L280.23 1177.75L281.3 1178.87L282.34 1180.39L283.48 1180.08L284.47 1180.87L285.53 1181.91L286.79 1182.79L287.73 1185.35L288.86 1185.26L290.44 1187L291.74 1186.03L293.06 1188.74L294.2 1189.73L295.46 1189L296.85 1189.67L298.2 1192.16L299.21 1191.81L300.47 1193.63L302.24 1192.45L303.83 1193.8L305.6 1194.1L305.6 1195.4Z" fill="#2472b4"/>
<rect x="117" y="1194.1" width="1299" height="1.3" fill="#2472b4"/>
<path d="M410.2 1195.4L410.8 1194L411.8 1192.71L414.38 1193.07L416.95 1192.94L419.53 1192.83L422.1 1192.76L424.68 1192.79L427.26 1192.78L429.83 1192.97L432.41 1193.02L434.99 1192.66L437.56 1192.97L440.14 1192.98L442.71 1192.81L445.29 1192.64L447.87 1192.88L450.44 1192.98L453.02 1193.03L455.6 1193.04L458.17 1192.84L460.75 1192.88L463.32 1192.79L465.9 1192.86L466.9 1194L467.5 1195.4Z" fill="#2472b4"/>
<path d="M484.4 1195.4L485 1193.9L486 1192.59L488.59 1192.6L491.19 1192.58L493.78 1192.44L496.38 1192.65L498.97 1192.94L501.56 1192.42L504.16 1192.84L506.75 1192.88L509.34 1192.74L511.94 1192.65L514.53 1192.94L517.12 1192.46L519.72 1192.42L522.31 1192.7L524.91 1192.68L527.5 1192.43L528.5 1193.9L529.1 1195.4Z" fill="#2472b4"/>
<path d="M502.4 1195.4L503 1193.4L504 1191.92L506.67 1191.84L509.33 1191.88L512 1191.63L514.67 1191.63L517.33 1191.42L520 1191.9L521 1193.4L521.6 1195.4Z" fill="#2472b4"/>
<path d="M546 1195.4L546.6 1192.65L547.6 1189.94L550.41 1190.76L553.23 1190.43L556.04 1190.73L558.86 1190.33L561.67 1190.36L564.49 1190.3L567.3 1190.08L568.3 1192.65L568.9 1195.4Z" fill="#2472b4"/>
<path d="M567.4 1195.4L568 1193.9L569 1192.74L571.63 1192.56L574.27 1192.86L576.9 1192.9L579.53 1192.77L582.17 1192.45L584.8 1192.88L587.43 1192.8L590.07 1192.71L592.7 1192.62L593.7 1193.9L594.3 1195.4Z" fill="#2472b4"/>
<path d="M596.7 1195.4L597.3 1193.6L598.3 1192.28L600.98 1191.87L603.67 1192.21L606.35 1191.83L609.03 1192.18L611.72 1192.15L614.4 1192.3L615.4 1193.6L616 1195.4Z" fill="#2472b4"/>
<path d="M640.1 1195.4L640.7 1194.1L641.7 1193.15L644.34 1192.88L646.98 1193.06L649.62 1192.91L652.25 1193.16L654.89 1192.92L657.53 1193.03L660.17 1193.04L662.81 1193.23L665.45 1193.23L668.08 1192.98L670.72 1193.23L673.36 1193L676 1192.92L677 1194.1L677.6 1195.4Z" fill="#2472b4"/>
<path d="M707.1 1195.4L707.7 1192.9L708.7 1190.59L711.68 1190.79L714.67 1191.13L717.65 1190.65L720.63 1190.41L723.62 1190.41L726.6 1191.02L727.6 1192.9L728.2 1195.4Z" fill="#2472b4"/>
<path d="M732.4 1195.4L733 1193.65L734 1192.43L737.5 1192L741 1192.11L742 1193.65L742.6 1195.4Z" fill="#2472b4"/>
<path d="M754.2 1195.4L754.8 1194.1L755.8 1193.18L758.77 1192.99L761.73 1192.85L764.7 1193.07L765.7 1194.1L766.3 1195.4Z" fill="#2472b4"/>
<path d="M792.2 1195.4L792.8 1193.7L793.8 1192.5L796.41 1192.23L799.02 1192.19L801.63 1192.54L804.24 1192.57L806.85 1192.24L809.46 1192.34L812.07 1192.32L814.68 1192.1L817.29 1192.6L819.9 1192.16L822.51 1192.06L825.12 1192.52L827.73 1192.59L830.34 1192.09L832.95 1192.38L835.56 1192.51L838.17 1192.32L840.78 1192.22L843.39 1192.14L846 1192.58L847 1193.7L847.6 1195.4Z" fill="#2472b4"/>
<path d="M873.7 1195.4L874.3 1193.7L875.3 1192.44L878.16 1192.41L881.02 1192.09L883.88 1192.26L886.74 1192.04L889.6 1192.19L890.6 1193.7L891.2 1195.4Z" fill="#2472b4"/>
<path d="M892.4 1195.4L893 1193.9L894 1192.52L896.63 1192.77L899.26 1192.47L901.89 1192.54L904.53 1192.81L907.16 1192.73L909.79 1192.84L912.42 1192.72L915.05 1192.48L917.68 1192.46L920.32 1192.64L922.95 1192.57L925.58 1192.68L928.21 1192.68L930.84 1192.84L933.47 1192.49L936.11 1192.84L938.74 1192.46L941.37 1192.8L944 1192.87L945 1193.9L945.6 1195.4Z" fill="#2472b4"/>
<path d="M955.4 1195.4L956 1194.1L957 1192.89L959.55 1192.82L962.09 1192.86L964.64 1193.19L967.18 1192.99L969.73 1193.03L972.27 1193.03L974.82 1193.19L977.36 1193.1L979.91 1193.07L982.45 1193.18L985 1193.12L986 1194.1L986.6 1195.4Z" fill="#2472b4"/>
<path d="M1064.4 1195.4L1065 1193.65L1066 1192.01L1068.6 1192.16L1071.2 1192.4L1073.8 1192.45L1076.4 1192.18L1079 1192.08L1081.6 1192.35L1084.2 1192.18L1086.8 1192.35L1089.4 1192.47L1092 1192.39L1094.6 1191.97L1097.2 1192.09L1099.8 1192.11L1102.4 1192.08L1105 1191.92L1107.6 1192L1110.2 1192.03L1112.8 1192.42L1115.4 1192.18L1118 1192.48L1120.6 1192.07L1121.6 1193.65L1122.2 1195.4Z" fill="#2472b4"/>
<path d="M1121 1195.4L1121.6 1192.9L1122.6 1191.27L1125.51 1190.62L1128.43 1191.17L1131.34 1190.58L1134.26 1191.04L1137.17 1190.59L1140.09 1190.89L1143 1190.99L1144 1192.9L1144.6 1195.4Z" fill="#2472b4"/>
<path d="M1143.4 1195.4L1144 1193.9L1145 1192.79L1147.72 1192.83L1150.44 1192.84L1153.17 1192.49L1155.89 1192.49L1158.61 1192.72L1161.33 1192.82L1164.06 1192.52L1166.78 1192.68L1169.5 1192.62L1170.5 1193.9L1171.1 1195.4Z" fill="#2472b4"/>
<path d="M1220.4 1195.4L1221 1193.9L1222 1192.89L1224.53 1192.51L1227.07 1192.44L1229.6 1192.75L1232.13 1192.53L1234.67 1192.73L1237.2 1192.42L1239.73 1192.82L1242.27 1192.65L1244.8 1192.64L1247.33 1192.49L1249.87 1192.81L1252.4 1192.6L1254.93 1192.84L1257.47 1192.59L1260 1192.52L1261 1193.9L1261.6 1195.4Z" fill="#2472b4"/>
<path d="M1267.4 1195.4L1268 1193.65L1269 1192.4L1271.56 1192.03L1274.12 1192.31L1276.68 1192.06L1279.24 1192.29L1281.79 1192.19L1284.35 1192.49L1286.91 1192.15L1289.47 1191.99L1292.03 1192.41L1294.59 1192.15L1297.15 1192.14L1299.71 1192.02L1302.26 1192.19L1304.82 1191.96L1307.38 1192.43L1309.94 1192.23L1312.5 1192.46L1313.5 1193.65L1314.1 1195.4Z" fill="#2472b4"/>
<path d="M1320.4 1195.4L1321 1193.9L1322 1192.72L1324.73 1192.79L1327.45 1192.93L1330.18 1192.9L1332.91 1192.85L1335.64 1192.44L1338.36 1192.88L1341.09 1192.8L1343.82 1192.5L1346.55 1192.73L1349.27 1192.76L1352 1192.42L1353 1193.9L1353.6 1195.4Z" fill="#2472b4"/>
<path d="M1358 1195.4L1358.6 1193.4L1359.6 1191.51L1362.23 1191.81L1364.85 1191.69L1367.48 1191.84L1370.11 1192.05L1372.73 1191.64L1375.36 1191.59L1377.99 1191.54L1380.61 1191.82L1383.24 1191.73L1385.87 1191.88L1388.49 1191.66L1391.12 1191.48L1393.75 1191.73L1396.37 1191.43L1399 1191.99L1400 1193.4L1400.6 1195.4Z" fill="#2472b4"/>
<path d="M1405 1195.4L1405.6 1193.65L1406.6 1191.95L1410.5 1192.34L1414.4 1191.94L1415.4 1193.65L1416 1195.4Z" fill="#2472b4"/>
<path d="M357.5 1195.4L360.7 1190.9L367 1189L373.3 1187.3L376 1186L378.3 1184.6L380 1185.4L382 1186.6L385.8 1190.4L389.5 1192.2L393.3 1193.6L396 1195.4Z" fill="#2472b4"/>
<text transform="translate(46 1221.7) scale(1.0012 1)" font-size="18.7" fill="#1c1a1b">SEACR</text>
<rect x="129.3" y="1209.7" width="176.8" height="10" fill="#2472b4"/>
<path d="M116.9 1252.6 V1363.2" fill="none" stroke="#1c1a1b" stroke-width="1.5"/>
<line x1="110.2" y1="1253.3" x2="116.9" y2="1253.3" stroke="#1c1a1b" stroke-width="1.4" stroke-linecap="butt"/>
<text transform="translate(89.4 1260.2) scale(0.9404 1)" font-size="15.3" fill="#1c1a1b">12</text>
<line x1="110.2" y1="1271.6" x2="116.9" y2="1271.6" stroke="#1c1a1b" stroke-width="1.4" stroke-linecap="butt"/>
<text transform="translate(89.4 1278.5) scale(0.9404 1)" font-size="15.3" fill="#1c1a1b">10</text>
<line x1="110.2" y1="1289.8" x2="116.9" y2="1289.8" stroke="#1c1a1b" stroke-width="1.4" stroke-linecap="butt"/>
<text transform="translate(97.4 1296.7) scale(0.9404 1)" font-size="15.3" fill="#1c1a1b">8</text>
<line x1="110.2" y1="1307.9" x2="116.9" y2="1307.9" stroke="#1c1a1b" stroke-width="1.4" stroke-linecap="butt"/>
<text transform="translate(97.4 1314.8) scale(0.9404 1)" font-size="15.3" fill="#1c1a1b">6</text>
<line x1="110.2" y1="1326" x2="116.9" y2="1326" stroke="#1c1a1b" stroke-width="1.4" stroke-linecap="butt"/>
<text transform="translate(97.4 1332.9) scale(0.9404 1)" font-size="15.3" fill="#1c1a1b">4</text>
<line x1="110.2" y1="1344.2" x2="116.9" y2="1344.2" stroke="#1c1a1b" stroke-width="1.4" stroke-linecap="butt"/>
<text transform="translate(97.4 1351.1) scale(0.9404 1)" font-size="15.3" fill="#1c1a1b">2</text>
<line x1="110.2" y1="1362.5" x2="116.9" y2="1362.5" stroke="#1c1a1b" stroke-width="1.4" stroke-linecap="butt"/>
<text transform="translate(97.4 1369.4) scale(0.9404 1)" font-size="15.3" fill="#1c1a1b">0</text>
<text transform="translate(0 0) rotate(-90) translate(-1350.3 62.9) scale(0.9393 1)" font-size="19.6" fill="#1c1a1b">Normalized</text>
<text transform="translate(0 0) rotate(-90) translate(-1326.2 79) scale(0.9282 1)" font-size="19.6" fill="#1c1a1b">reads</text>
<text transform="translate(444.7 1285.7) scale(0.9954 1)" font-size="25.2" font-weight="bold" fill="#1c1a1b">ZNF217</text>
<rect x="137.5" y="1361.2" width="1252.5" height="1.2" fill="#92c4de"/>
<path d="M137.6 1362.4V1334.5H139.26V1362.4ZM139.11 1362.4V1320.55H141.01V1362.4ZM140.86 1362.4V1306.6H142.77V1362.4ZM142.62 1362.4V1292.65H146.53V1362.4ZM146.38 1362.4V1278.7H149.54V1362.4ZM149.39 1362.4V1250.8H154.05V1362.4ZM153.9 1362.4V1278.7H158.31V1362.4ZM158.16 1362.4V1320.55H165.83V1362.4ZM165.68 1362.4V1334.5H173.35V1362.4ZM169.44 1362.4V1320.55H170.59V1362.4ZM173.2 1362.4V1320.55H175.36V1362.4ZM175.21 1362.4V1306.6H185.89V1362.4ZM185.74 1362.4V1320.55H188.64V1362.4ZM188.49 1362.4V1306.6H198.67V1362.4ZM198.52 1362.4V1320.55H208.45V1362.4ZM208.3 1362.4V1334.5H210.45V1362.4ZM210.3 1362.4V1320.55H212.96V1362.4ZM212.81 1362.4V1306.6H216.72V1362.4ZM216.57 1362.4V1320.55H221.23V1362.4ZM221.08 1362.4V1292.65H224.99V1362.4ZM224.84 1362.4V1278.7H231.26V1362.4ZM231.11 1362.4V1306.6H235.02V1362.4ZM234.87 1362.4V1334.5H239.78V1362.4ZM239.63 1362.4V1348.45H244.3V1362.4ZM244.15 1362.4V1334.5H245.3V1362.4ZM245.15 1362.4V1306.6H246.3V1362.4ZM246.15 1362.4V1278.7H256.08V1362.4ZM255.93 1362.4V1264.75H259.34V1362.4ZM259.19 1362.4V1250.8H261.84V1362.4ZM261.69 1362.4V1264.75H268.61V1362.4ZM268.46 1362.4V1250.8H278.64V1362.4ZM278.49 1362.4V1292.65H281.15V1362.4ZM281 1362.4V1306.6H283.65V1362.4ZM283.5 1362.4V1320.55H286.16V1362.4ZM286.01 1362.4V1278.7H290.67V1362.4ZM290.52 1362.4V1292.65H292.68V1362.4ZM292.53 1362.4V1320.55H294.94V1362.4ZM294.79 1362.4V1306.6H299.95V1362.4ZM299.8 1362.4V1320.55H305.21V1362.4ZM305.06 1362.4V1306.6H310.73V1362.4ZM310.58 1362.4V1320.55H312.48V1362.4ZM312.33 1362.4V1348.45H320.76V1362.4ZM338.15 1362.4V1348.45H346.58V1362.4ZM346.43 1362.4V1334.5H360.11V1362.4ZM359.96 1362.4V1348.45H368.39V1362.4ZM368.24 1362.4V1334.5H374.15V1362.4ZM374 1362.4V1306.6H380.17V1362.4ZM376.51 1362.4V1292.65H378.16V1362.4ZM380.02 1362.4V1320.55H385.94V1362.4ZM385.79 1362.4V1334.5H390.95V1362.4ZM390.8 1362.4V1348.45H403.99V1362.4ZM403.84 1362.4V1334.5H410.5V1362.4ZM410.35 1362.4V1320.55H416.02V1362.4ZM415.87 1362.4V1348.45H418.53V1362.4ZM418.38 1362.4V1334.5H422.29V1362.4ZM422.14 1362.4V1348.45H423.54V1362.4ZM423.39 1362.4V1334.5H431.81V1362.4ZM431.66 1362.4V1348.45H443.09V1362.4ZM443.95 1362.4V1348.45H461.14V1362.4Z" fill="#92c4de"/>
<path d="M440 1362.4V1348.45H458.95V1362.4ZM459.85 1362.4V1348.45H481.24V1362.4ZM481.09 1362.4V1334.5H492.38V1362.4ZM492.23 1362.4V1306.6H503.87V1362.4ZM503.72 1362.4V1320.55H506.31V1362.4ZM506.16 1362.4V1348.45H522.67V1362.4ZM522.52 1362.4V1334.5H529.98V1362.4ZM529.83 1362.4V1320.55H544.26V1362.4ZM544.81 1362.4V1320.55H551.22V1362.4ZM551.77 1362.4V1320.55H558.19V1362.4ZM558.73 1362.4V1320.55H562.02V1362.4ZM561.87 1362.4V1306.6H567.94V1362.4ZM567.79 1362.4V1292.65H575.94V1362.4ZM575.79 1362.4V1306.6H581.17V1362.4ZM581.02 1362.4V1320.55H588.83V1362.4ZM588.68 1362.4V1334.5H592.31V1362.4ZM592.16 1362.4V1348.45H594.4V1362.4ZM610.61 1362.4V1348.45H617.73V1362.4ZM617.58 1362.4V1334.5H630.96V1362.4ZM630.81 1362.4V1348.45H633.4V1362.4ZM633.25 1362.4V1334.5H664.73V1362.4ZM644.39 1362.4V1320.55H645.58V1362.4ZM651.35 1362.4V1320.55H652.55V1362.4ZM664.58 1362.4V1320.55H669.26V1362.4ZM669.11 1362.4V1334.5H678.66V1362.4ZM678.51 1362.4V1348.45H690.85V1362.4ZM690.7 1362.4V1320.55H697.81V1362.4ZM697.66 1362.4V1306.6H703.03V1362.4ZM702.88 1362.4V1292.65H710V1362.4ZM709.85 1362.4V1306.6H720.44V1362.4ZM720.29 1362.4V1320.55H739.59V1362.4ZM729 1362.4V1306.6H731.93V1362.4ZM739.44 1362.4V1334.5H746.56V1362.4ZM746.41 1362.4V1348.45H750.73V1362.4ZM755.11 1362.4V1348.45H767.45V1362.4ZM767.3 1362.4V1334.5H783.12V1362.4ZM775.31 1362.4V1320.55H776.5V1362.4ZM782.97 1362.4V1348.45H785.55V1362.4ZM795.15 1362.4V1348.45H812.71V1362.4ZM812.56 1362.4V1334.5H822.46V1362.4ZM822.31 1362.4V1320.55H830.82V1362.4ZM830.67 1362.4V1306.6H838.83V1362.4ZM838.68 1362.4V1320.55H842.31V1362.4ZM842.16 1362.4V1334.5H853.45V1362.4ZM854 1362.4V1334.5H863.2V1362.4ZM863.05 1362.4V1348.45H871.21V1362.4ZM871.06 1362.4V1334.5H883.05V1362.4ZM882.9 1362.4V1348.45H887.57V1362.4ZM904.14 1362.4V1334.5H907.77V1362.4ZM907.62 1362.4V1306.6H909.16V1362.4ZM909.01 1362.4V1320.55H923.09V1362.4ZM922.94 1362.4V1334.5H931.1V1362.4ZM930.95 1362.4V1348.45H941.54V1362.4Z" fill="#92c4de"/>
<path d="M936 1362.4V1348.45H947.64V1362.4ZM947.49 1362.4V1334.5H951.12V1362.4ZM950.97 1362.4V1348.45H952.86V1362.4ZM963.16 1362.4V1348.45H973.75V1362.4ZM1015.39 1362.4V1348.45H1019.02V1362.4ZM1018.87 1362.4V1334.5H1022.15V1362.4ZM1022 1362.4V1320.55H1037.12V1362.4ZM1031.06 1362.4V1306.6H1032.95V1362.4ZM1036.97 1362.4V1334.5H1039.91V1362.4ZM1039.76 1362.4V1320.55H1051.75V1362.4ZM1051.6 1362.4V1334.5H1059.06V1362.4ZM1058.91 1362.4V1348.45H1060.8V1362.4ZM1060.65 1362.4V1334.5H1064.28V1362.4ZM1064.13 1362.4V1348.45H1070.55V1362.4ZM1082.94 1362.4V1348.45H1091.79V1362.4ZM1091.64 1362.4V1334.5H1099.8V1362.4ZM1099.65 1362.4V1320.55H1104.33V1362.4ZM1104.18 1362.4V1334.5H1106.76V1362.4ZM1106.61 1362.4V1348.45H1115.47V1362.4ZM1115.32 1362.4V1334.5H1125.22V1362.4ZM1125.07 1362.4V1348.45H1131.14V1362.4ZM1143.87 1362.4V1334.5H1149.24V1362.4ZM1149.09 1362.4V1320.55H1163.17V1362.4ZM1163.02 1362.4V1334.5H1164.21V1362.4ZM1217.34 1362.4V1348.45H1238.03V1362.4ZM1297.07 1362.4V1348.45H1329.6V1362.4ZM1356.61 1362.4V1334.5H1374.17V1362.4ZM1374.02 1362.4V1320.55H1375.91V1362.4ZM1375.76 1362.4V1306.6H1380.79V1362.4ZM1380.64 1362.4V1334.5H1388.8V1362.4ZM1388.65 1362.4V1348.45H1390.19V1362.4Z" fill="#92c4de"/>
<text transform="translate(46 1390.2) scale(1.0012 1)" font-size="18.7" fill="#1c1a1b">SEACR</text>
<rect x="137.1" y="1378.4" width="183.5" height="10" fill="#92c4de"/>
<text transform="translate(734.7 1403) scale(0.9803 1)" font-size="25.2" font-weight="bold" fill="#1c1a1b">BTN3A2</text>
<line x1="841" y1="1396.2" x2="910.6" y2="1396.2" stroke="#1c1a1b" stroke-width="1.5" stroke-linecap="butt"/>
<path d="M916.6 1396.2 L902 1390.3 L906.2 1396.2 L902 1402.1 Z" fill="#1c1a1b"/>
<line x1="250" y1="1420.2" x2="1180" y2="1420.2" stroke="#000" stroke-width="1.4" stroke-linecap="butt"/>
<rect x="243" y="1408.3" width="15.2" height="23.6" fill="#000"/>
<rect x="488.3" y="1408.3" width="7.6" height="23.6" fill="#000"/>
<rect x="504.9" y="1408.3" width="9.4" height="23.6" fill="#000"/>
<rect x="539" y="1408.3" width="32.2" height="23.6" fill="#000"/>
<rect x="693.3" y="1408.3" width="27" height="23.6" fill="#000"/>
<rect x="919.9" y="1408.3" width="19.3" height="23.6" fill="#000"/>
<rect x="952.8" y="1408.3" width="3.5" height="23.6" fill="#000"/>
<rect x="962.5" y="1408.3" width="4.2" height="23.6" fill="#000"/>
<rect x="1045.7" y="1408.3" width="5.4" height="23.6" fill="#000"/>
<rect x="1084.4" y="1408.3" width="4.3" height="23.6" fill="#000"/>
<rect x="1175" y="1408.3" width="222.7" height="23.6" fill="#000"/>
<line x1="116.5" y1="1449.6" x2="1415.5" y2="1449.6" stroke="#1c1a1b" stroke-width="1.8" stroke-linecap="butt"/>
<line x1="666" y1="1449.6" x2="666" y2="1461.1" stroke="#1c1a1b" stroke-width="1.5" stroke-linecap="butt"/>
<line x1="1105.7" y1="1449.6" x2="1105.7" y2="1461.1" stroke="#1c1a1b" stroke-width="1.5" stroke-linecap="butt"/>
<text transform="translate(634 1484.6) scale(0.9877 1)" font-size="22.5" fill="#1c1a1b">26370</text>
<text transform="translate(1072.9 1484.6) scale(0.9988 1)" font-size="22.5" fill="#1c1a1b">26375</text>
<text transform="translate(138.5 1484.6) scale(0.9809 1)" font-size="22.3" font-weight="bold" fill="#1c1a1b">chr6</text>
<text transform="translate(1356 1484) scale(0.9689 1)" font-size="22.3" font-weight="bold" fill="#1c1a1b">Kb</text>
<!-- panel d -->
<text transform="translate(-0.9 1596.5) scale(1.0000 1)" font-size="25.7" font-weight="bold" fill="#1c1a1b">d</text>
<path d="M116.9 1608.6 V1720.3" fill="none" stroke="#1c1a1b" stroke-width="1.5"/>
<line x1="110.2" y1="1609.3" x2="116.9" y2="1609.3" stroke="#1c1a1b" stroke-width="1.4" stroke-linecap="butt"/>
<text transform="translate(88.8 1615.6) scale(0.9952 1)" font-size="15" fill="#1c1a1b">30</text>
<line x1="110.2" y1="1628" x2="116.9" y2="1628" stroke="#1c1a1b" stroke-width="1.4" stroke-linecap="butt"/>
<text transform="translate(88.8 1634.3) scale(0.9952 1)" font-size="15" fill="#1c1a1b">25</text>
<line x1="110.2" y1="1646.4" x2="116.9" y2="1646.4" stroke="#1c1a1b" stroke-width="1.4" stroke-linecap="butt"/>
<text transform="translate(88.8 1652.7) scale(0.9952 1)" font-size="15" fill="#1c1a1b">20</text>
<line x1="110.2" y1="1664.7" x2="116.9" y2="1664.7" stroke="#1c1a1b" stroke-width="1.4" stroke-linecap="butt"/>
<text transform="translate(88.8 1671) scale(0.9952 1)" font-size="15" fill="#1c1a1b">15</text>
<line x1="110.2" y1="1683.1" x2="116.9" y2="1683.1" stroke="#1c1a1b" stroke-width="1.4" stroke-linecap="butt"/>
<text transform="translate(88.8 1689.4) scale(0.9952 1)" font-size="15" fill="#1c1a1b">10</text>
<line x1="110.2" y1="1701.4" x2="116.9" y2="1701.4" stroke="#1c1a1b" stroke-width="1.4" stroke-linecap="butt"/>
<text transform="translate(97.1 1707.7) scale(0.9952 1)" font-size="15" fill="#1c1a1b">5</text>
<line x1="110.2" y1="1719.6" x2="116.9" y2="1719.6" stroke="#1c1a1b" stroke-width="1.4" stroke-linecap="butt"/>
<text transform="translate(97.1 1725.9) scale(0.9952 1)" font-size="15" fill="#1c1a1b">0</text>
<text transform="translate(0 0) rotate(-90) translate(-1706.8 62.9) scale(0.9423 1)" font-size="19.6" fill="#1c1a1b">Normalized</text>
<text transform="translate(0 0) rotate(-90) translate(-1682.7 79) scale(0.9282 1)" font-size="19.6" fill="#1c1a1b">reads</text>
<text transform="translate(446.2 1637.7) scale(0.9229 1)" font-size="25.2" font-weight="bold" fill="#1c1a1b">IRF1</text>
<path d="M117 1720L117 1718.76L117.23 1717.23L117.46 1715.82L117.97 1714.38L119.31 1713.87L120.6 1712.36L122.08 1711.54L123.84 1711.34L125.23 1710.04L126.53 1709.71L128.07 1710.75L129.63 1710.85L131.12 1710.3L132.71 1709.91L133.98 1708.83L135.41 1709.4L137.14 1710.27L138.51 1710.54L139.84 1709.94L141.15 1708.84L142.48 1710.08L144 1709.14L145.45 1710.29L146.96 1709.98L148.36 1710.33L150.04 1710.74L151.39 1709.87L152.63 1711.16L153.86 1711.57L155.19 1711.02L156.53 1713.11L157.2 1710.89L158.09 1709.14L160.24 1708.61L162.11 1708.81L163.96 1709.1L165.82 1708.25L167.66 1709.21L169.1 1707.27L170.19 1706.4L171.45 1706.72L172.87 1705.59L173.97 1705.05L175.06 1704.12L176.57 1703.89L178.07 1704.56L179.43 1705.07L180.92 1705.06L182.25 1704.99L183.62 1705.45L185.14 1705.81L186.35 1705.27L187.82 1706.15L188.05 1704.25L188.31 1703.13L188.59 1701.28L189.14 1699.98L189.55 1698.45L190.9 1696.31L192.1 1697.21L193.55 1697.3L194.94 1696.79L196.39 1694.93L197.8 1695.76L198.81 1694.38L199.63 1691.62L200.4 1691.22L201.44 1689.48L202.42 1689.59L203.17 1688.43L204.88 1688.65L206.64 1691.39L207.22 1689.95L207.8 1688.11L209.05 1687.38L210.79 1687.44L212.6 1686.46L214.28 1687.88L215.7 1686.99L216.31 1685.67L216.92 1684.63L217.64 1682.86L218.07 1681.75L218.57 1680.26L219.08 1679.04L220.64 1678.77L222.05 1676.23L223.6 1676.24L225.41 1675.01L225.82 1673.76L226.44 1672.86L227.1 1672.32L227.7 1669.29L228.46 1667.91L229.13 1667.59L229.77 1665.28L230.28 1664.15L231.63 1663.95L232.9 1662.75L234.68 1663.21L236.52 1664.11L236.94 1666L237.15 1667.08L237.61 1668.65L237.74 1670.7L237.92 1671.86L238.28 1673.91L238.47 1675.44L238.59 1676.26L238.55 1678.12L238.69 1678.87L238.78 1680.35L238.86 1681.59L238.93 1683.03L239.26 1684.62L239.16 1685.99L239.29 1687.17L239.52 1688.54L239.6 1690.03L239.8 1691.05L240 1692.22L240.03 1693.85L240.18 1694.89L240.22 1696.63L240.34 1698.22L241.4 1696.1L242.21 1695.39L243.02 1693.8L243.88 1692.42L244.54 1690.76L245.49 1690.5L245.72 1688.94L246.22 1687.77L246.78 1685.81L247 1684.25L247.38 1683.29L247.48 1681.91L247.83 1680.56L247.88 1678.81L248.06 1677.84L248.15 1676.01L248.29 1675.2L248.35 1673.9L248.37 1672.49L248.4 1670.65L248.53 1669.34L248.37 1668.46L248.62 1666.64L248.74 1665.52L248.82 1664.12L248.92 1662.75L248.83 1661.31L248.9 1660.58L249.07 1659.33L249.18 1657.65L249.08 1656.4L249.16 1654.94L249.35 1654L249.34 1652.56L249.39 1650.9L249.4 1649.99L249.42 1648.35L249.61 1646.82L249.59 1645.68L249.75 1644.63L249.72 1643.01L249.82 1641.95L249.9 1640.84L250.04 1639.16L250.05 1638.15L250.03 1636.42L250.25 1635.26L250.08 1633.8L250.32 1632.77L250.33 1631.23L250.38 1630.3L250.5 1628.59L250.76 1627.26L251.15 1626.11L251.4 1624.67L251.7 1622.7L251.92 1621.19L252.11 1620.12L252.4 1619.15L252.89 1617.69L253.08 1616.54L253.46 1615.29L253.75 1613.9L254.32 1612.45L254.61 1611.21L255.07 1609.54L255.43 1607.83L256.08 1606.56L256.77 1604.56L258.51 1604.33L260.39 1602.86L262.27 1600.3L264.3 1599.94L264.55 1601.68L264.66 1603.15L265.08 1604.7L265.21 1606.45L265.5 1608.03L265.55 1609.41L265.74 1610.93L265.89 1612.43L266.14 1614.16L266.13 1615.6L266.49 1616.73L266.6 1618.37L266.52 1619.72L266.76 1620.76L266.85 1622.44L266.95 1623.75L267.06 1624.65L267.45 1626.24L267.39 1627.58L267.51 1629.27L267.7 1630.64L268.07 1632.4L268.05 1633.39L268.34 1634.89L268.5 1636L268.58 1637.97L268.51 1639.09L268.69 1640.58L268.93 1641.71L269.11 1642.96L269.13 1644.24L269.26 1645.32L269.52 1646.53L269.68 1647.99L269.66 1649.56L270.07 1650.4L270.14 1652.12L270.27 1653.55L270.43 1654.61L270.45 1655.7L270.89 1657.04L270.99 1658.3L271.01 1659.8L271.2 1661.18L271.24 1662.8L271.6 1664.14L271.69 1665.44L271.88 1666.86L271.98 1667.76L272.05 1669.43L272.33 1670.35L272.64 1671.77L272.6 1673.15L272.95 1674.88L272.9 1676.26L273.06 1677.12L273.44 1678.67L273.55 1680.27L273.75 1681.28L273.93 1682.55L273.96 1683.93L274.27 1685.93L276.26 1684L278.52 1683.59L279.92 1684.89L281.21 1685.18L282.8 1685.59L284.34 1686.3L285.42 1686.98L286.83 1689.08L287.99 1689.16L289.41 1691.06L290.61 1689.99L291.91 1692.41L292.92 1691.44L293.79 1693.48L295.1 1693.79L295.3 1695.25L295.41 1696.88L295.44 1698.19L295.85 1699.64L295.85 1700.77L295.99 1702.09L296.38 1704.11L296.47 1705.35L296.71 1706.71L296.79 1707.88L297.38 1709.44L297.95 1710.88L298.44 1711.08L298.92 1712.91L299.83 1715.1L300.9 1714.8L302.15 1712.96L303.05 1710.69L304.16 1711.04L305.88 1709.68L307.54 1709.9L308.98 1710.76L310.36 1709.52L311.65 1709.36L312.88 1711.39L314.3 1711.5L316.02 1711.13L317.57 1712.16L318.97 1712.02L320.73 1712.77L321.55 1713.17L322.62 1714.31L323.88 1715.93L324.74 1715.53L325.75 1716.92L326.89 1717.41L328.33 1718.31L329.62 1718.6L330.89 1717.68L332.67 1718.94L333.98 1718.76L335.71 1718.22L336.91 1718.13L338.21 1717.74L339.74 1719.22L340.86 1717.13L342.41 1716.99L344.09 1717.74L345.33 1717.61L346.86 1717.26L348.23 1716.78L349.64 1716.13L351.35 1716.6L352.64 1715.93L354.02 1716.64L355.57 1717.17L357.06 1716.33L358.55 1715.64L359.7 1715.41L361.11 1716.25L362.65 1717.35L363.92 1716.31L365.36 1716.66L366.88 1716.07L368.33 1715.74L369.73 1715.13L371.18 1714.88L372.62 1714L374.12 1713.37L375.29 1713.79L376.73 1713.01L377.98 1713.17L379.54 1712.63L380.82 1711.82L382.12 1711.57L383.41 1711.64L384.78 1712.15L385.92 1712.2L387.42 1712.33L389.05 1711.79L390.41 1712.34L391.89 1711.65L393.62 1712.32L395.12 1715.27L396.09 1715.22L397.22 1716.45L398.27 1717.07L399.8 1715.89L401.02 1716.87L402.5 1717.14L403.96 1717.1L405.53 1718.27L407.21 1717.91L408.69 1718.1L409.97 1718.08L411.44 1716.87L413.09 1716.66L414.33 1716.03L415.85 1717.34L417.23 1715.63L418.53 1715.51L419.92 1716.55L421.3 1716.55L422.71 1715.85L424.1 1717.5L425.37 1717.07L426.64 1715.49L428.09 1716.28L429.25 1716.85L430.68 1717.2L432.02 1716.52L433.46 1715.64L434.76 1718.28L435.94 1718.56L437.34 1718.23L438.74 1719.32L440.14 1719.46L441.54 1718.94L443.01 1718.06L444.67 1717.29L445.96 1718.46L447.45 1717.8L448.84 1716.8L450.28 1717.81L451.72 1717.24L453.03 1716.66L454.36 1717.39L455.79 1717.42L457.15 1716.81L458.52 1716.55L460 1717.4L460 1720Z" fill="#2472b4"/>
<rect x="117" y="1717.9" width="1299.5" height="2.1" fill="#2472b4"/>
<path d="M439.4 1720L440 1718.25L441 1717.06L443.59 1717.05L446.19 1716.9L448.78 1716.63L451.38 1716.91L453.97 1716.9L456.56 1717.06L459.16 1716.92L461.75 1716.51L464.34 1716.91L466.94 1716.5L469.53 1716.83L472.12 1716.56L474.72 1716.93L477.31 1716.7L479.91 1716.78L482.5 1716.85L483.5 1718.25L484.1 1720Z" fill="#2472b4"/>
<path d="M510.4 1720L511 1718L512 1716.04L514.58 1716.28L517.17 1716.65L519.75 1716.54L522.33 1716.04L524.92 1716.31L527.5 1716.11L530.08 1716.26L532.67 1716.39L535.25 1716.49L537.83 1716.48L540.42 1716.04L543 1716.47L544 1718L544.6 1720Z" fill="#2472b4"/>
<path d="M543.4 1720L544 1717.25L545 1714.72L547.64 1714.62L550.29 1714.79L552.93 1715.46L555.57 1715.37L558.21 1714.51L560.86 1715.08L563.5 1715.17L566.14 1715.07L568.79 1714.58L571.43 1714.76L574.07 1715.21L576.71 1714.91L579.36 1714.78L582 1715.4L583 1717.25L583.6 1720Z" fill="#2472b4"/>
<path d="M571.4 1720L572 1716.75L573 1713.98L576 1714.32L579 1714.09L580 1716.75L580.6 1720Z" fill="#2472b4"/>
<path d="M582.4 1720L583 1718.25L584 1716.98L586.64 1717.04L589.27 1716.96L591.91 1716.74L594.55 1716.99L597.18 1716.92L599.82 1717.11L602.45 1717.05L605.09 1716.78L607.73 1716.5L610.36 1716.94L613 1716.61L614 1718.25L614.6 1720Z" fill="#2472b4"/>
<path d="M613.4 1720L614 1717.5L615 1715.71L617.67 1715.75L620.33 1715.59L623 1715.46L625.67 1715.72L628.33 1715.75L631 1715.68L633.67 1715.5L636.33 1715.69L639 1715.31L641.67 1715.08L644.33 1715.48L647 1715.49L649.67 1715.11L652.33 1715.07L655 1715.36L656 1717.5L656.6 1720Z" fill="#2472b4"/>
<path d="M655.4 1720L656 1717L657 1714.6L659.75 1715.04L662.5 1714.27L665.25 1714.69L668 1714.23L670.75 1714.1L673.5 1714.37L676.25 1714.82L679 1714.57L680 1717L680.6 1720Z" fill="#2472b4"/>
<path d="M693.4 1720L694 1717.75L695 1715.63L697.81 1715.77L700.62 1715.99L703.44 1715.91L706.25 1715.87L709.06 1715.62L711.88 1715.92L714.69 1715.69L717.5 1716.23L718.5 1717.75L719.1 1720Z" fill="#2472b4"/>
<path d="M717.9 1720L718.5 1717.25L719.5 1715.26L722.08 1714.77L724.67 1714.7L727.25 1714.69L729.83 1715L732.42 1714.89L735 1715.18L736 1717.25L736.6 1720Z" fill="#2472b4"/>
<path d="M735.4 1720L736 1718.25L737 1716.9L739.71 1716.97L742.43 1716.51L745.14 1716.57L747.86 1716.55L750.57 1717.02L753.29 1716.71L756 1717.1L757 1718.25L757.6 1720Z" fill="#2472b4"/>
<path d="M756.4 1720L757 1718L758 1716.47L760.64 1716.19L763.27 1716.25L765.91 1716.38L768.55 1716.38L771.18 1716.24L773.82 1716.45L776.45 1716.3L779.09 1716.52L781.73 1716.67L784.36 1716.35L787 1716.28L788 1718L788.6 1720Z" fill="#2472b4"/>
<path d="M808.4 1720L809 1718.25L810 1716.59L812.81 1717.13L815.62 1717.09L818.44 1716.6L821.25 1716.92L824.06 1716.95L826.88 1717.02L829.69 1717.05L832.5 1716.55L833.5 1718.25L834.1 1720Z" fill="#2472b4"/>
<path d="M843.4 1720L844 1717.75L845 1715.7L847.71 1716.29L850.43 1715.68L853.14 1715.93L855.86 1716.01L858.57 1715.76L861.29 1716.09L864 1716.11L865 1717.75L865.6 1720Z" fill="#2472b4"/>
<path d="M879.9 1720L880.5 1718.25L881.5 1716.96L884.15 1716.55L886.79 1716.68L889.44 1717.01L892.09 1716.54L894.74 1716.96L897.38 1716.7L900.03 1716.61L902.68 1716.96L905.32 1716.56L907.97 1716.71L910.62 1716.68L913.26 1716.92L915.91 1716.6L918.56 1716.62L921.21 1716.55L923.85 1717.11L926.5 1717.11L927.5 1718.25L928.1 1720Z" fill="#2472b4"/>
<path d="M963.4 1720L964 1718.5L965 1717.52L967.83 1717.45L970.67 1717.43L973.5 1717.42L976.33 1717.19L979.17 1717.37L982 1717.43L983 1718.5L983.6 1720Z" fill="#2472b4"/>
<path d="M1005 1720L1005.6 1718L1006.6 1716.05L1009.34 1716.54L1012.08 1716.61L1014.82 1716.08L1017.56 1716.57L1020.3 1716.02L1021.3 1718L1021.9 1720Z" fill="#2472b4"/>
<path d="M1053.8 1720L1054.4 1717.25L1055.4 1714.98L1057.98 1715.1L1060.55 1715.45L1063.12 1715.41L1065.7 1715.16L1068.28 1714.98L1070.85 1714.96L1073.42 1715.45L1076 1714.89L1077 1717.25L1077.6 1720Z" fill="#2472b4"/>
<path d="M1092.1 1720L1092.7 1717.5L1093.7 1715.19L1096.49 1715.32L1099.28 1715.25L1102.06 1715.51L1104.85 1715.15L1107.64 1715.53L1110.42 1715.4L1113.21 1715.35L1116 1715.78L1117 1717.5L1117.6 1720Z" fill="#2472b4"/>
<path d="M1116.4 1720L1117 1718.5L1118 1717.34L1121 1717.26L1124 1717.07L1127 1717.12L1130 1717.36L1131 1718.5L1131.6 1720Z" fill="#2472b4"/>
<path d="M1130.4 1720L1131 1718.25L1132 1716.65L1134.71 1716.71L1137.43 1716.8L1140.14 1716.86L1142.86 1717.12L1145.57 1716.88L1148.29 1717.01L1151 1716.56L1152 1718.25L1152.6 1720Z" fill="#2472b4"/>
<path d="M1160 1720L1160.6 1718.25L1161.6 1716.97L1164.19 1716.81L1166.78 1716.65L1169.38 1717.12L1171.97 1716.53L1174.56 1717.12L1177.15 1717.01L1179.74 1716.73L1182.33 1716.53L1184.92 1716.84L1187.52 1716.87L1190.11 1716.54L1192.7 1716.95L1193.7 1718.25L1194.3 1720Z" fill="#2472b4"/>
<path d="M1198.4 1720L1199 1717.75L1200 1715.64L1202.58 1716.26L1205.17 1716.09L1207.75 1715.75L1210.33 1715.76L1212.92 1715.85L1215.5 1716.02L1218.08 1715.98L1220.67 1715.74L1223.25 1716.06L1225.83 1716.14L1228.42 1716.3L1231 1716.17L1232 1717.75L1232.6 1720Z" fill="#2472b4"/>
<path d="M1210.4 1720L1211 1717L1212 1714.71L1217 1714.38L1218 1717L1218.6 1720Z" fill="#2472b4"/>
<path d="M1255.7 1720L1256.3 1717.75L1257.3 1715.73L1259.95 1715.61L1262.59 1716.03L1265.24 1715.58L1267.89 1715.94L1270.53 1715.9L1273.18 1715.57L1275.83 1715.6L1278.47 1715.75L1281.12 1716.1L1283.77 1715.9L1286.41 1715.77L1289.06 1715.71L1291.71 1715.84L1294.35 1715.89L1297 1715.97L1298 1717.75L1298.6 1720Z" fill="#2472b4"/>
<path d="M1297.4 1720L1298 1718.5L1299 1717.39L1302.4 1717.46L1305.8 1717.01L1306.8 1718.5L1307.4 1720Z" fill="#2472b4"/>
<path d="M1306.2 1720L1306.8 1718L1307.8 1716.17L1310.58 1716.57L1313.35 1716.27L1316.12 1716.67L1318.9 1716.19L1321.67 1716.32L1324.45 1716.09L1327.22 1716.07L1330 1716.32L1331 1718L1331.6 1720Z" fill="#2472b4"/>
<path d="M1351.4 1720L1352 1718.5L1353 1717.26L1355.87 1717.2L1358.73 1717.18L1361.6 1717.33L1362.6 1718.5L1363.2 1720Z" fill="#2472b4"/>
<path d="M1393.3 1720L1393.9 1718.25L1394.9 1716.96L1397.74 1716.99L1400.59 1716.98L1403.43 1716.69L1406.27 1716.88L1409.11 1716.61L1411.96 1717.07L1414.8 1717.04L1415.8 1718.25L1416.4 1720Z" fill="#2472b4"/>
<text transform="translate(46 1747.6) scale(1.0012 1)" font-size="18.7" fill="#1c1a1b">SEACR</text>
<rect x="115.9" y="1734.2" width="213.5" height="11.9" fill="#2472b4"/>
<path d="M116.9 1777 V1888.2" fill="none" stroke="#1c1a1b" stroke-width="1.5"/>
<line x1="110.2" y1="1777.7" x2="116.9" y2="1777.7" stroke="#1c1a1b" stroke-width="1.4" stroke-linecap="butt"/>
<text transform="translate(88.5 1784.6) scale(0.9933 1)" font-size="15.3" fill="#1c1a1b">20</text>
<line x1="110.2" y1="1805.3" x2="116.9" y2="1805.3" stroke="#1c1a1b" stroke-width="1.4" stroke-linecap="butt"/>
<text transform="translate(88.5 1812.2) scale(0.9933 1)" font-size="15.3" fill="#1c1a1b">15</text>
<line x1="110.2" y1="1832.5" x2="116.9" y2="1832.5" stroke="#1c1a1b" stroke-width="1.4" stroke-linecap="butt"/>
<text transform="translate(88.5 1839.4) scale(0.9933 1)" font-size="15.3" fill="#1c1a1b">10</text>
<line x1="110.2" y1="1859.9" x2="116.9" y2="1859.9" stroke="#1c1a1b" stroke-width="1.4" stroke-linecap="butt"/>
<text transform="translate(96.95 1866.8) scale(0.9933 1)" font-size="15.3" fill="#1c1a1b">5</text>
<line x1="110.2" y1="1887.5" x2="116.9" y2="1887.5" stroke="#1c1a1b" stroke-width="1.4" stroke-linecap="butt"/>
<text transform="translate(96.95 1894.4) scale(0.9933 1)" font-size="15.3" fill="#1c1a1b">0</text>
<text transform="translate(0 0) rotate(-90) translate(-1875 62.9) scale(0.9363 1)" font-size="19.6" fill="#1c1a1b">Normalized</text>
<text transform="translate(0 0) rotate(-90) translate(-1851.2 79) scale(0.9282 1)" font-size="19.6" fill="#1c1a1b">reads</text>
<text transform="translate(444.7 1805.7) scale(0.9954 1)" font-size="25.2" font-weight="bold" fill="#1c1a1b">ZNF217</text>
<rect x="131.3" y="1886.2" width="1247.7" height="1.2" fill="#92c4de"/>
<path d="M131.34 1887.4V1879.03H138.51V1887.4ZM138.36 1887.4V1870.66H141.51V1887.4ZM141.36 1887.4V1862.29H152.29V1887.4ZM152.14 1887.4V1853.92H157.06V1887.4ZM156.91 1887.4V1870.66H159.56V1887.4ZM159.41 1887.4V1862.29H165.83V1887.4ZM165.68 1887.4V1828.81H171.6V1887.4ZM171.45 1887.4V1820.44H174.6V1887.4ZM174.45 1887.4V1828.81H177.36V1887.4ZM177.21 1887.4V1837.18H180.37V1887.4ZM180.22 1887.4V1828.81H185.38V1887.4ZM185.23 1887.4V1837.18H189.14V1887.4ZM188.99 1887.4V1803.7H195.91V1887.4ZM195.76 1887.4V1812.07H198.67V1887.4ZM198.52 1887.4V1803.7H199.92V1887.4ZM199.77 1887.4V1786.96H205.44V1887.4ZM205.29 1887.4V1795.33H208.45V1887.4ZM208.3 1887.4V1786.96H210.45V1887.4ZM210.3 1887.4V1778.59H212.96V1887.4ZM212.81 1887.4V1770.22H217.22V1887.4ZM217.07 1887.4V1795.33H218.48V1887.4ZM218.33 1887.4V1837.18H220.48V1887.4ZM220.33 1887.4V1845.55H222.24V1887.4ZM222.09 1887.4V1853.92H230.51V1887.4ZM230.36 1887.4V1845.55H235.52V1887.4ZM235.37 1887.4V1828.81H236.78V1887.4ZM236.63 1887.4V1837.18H238.03V1887.4ZM237.88 1887.4V1828.81H239.78V1887.4ZM239.63 1887.4V1837.18H241.79V1887.4ZM241.64 1887.4V1853.92H243.54V1887.4ZM243.39 1887.4V1845.55H246.8V1887.4ZM246.65 1887.4V1837.18H248.56V1887.4ZM248.41 1887.4V1820.44H250.56V1887.4ZM250.41 1887.4V1812.07H254.32V1887.4ZM254.17 1887.4V1820.44H264.35V1887.4ZM264.2 1887.4V1828.81H266.11V1887.4ZM265.96 1887.4V1837.18H268.61V1887.4ZM268.46 1887.4V1845.55H271.37V1887.4ZM271.22 1887.4V1853.92H276.38V1887.4ZM276.23 1887.4V1845.55H278.89V1887.4ZM278.74 1887.4V1837.18H283.15V1887.4ZM283 1887.4V1845.55H286.16V1887.4ZM286.01 1887.4V1853.92H293.68V1887.4ZM293.53 1887.4V1862.29H297.44V1887.4ZM297.29 1887.4V1870.66H301.45V1887.4ZM301.3 1887.4V1845.55H303.71V1887.4ZM303.56 1887.4V1853.92H313.99V1887.4ZM313.84 1887.4V1862.29H325.02V1887.4ZM324.87 1887.4V1870.66H326.52V1887.4ZM326.37 1887.4V1879.03H337.55V1887.4ZM358.96 1887.4V1870.66H367.13V1887.4ZM366.98 1887.4V1862.29H370.89V1887.4ZM370.74 1887.4V1870.66H380.42V1887.4ZM380.27 1887.4V1862.29H382.68V1887.4ZM382.53 1887.4V1845.55H395.96V1887.4ZM395.81 1887.4V1837.18H397.72V1887.4ZM397.57 1887.4V1845.55H399.72V1887.4ZM399.57 1887.4V1862.29H400.98V1887.4ZM400.83 1887.4V1870.66H402.23V1887.4ZM402.08 1887.4V1879.03H413.51V1887.4ZM413.36 1887.4V1870.66H425.29V1887.4ZM425.14 1887.4V1862.29H427.3V1887.4ZM427.15 1887.4V1853.92H433.07V1887.4ZM432.92 1887.4V1862.29H435.57V1887.4ZM435.42 1887.4V1870.66H447.86V1887.4ZM447.71 1887.4V1879.03H455.63V1887.4Z" fill="#92c4de"/>
<path d="M440 1887.4V1870.66H447.81V1887.4ZM447.66 1887.4V1879.03H455.82V1887.4ZM463.68 1887.4V1879.03H466.26V1887.4ZM466.11 1887.4V1870.66H479.15V1887.4ZM479 1887.4V1879.03H482.98V1887.4ZM508.94 1887.4V1870.66H520.93V1887.4ZM520.78 1887.4V1862.29H527.2V1887.4ZM527.05 1887.4V1845.55H534.86V1887.4ZM534.71 1887.4V1853.92H537.64V1887.4ZM537.49 1887.4V1862.29H549.83V1887.4ZM542.37 1887.4V1853.92H543.56V1887.4ZM549.68 1887.4V1845.55H560.28V1887.4ZM560.13 1887.4V1853.92H562.71V1887.4ZM562.56 1887.4V1862.29H571.77V1887.4ZM571.62 1887.4V1870.66H575.94V1887.4ZM575.79 1887.4V1879.03H584.65V1887.4ZM590.77 1887.4V1879.03H593.35V1887.4ZM593.2 1887.4V1870.66H607.28V1887.4ZM607.13 1887.4V1879.03H609.02V1887.4ZM608.87 1887.4V1870.66H610.76V1887.4ZM610.61 1887.4V1879.03H617.73V1887.4ZM617.58 1887.4V1870.66H651.85V1887.4ZM624.89 1887.4V1862.29H626.08V1887.4ZM636.03 1887.4V1862.29H638.62V1887.4ZM651.7 1887.4V1879.03H654.29V1887.4ZM660.06 1887.4V1879.03H673.44V1887.4ZM673.29 1887.4V1870.66H682.84V1887.4ZM682.69 1887.4V1879.03H696.07V1887.4ZM695.92 1887.4V1870.66H697.81V1887.4ZM697.66 1887.4V1862.29H710V1887.4ZM709.85 1887.4V1870.66H734.37V1887.4ZM734.22 1887.4V1879.03H762.23V1887.4ZM762.08 1887.4V1870.66H776.15V1887.4ZM776 1887.4V1879.03H777.89V1887.4ZM801.07 1887.4V1879.03H819.68V1887.4ZM882.9 1887.4V1879.03H890.36V1887.4ZM890.21 1887.4V1870.66H898.02V1887.4ZM897.87 1887.4V1879.03H907.42V1887.4ZM910.75 1887.4V1879.03H914.73V1887.4ZM914.58 1887.4V1870.66H923.44V1887.4ZM923.29 1887.4V1879.03H930.4V1887.4Z" fill="#92c4de"/>
<path d="M953.41 1887.4V1879.03H969.23V1887.4ZM995.19 1887.4V1879.03H999.52V1887.4ZM999.37 1887.4V1870.66H1010.31V1887.4ZM1010.16 1887.4V1879.03H1011.71V1887.4ZM1035.93 1887.4V1879.03H1056.28V1887.4ZM1079.45 1887.4V1879.03H1116.51V1887.4ZM1099.3 1887.4V1870.66H1100.5V1887.4ZM1134.47 1887.4V1879.03H1138.8V1887.4ZM1138.65 1887.4V1870.66H1147.85V1887.4ZM1147.7 1887.4V1862.29H1168.39V1887.4ZM1168.24 1887.4V1879.03H1184.06V1887.4ZM1183.91 1887.4V1870.66H1191.37V1887.4ZM1191.22 1887.4V1879.03H1199.03V1887.4ZM1198.88 1887.4V1862.29H1202.51V1887.4ZM1202.36 1887.4V1853.92H1208.43V1887.4ZM1208.28 1887.4V1862.29H1212.96V1887.4ZM1212.81 1887.4V1879.03H1215.75V1887.4ZM1215.6 1887.4V1870.66H1221.67V1887.4ZM1221.52 1887.4V1879.03H1232.11V1887.4ZM1231.96 1887.4V1870.66H1253.7V1887.4ZM1253.55 1887.4V1879.03H1291.3V1887.4ZM1300.9 1887.4V1879.03H1308.71V1887.4ZM1308.56 1887.4V1870.66H1313.24V1887.4ZM1313.09 1887.4V1853.92H1324.38V1887.4ZM1324.23 1887.4V1837.18H1332.39V1887.4ZM1332.24 1887.4V1853.92H1342.84V1887.4ZM1342.69 1887.4V1862.29H1345.97V1887.4ZM1345.82 1887.4V1870.66H1356.41V1887.4ZM1356.26 1887.4V1879.03H1368.6V1887.4ZM1368.45 1887.4V1870.66H1379.05V1887.4Z" fill="#92c4de"/>
<text transform="translate(46 1916.6) scale(1.0012 1)" font-size="18.7" fill="#1c1a1b">SEACR</text>
<rect x="131.3" y="1902.4" width="206.9" height="11.3" fill="#92c4de"/>
<text transform="translate(734.7 1927.1) scale(0.9803 1)" font-size="25.2" font-weight="bold" fill="#1c1a1b">BTN3A3</text>
<line x1="841" y1="1919.6" x2="910.6" y2="1919.6" stroke="#1c1a1b" stroke-width="1.5" stroke-linecap="butt"/>
<path d="M916.6 1919.6 L902 1913.7 L906.2 1919.6 L902 1925.5 Z" fill="#1c1a1b"/>
<line x1="255" y1="1946.3" x2="1220" y2="1946.3" stroke="#000" stroke-width="1.4" stroke-linecap="butt"/>
<rect x="247.7" y="1933.2" width="14.2" height="26.1" fill="#000"/>
<rect x="497.8" y="1933.2" width="6.6" height="26.1" fill="#000"/>
<rect x="513.4" y="1933.2" width="9.5" height="26.1" fill="#000"/>
<rect x="547.5" y="1933.2" width="31.7" height="26.1" fill="#000"/>
<rect x="699" y="1933.2" width="26.1" height="26.1" fill="#000"/>
<rect x="919.9" y="1933.2" width="19" height="26.1" fill="#000"/>
<rect x="951.6" y="1933.2" width="3.5" height="26.1" fill="#000"/>
<rect x="960.9" y="1933.2" width="4.3" height="26.1" fill="#000"/>
<rect x="1042.6" y="1933.2" width="3.9" height="26.1" fill="#000"/>
<rect x="1081" y="1933.2" width="3.8" height="26.1" fill="#000"/>
<rect x="1217.2" y="1933.2" width="153" height="26.1" fill="#000"/>
<line x1="116" y1="1976.8" x2="1401.9" y2="1976.8" stroke="#1c1a1b" stroke-width="1.8" stroke-linecap="butt"/>
<line x1="637.8" y1="1976.8" x2="637.8" y2="1987" stroke="#1c1a1b" stroke-width="1.5" stroke-linecap="butt"/>
<line x1="1070.9" y1="1976.8" x2="1070.9" y2="1987" stroke="#1c1a1b" stroke-width="1.5" stroke-linecap="butt"/>
<text transform="translate(606.4 2009.6) scale(0.9972 1)" font-size="22.5" fill="#1c1a1b">26445</text>
<text transform="translate(1040 2009.6) scale(0.9988 1)" font-size="22.5" fill="#1c1a1b">26450</text>
<text transform="translate(138.5 2009.6) scale(0.9809 1)" font-size="22.3" font-weight="bold" fill="#1c1a1b">chr6</text>
<text transform="translate(1356 2010) scale(0.9689 1)" font-size="22.3" font-weight="bold" fill="#1c1a1b">Kb</text>
<!-- panel e -->
<text transform="translate(-1.4 2049.8) scale(1.0000 1)" font-size="25.7" font-weight="bold" fill="#1c1a1b">e</text>
<line x1="111.3" y1="2067.4" x2="111.3" y2="2379.1" stroke="#1c1a1b" stroke-width="1.3" stroke-linecap="butt"/>
<line x1="103.3" y1="2068" x2="111.3" y2="2068" stroke="#1c1a1b" stroke-width="1.25" stroke-linecap="butt"/>
<text transform="translate(72.1 2074.8) scale(0.9461 1)" font-size="19.2" fill="#1c1a1b">250</text>
<line x1="103.3" y1="2130.3" x2="111.3" y2="2130.3" stroke="#1c1a1b" stroke-width="1.25" stroke-linecap="butt"/>
<text transform="translate(72.1 2137.1) scale(0.9461 1)" font-size="19.2" fill="#1c1a1b">200</text>
<line x1="103.3" y1="2192.4" x2="111.3" y2="2192.4" stroke="#1c1a1b" stroke-width="1.25" stroke-linecap="butt"/>
<text transform="translate(72.1 2199.2) scale(0.9461 1)" font-size="19.2" fill="#1c1a1b">150</text>
<line x1="103.3" y1="2254.5" x2="111.3" y2="2254.5" stroke="#1c1a1b" stroke-width="1.25" stroke-linecap="butt"/>
<text transform="translate(72.1 2261.3) scale(0.9461 1)" font-size="19.2" fill="#1c1a1b">100</text>
<line x1="103.3" y1="2316.6" x2="111.3" y2="2316.6" stroke="#1c1a1b" stroke-width="1.25" stroke-linecap="butt"/>
<text transform="translate(82.2 2323.4) scale(0.9461 1)" font-size="19.2" fill="#1c1a1b">50</text>
<line x1="103.3" y1="2378.5" x2="111.3" y2="2378.5" stroke="#1c1a1b" stroke-width="1.25" stroke-linecap="butt"/>
<text transform="translate(92.3 2385.3) scale(0.9461 1)" font-size="19.2" fill="#1c1a1b">0</text>
<line x1="103.3" y1="2378.5" x2="246.9" y2="2378.5" stroke="#1c1a1b" stroke-width="1.3" stroke-linecap="butt"/>
<line x1="143.2" y1="2378.5" x2="143.2" y2="2389.9" stroke="#1c1a1b" stroke-width="1.25" stroke-linecap="butt"/>
<line x1="178.7" y1="2378.5" x2="178.7" y2="2389.9" stroke="#1c1a1b" stroke-width="1.25" stroke-linecap="butt"/>
<line x1="214.3" y1="2378.5" x2="214.3" y2="2389.9" stroke="#1c1a1b" stroke-width="1.25" stroke-linecap="butt"/>
<rect x="128.05" y="2255.35" width="31.2" height="123.15" fill="#a9a6a7" stroke="#111" stroke-width="1.7"/>
<rect x="163.45" y="2167.25" width="31.4" height="211.25" fill="#9fcae2" stroke="#111" stroke-width="1.7"/>
<rect x="199.15" y="2169.85" width="31.5" height="208.65" fill="#2e7dbe" stroke="#111" stroke-width="1.7"/>
<line x1="143.5" y1="2235.9" x2="143.5" y2="2255" stroke="#111" stroke-width="1.2" stroke-linecap="butt"/>
<line x1="135.1" y1="2235.9" x2="151.9" y2="2235.9" stroke="#111" stroke-width="1.2" stroke-linecap="butt"/>
<line x1="178.8" y1="2134.4" x2="178.8" y2="2167" stroke="#111" stroke-width="1.2" stroke-linecap="butt"/>
<line x1="170.4" y1="2134.4" x2="187.2" y2="2134.4" stroke="#111" stroke-width="1.2" stroke-linecap="butt"/>
<line x1="214.3" y1="2126.5" x2="214.3" y2="2169.6" stroke="#111" stroke-width="1.2" stroke-linecap="butt"/>
<line x1="205.9" y1="2126.5" x2="222.7" y2="2126.5" stroke="#111" stroke-width="1.2" stroke-linecap="butt"/>
<circle cx="143.5" cy="2229.1" r="3.55" fill="#000" fill-opacity="0.66"/>
<circle cx="143.5" cy="2240.3" r="3.55" fill="#000" fill-opacity="0.66"/>
<circle cx="151" cy="2251.6" r="3.55" fill="#000" fill-opacity="0.66"/>
<circle cx="135.9" cy="2258.1" r="3.55" fill="#000" fill-opacity="0.66"/>
<circle cx="143.5" cy="2269.6" r="3.55" fill="#000" fill-opacity="0.66"/>
<circle cx="143.5" cy="2280.4" r="3.55" fill="#000" fill-opacity="0.66"/>
<circle cx="171.4" cy="2145.3" r="3.55" fill="#000" fill-opacity="0.66"/>
<circle cx="186.1" cy="2151.2" r="3.55" fill="#000" fill-opacity="0.66"/>
<circle cx="178.8" cy="2203.3" r="3.55" fill="#000" fill-opacity="0.66"/>
<circle cx="214.3" cy="2137.4" r="3.55" fill="#000" fill-opacity="0.66"/>
<circle cx="214.3" cy="2152.5" r="3.55" fill="#000" fill-opacity="0.66"/>
<circle cx="214.3" cy="2218.4" r="3.55" fill="#000" fill-opacity="0.66"/>
<text transform="translate(170.79 2126.3) scale(1.0000 1)" font-size="17.5" fill="#1c1a1b">**</text>
<text transform="translate(207.89 2117.4) scale(1.0000 1)" font-size="17.5" fill="#1c1a1b">**</text>
<text transform="translate(0 0) rotate(-90) translate(-2300.4 40) scale(0.9450 1)" font-size="19.2" fill="#1c1a1b">Daudi survival (%)</text>
<text transform="translate(0 0) rotate(-90) translate(-2334.3 62.7) scale(0.9803 1)" font-size="18.6" fill="#1c1a1b">(normalized to AAVS1 KO)</text>
<text transform="translate(147.8 2401.2) rotate(-45) translate(-118.27 0) scale(0.9750 1)" font-size="19.2" fill="#1c1a1b">AAVS1 (#4, 5)</text>
<text transform="translate(181.6 2405) rotate(-45) translate(-79.05 0) scale(0.9750 1)" font-size="19.2" fill="#1c1a1b">IRF1 (#2)</text>
<text transform="translate(217 2405.2) rotate(-45) translate(-68.65 0) scale(0.9750 1)" font-size="19.2" fill="#1c1a1b">IRF (#3)</text>
<text transform="translate(109.5 2499.5) scale(0.9413 1)" font-size="19.2" fill="#1c1a1b">Daudi Gene KO</text>
<text transform="translate(140.7 2516.2) scale(0.9902 1)" font-size="19" fill="#1c1a1b">sgRNA</text>
</svg>
</body></html>
